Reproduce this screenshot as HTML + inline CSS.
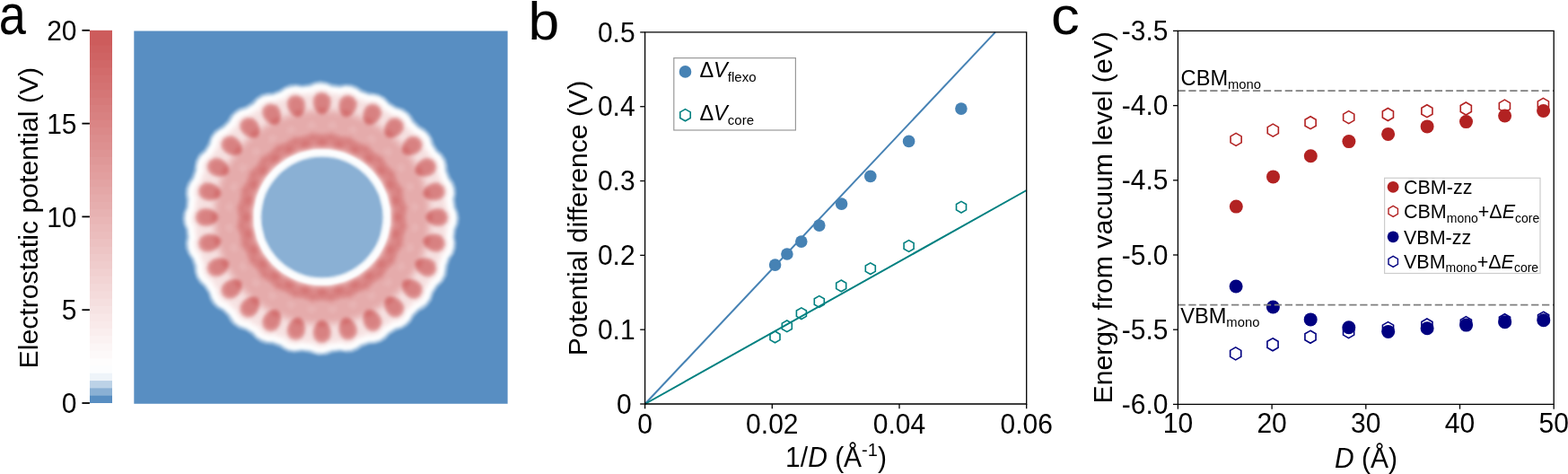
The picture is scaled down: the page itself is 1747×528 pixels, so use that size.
<!DOCTYPE html>
<html><head><meta charset="utf-8"><title>Figure</title>
<style>html,body{margin:0;padding:0;background:#fff;overflow:hidden;}svg{display:block;}text{font-variant-ligatures:none;font-kerning:normal;}</style></head>
<body><svg width="1747" height="528" viewBox="0 0 1747 528">
<defs>
<clipPath id="hmclip"><rect x="149.3" y="34.4" width="416.3" height="415.3"/></clipPath>
<filter id="hmblur" x="-5%" y="-5%" width="110%" height="110%" color-interpolation-filters="sRGB"><feGaussianBlur stdDeviation="1.1"/></filter>
</defs>
<rect width="1747" height="528" fill="#fff"/>
<rect x="100" y="33.80" width="25.0" height="415.20" fill="#cd5c5c"/>
<rect x="100" y="42.10" width="25.0" height="406.90" fill="#cd5c5c"/>
<rect x="100" y="50.41" width="25.0" height="398.59" fill="#ce6060"/>
<rect x="100" y="58.71" width="25.0" height="390.29" fill="#cf6363"/>
<rect x="100" y="67.02" width="25.0" height="381.98" fill="#d06767"/>
<rect x="100" y="75.32" width="25.0" height="373.68" fill="#d26b6b"/>
<rect x="100" y="83.62" width="25.0" height="365.38" fill="#d36f6f"/>
<rect x="100" y="91.93" width="25.0" height="357.07" fill="#d47272"/>
<rect x="100" y="100.23" width="25.0" height="348.77" fill="#d57676"/>
<rect x="100" y="108.54" width="25.0" height="340.46" fill="#d67a7a"/>
<rect x="100" y="116.84" width="25.0" height="332.16" fill="#d77e7e"/>
<rect x="100" y="125.14" width="25.0" height="323.86" fill="#d88181"/>
<rect x="100" y="133.45" width="25.0" height="315.55" fill="#da8585"/>
<rect x="100" y="141.75" width="25.0" height="307.25" fill="#db8989"/>
<rect x="100" y="150.06" width="25.0" height="298.94" fill="#dc8d8d"/>
<rect x="100" y="158.36" width="25.0" height="290.64" fill="#dd9090"/>
<rect x="100" y="166.66" width="25.0" height="282.34" fill="#de9494"/>
<rect x="100" y="174.97" width="25.0" height="274.03" fill="#df9898"/>
<rect x="100" y="183.27" width="25.0" height="265.73" fill="#e19c9c"/>
<rect x="100" y="191.58" width="25.0" height="257.42" fill="#e29f9f"/>
<rect x="100" y="199.88" width="25.0" height="249.12" fill="#e3a3a3"/>
<rect x="100" y="208.18" width="25.0" height="240.82" fill="#e4a7a7"/>
<rect x="100" y="216.49" width="25.0" height="232.51" fill="#e5abab"/>
<rect x="100" y="224.79" width="25.0" height="224.21" fill="#e6aeae"/>
<rect x="100" y="233.10" width="25.0" height="215.90" fill="#e7b2b2"/>
<rect x="100" y="241.40" width="25.0" height="207.60" fill="#e9b6b6"/>
<rect x="100" y="249.70" width="25.0" height="199.30" fill="#eababa"/>
<rect x="100" y="258.01" width="25.0" height="190.99" fill="#ebbdbd"/>
<rect x="100" y="266.31" width="25.0" height="182.69" fill="#ecc1c1"/>
<rect x="100" y="274.62" width="25.0" height="174.38" fill="#edc5c5"/>
<rect x="100" y="282.92" width="25.0" height="166.08" fill="#eec9c9"/>
<rect x="100" y="291.22" width="25.0" height="157.78" fill="#efcccc"/>
<rect x="100" y="299.53" width="25.0" height="149.47" fill="#f1d0d0"/>
<rect x="100" y="307.83" width="25.0" height="141.17" fill="#f2d4d4"/>
<rect x="100" y="316.14" width="25.0" height="132.86" fill="#f3d8d8"/>
<rect x="100" y="324.44" width="25.0" height="124.56" fill="#f4dbdb"/>
<rect x="100" y="332.74" width="25.0" height="116.26" fill="#f5dfdf"/>
<rect x="100" y="341.05" width="25.0" height="107.95" fill="#f6e3e3"/>
<rect x="100" y="349.35" width="25.0" height="99.65" fill="#f8e7e7"/>
<rect x="100" y="357.66" width="25.0" height="91.34" fill="#f9eaea"/>
<rect x="100" y="365.96" width="25.0" height="83.04" fill="#faeeee"/>
<rect x="100" y="374.26" width="25.0" height="74.74" fill="#fbf2f2"/>
<rect x="100" y="382.57" width="25.0" height="66.43" fill="#fcf6f6"/>
<rect x="100" y="390.87" width="25.0" height="58.13" fill="#fdf9f9"/>
<rect x="100" y="399.18" width="25.0" height="49.82" fill="#fefdfd"/>
<rect x="100" y="407.48" width="25.0" height="41.52" fill="#fcfdfe"/>
<rect x="100" y="415.78" width="25.0" height="33.22" fill="#eef4f9"/>
<rect x="100" y="424.09" width="25.0" height="24.91" fill="#bcd2e7"/>
<rect x="100" y="432.39" width="25.0" height="16.61" fill="#8ab0d4"/>
<rect x="100" y="440.70" width="25.0" height="8.30" fill="#588ec2"/>
<line x1="91.4" y1="449.00" x2="99.9" y2="449.00" stroke="#000" stroke-width="1.8"/>
<text transform="translate(85.50,460.20) scale(1.0,1.045)" text-anchor="end" font-size="30" font-family="Liberation Sans, Arial, Helvetica, sans-serif">0</text>
<line x1="91.4" y1="345.20" x2="99.9" y2="345.20" stroke="#000" stroke-width="1.8"/>
<text transform="translate(85.50,356.40) scale(1.0,1.045)" text-anchor="end" font-size="30" font-family="Liberation Sans, Arial, Helvetica, sans-serif">5</text>
<line x1="91.4" y1="241.40" x2="99.9" y2="241.40" stroke="#000" stroke-width="1.8"/>
<text transform="translate(85.50,252.60) scale(1.0,1.045)" text-anchor="end" font-size="30" font-family="Liberation Sans, Arial, Helvetica, sans-serif">10</text>
<line x1="91.4" y1="137.60" x2="99.9" y2="137.60" stroke="#000" stroke-width="1.8"/>
<text transform="translate(85.50,148.80) scale(1.0,1.045)" text-anchor="end" font-size="30" font-family="Liberation Sans, Arial, Helvetica, sans-serif">15</text>
<line x1="91.4" y1="33.80" x2="99.9" y2="33.80" stroke="#000" stroke-width="1.8"/>
<text transform="translate(85.50,45.00) scale(1.0,1.045)" text-anchor="end" font-size="30" font-family="Liberation Sans, Arial, Helvetica, sans-serif">20</text>
<text transform="translate(42.20,242.60) rotate(-90)" text-anchor="middle" font-size="30.2" font-family="Liberation Sans, Arial, Helvetica, sans-serif">Electrostatic potential (V)</text>
<text transform="translate(-1.20,38.20) scale(0.86,1.0)" font-size="63" font-family="Liberation Sans, Arial, Helvetica, sans-serif">a</text>
<g clip-path="url(#hmclip)"><g filter="url(#hmblur)" transform="translate(149.3,34.4)"><rect x="-10" y="-10" width="436" height="436" fill="#588ec2"/><path fill="#8ab0d4" d="M214.5 361.5l-9 0.5-11-3-7-1-9 1-7-1-5-2.5-5-3-7-2.5-9-1-5-2-5-3.5-5-5-6-4-8-2.5-6.5-4.5-3.5-4-3-5.5-5.5-5.5-6.5-3.5-4.5-4.5-3-5-2-7-4.5-7-5-4.5-3.5-5.5-2-6-1-7-2.5-7.5-4-6.5-2.5-6-0.5-6 1-7-0.5-8-2.5-6-1-6 0.5-6 3-8 0.5-7-1-7 0.5-6 2-6 4.5-7 2.5-7 2-11 3.5-7 6.5-6 3.5-6 3.5-9 4.5-6 9-6 5-5 3.5-6 4.5-4.5 5-3.5 7-2 6.5-4 5.5-5.5 6-4 6-1.5 7-0.5 6.5-2.5 6.5-4 6-2.5 7-0.5 7 1 7-1 7-2.5 6-1 6 1 8 2.5 7 1 8-1 6 0.5 6 2 6 4 6.5 2.5 11.5 2 7 3.5 6 6 7 4.5 8 2.5 6 4.5 3.5 4 3 5 5.5 5.5 6 3.5 5 5 3.5 6 2 6 3.5 6 5.5 5 4 6 1.5 6 1 7.5 2.5 6.5 4 6 2 6 0.5 6-1 8 1 7 2.5 7 1 6-1 7-2.5 6-1 8 1 7-0.5 6-2 6-4 6-2.5 7-1.5 11-4 7-6 6-4.5 7-2.5 8-4.5 6-4 3.5-5 2.5-6 6-3.5 6-4.5 4.5-5 3-7 2.5-7 4-5 5.5-5 3-6 2-7 0.5-8 3-5 3.5-6 2.5-6 0.5-8-1-8 1-7 2.5z"/>
<path fill="#bcd2e7" d="M214.5 359.5l-8 1-5-1-6-2.5-8-1-9 1-6-1-5-2-5-3.5-8-3-7-0.5-6-2-5-3-5-5.5-7-4-8-3-5-3.5-3-3.5-3.5-6-5.5-5.5-6-3.5-4.5-4-3-5-2.5-7-4.5-7-5-5-3.5-5-2-6-0.5-7-2.5-7-4-6-2-6-1-6 1.5-7-1-8-2.5-6-1-6 1-7 2.5-6 0.5-8-1-7 0.5-6 2.5-6 4-6 3-8 0-5 1-5 3-6 6.5-6 4.5-7 2.5-8 4.5-6 9-6 6-6 3.5-6 4.5-4.5 5-3 7-2.5 7-4 4.5-5 5.5-3.5 6-2 6 0 8-3 6-4 6-2 6-0.5 7 1 8-1 6-2.5 6-1 7 1 6 2.5 9 1 7-1 6 0.5 6 2.5 5 3.5 8 3 6 0 5 1.5 6 3 6 6.5 7 4 8 3 6 4 6 9 5.5 5.5 6.5 4 4 4 3.5 5 2 7 4.5 7 5 4.5 3.5 5.5 2 6 0 6 3 8 4 6 2 6 0.5 6-1 6 1 9 2.5 6 1 6-1 6-2.5 7-1 8 1 7-0.5 6-2 6-4 5-2.5 8-2 11-3 6-6 5.5-4.5 7.5-2.5 7-4 6-4 3.5-6 3.5-5 5-3.5 6-4.5 4.5-5 3.5-7 2-7 4.5-5 5-5 3.5-6 2-7 0.5-7.5 2.5-5.5 3.5-6 2.5-7 0.5-6-1-9 1-6 2.5zM216.5 273.5l14-3 11.5-5 11.5-8 8-8.5 7-10 5-12 2.5-13.5 0-14-3.5-14.5-5-10.5-7-10-9.5-9-11-7-12.5-5-12-2-13 0-14 3-11.5 5-11.5 8-8 8.5-7 10-5 12-2.5 13.5 0 14 3.5 14.5 5 10.5 7 10 9.5 9 11 7 12.5 5 12 2 13 0z"/>
<path fill="#eef4f9" d="M210.5 358.5l-7-0.5-7-2.5-10-1-8 1-6-1-4-2-5-3.5-9-3-6-0.5-6-2-5-3-4.5-5-7.5-4.5-8-3-5-3.5-6-9-6.5-6-5.5-3-4-4-3-5-2.5-7-4.5-7-5-5-3.5-5-1.5-5-0.5-7-3-8-4-6-2-5-0.5-6 1-7-1-9-2.5-6-0.5-6 0.5-6 2.5-6 1-9-1-6 0.5-6 2.5-6 3.5-5 3-9 0.5-6 2-6 3-4.5 5-4.5 5-8 1.5-6 3-5 4.5-4 6-3.5 6-6 5.5-8.5 5.5-4 8-2.5 8-5 5-5.5 6-3.5 11-1.5 8-3 6-4 5-1.5 6-1 7 1 9-1 6-2.5 6-0.5 6 1 6 2.5 9 1 6-1.5 6 0.5 6 2.5 5 3.5 9 3 6 0.5 6 1.5 5 3.5 5 5 7 4.5 6.5 2 5 3 4.5 4.5 3 5.5 6 6 9 6 4 5 2.5 8 5 8 5.5 5 3.5 6 1.5 11 3 8 4 6 2 5 0.5 6-1.5 6 1.5 9 2.5 7 0.5 5-0.5 6-2.5 6-1 9 1 6-0.5 6-2 6-4 5.5-3 8.5-1.5 10-3.5 6.5-5.5 5.5-4.5 7-3 8-4 5.5-8.5 5.5-6.5 6.5-3 5.5-4 4.5-5 3-7 2-7 4.5-5 5-5 3.5-6 1.5-6 0.5-9 3-5 3.5-6 2.5-6 0.5-6-1-9 1-10 3zM209.5 275.5l13-1 13-4 12-6.5 10.5-8.5 8.5-10.5 6.5-11.5 3.5-13 1.5-13-1.5-13-3.5-13-6.5-11.5-8.5-10.5-10.5-8.5-12-6.5-13-4-13-1-13 1-13 4-12 6.5-10.5 8.5-8.5 10.5-6.5 11.5-3.5 13-1.5 13 1.5 13 3.5 13 6.5 11.5 8.5 10.5 10.5 8.5 12 6.5 13 4 13 1z"/>
<path fill="#fcfdfe" d="M211.5 356.5l-7 0-8-3-10-1-7 1-7-1-8-5-9-3.5-7 0-5-2-5-3-4-5-8-5-8-2.5-5-3.5-5.5-8.5-6.5-6.5-6-3-4-4-2.5-4.5-2-6-5.5-9-4-3.5-3.5-4.5-2-6 0-6-3.5-9-3.5-5-2-6-0.5-5 1-6-1-10-2.5-6-1-5 1-6 2.5-6 1-10-1-6 0.5-6 2-5 3.5-5 3-9 1.5-10 3.5-6 5.5-5 5-8 2.5-8 4-5 8-5 7-7 2.5-5 4.5-4.5 5-3 6-1.5 8-5 5-5.5 5-3 5-1.5 6 0 9-3.5 5-3.5 5-2 6-0.5 6 1 10-1 6-2.5 5-0.5 6 0.5 6 2.5 10 1 6-1 6 0.5 6 2.5 4 3 9.5 3.5 5.5 0 5 1.5 5 2.5 5.5 6 8.5 5 7 2.5 5 3.5 6 8.5 6.5 6.5 5.5 3 4 4 3 5 2 6 5 8 5.5 5 3 5 1.5 5 0 6 3.5 9 4 6 1.5 5 0.5 5-1 6 1 10 2.5 5 1 6-1 5-2.5 7-1 9 1 7-0.5 5-1.5 5-4.5 6-3 9 0 5-1.5 5-3.5 6-5 4.5-5.5 8.5-2 7-3.5 5-9 6-6 6-3.5 6-4 4-4.5 3-6 1.5-9 5.5-3.5 4-4.5 3.5-6 2-6 0-10 3.5-5 3.5-5 2-6 0.5-6-1-10 1-8 3zM219 276.5l11.5-2.5 14-6 11-8 9-9.5 7.5-11 5-13 2.5-13-0.5-15-3-13-5.5-12-7.5-11-9.5-9-11-7.5-12-5-14-3-14 0-14 3-12 5-12 8-9.5 9.5-8 12-5 13-2.5 13 0.5 15 3 13 6 13 8 11 10.5 10 11 6.5 13 5 14 2 13.5-0.5z"/>
<path fill="#fefdfd" d="M213.5 354.5l-8 0.5-8-3-11-1-7 1-6-1-4-1.5-4-3.5-10-3.5-7 0-5-2-4-3-4-4.5-9-5.5-6-1.5-5.5-3.5-3-4-2.5-4.5-7.5-7.5-5.5-3-4-3.5-2.5-4.5-1.5-6-6-9-4-3.5-3.5-4.5-1.5-5 0-6-3.5-10-4-5-2-5 0-6 1-5-1.5-11-2-5-1-5 1-6 2.5-6 1-10-1-6 0-5 2-5 3.5-5 4-10 0.5-9 3.5-6 5.5-5 5.5-9 2-7 4-5 8-5 7-7 3-5.5 4-4 5-3 5-1 9-5.5 4.5-5 4.5-3 5-1.5 6 0 10-3.5 5-4 5-1.5 5-0.5 6 1 11-1 5-2.5 5-1 6 1 6 2.5 10 1 6-1 6 0.5 5 2 5 3.5 9 3 10 1.5 5 2.5 5 5.5 9 6 7 2 5.5 3.5 5 8 7.5 7.5 5 2.5 4.5 4 2 4 2.5 7 5 8 5 4.5 3 4.5 1.5 5 0 6 3.5 10 4 5 2 5 0 5-1 6 1 10 2.5 6 1 5-1 6-2.5 5-1 11 1 5-0.5 6-2 5-3.5 5-3.5 10 0 5-1 4-2.5 5-6 5.5-5.5 8.5-2 7-3.5 5-4 3-4 2-8 8-2.5 5-4 4-4.5 2.5-6 2-9 5.5-3.5 4-4.5 3.5-5 1.5-6 0-10 3.5-5 3.5-5 2-6 0.5-6-1-10 1-6 2.5zM216.5 282.5l15-3 16-7 9-6 13-13 8-12.5 5-13 2-9.5 0.5-11-0.5-11.5-3-12-6-13.5-6-9-13-13-10.5-7-14.5-6-15-3-14 0-15 3-16 7-9 6-13 13-8 12.5-5 13-2 9.5-0.5 11 0.5 11.5 3 12 6 13.5 6 9 13 13 10.5 7 14.5 6 15 3 14 0z"/>
<path fill="#fdf9f9" d="M212.5 353.5l-7 0.5-8-3-11-1.5-7 1.5-6-1-8-5-10-3.5-6-0.5-5-1.5-4-2.5-4-4.5-9.5-6-7.5-2.5-4-3-5-8-8-7.5-5-2.5-3.5-3.5-3-5-1.5-5.5-6-9.5-4-3-3.5-5-1.5-5 0-5-3.5-11-3.5-4-2-5-0.5-5 1.5-6-1.5-11-2-5-1-5 0.5-6 2.5-5 1-11-1-6 0.5-5 2-5 3-4 4-11 0-5 1-4 3-5 5.5-5 5.5-9 2-7 4-5 7.5-5 7.5-7 3-6 4-4 4-2 6-1.5 8.5-5.5 4.5-5 4-2.5 5-1.5 6-0.5 10.5-3.5 4.5-3.5 5-2 5-0.5 6 1.5 11-1.5 6-2.5 5-0.5 5 0.5 5 2.5 11 1.5 6-1.5 5 0.5 5 2 5 3.5 10 3.5 9 1 5 2.5 6 6 9 6 6 1 5.5 4 5 8 7.5 7.5 6 3 3.5 3.5 2.5 4 1.5 6 5.5 9 5 4 2.5 4 1.5 5 0.5 6 3.5 10.5 3.5 4.5 2 5 0.5 5-1.5 6 1.5 11 2.5 5 0.5 5-0.5 5-2.5 6-1.5 11 1.5 5-0.5 5-1.5 5-4 5-4 11-0.5 8-2.5 5-6 5.5-6 9.5-1.5 6-3.5 5-3 2.5-5 2.5-8 8-2.5 5-3.5 4-5 2.5-5.5 1.5-9.5 6-3 4-5 3.5-5 1.5-6 0-10 3.5-5 3.5-4 2-5 0.5-7-1.5-11 1.5-6 2.5zM218.5 282.5l14-3 14-6 14-10 10-11 8-13.5 5-14 2-14-1-16-4-14.5-6-12-8-11-11-10-13-8-13.5-5-10.5-2-18 0-14 3-14 6-14 10-10 11-8 13.5-5 14-2 14 1 16 4 14.5 6 12 8 11 11 10 13 8 13.5 5 10.5 2 18 0z"/>
<path fill="#fcf6f6" d="M211.5 352.5l-6 0.5-7-3-12-1.5-6 1.5-6-1-4-2-4-3-11-4-5 0-5-1-4-2.5-4-5-10-6-6-1.5-5-3.5-5-8-8-8-5-2.5-4-3.5-2.5-4-1.5-6-6-9.5-4.5-3.5-2.5-4-1.5-5-0.5-6-4-11-3-4-2-5-0.5-5 1.5-5-1.5-12-2.5-5-0.5-5 1-5 2-5 1.5-11-1.5-6 0.5-5 1.5-4 4-5 4-11 0-5 1-5 2.5-4 5-4 6-9.5 1.5-5.5 3-5 3.5-3 5-2.5 8-8 2-4.5 3-3.5 5-3.5 6-1.5 9-5.5 6-6 5-2.5 8-1 11-3.5 5-3.5 5-2 5-0.5 5 1.5 11-1.5 6-2.5 5-0.5 5 0.5 5 2.5 11 1.5 6-1.5 5 0.5 5 2 4.5 3.5 10.5 3.5 6 0 4 1 5 3.5 5 5.5 8 5 7 1.5 5 3.5 5 8.5 7 7 6 3 3.5 3 2.5 4 2 7.5 5.5 8.5 4.5 3.5 2.5 3.5 2 5-0.5 6 4 11 3.5 4 2 5 0.5 5-1.5 6 1.5 11 2.5 5 1 5-1 5-2.5 6-1.5 11 1.5 5-0.5 5-2 5-3.5 5-3.5 10-1 9-3 5-5.5 5-5.5 9-2 7-3.5 4.5-8 5-7.5 7.5-3 6-3.5 3.5-4 2-6 1.5-9.5 6-3.5 4.5-4 2.5-5 1.5-6 0.5-11 3.5-4 3.5-5 2-5 0-6-1-11 1.5-7 2.5zM219.5 282.5l16.5-4 12.5-6 12-9 11-12 8-14 4-12 2-14 0-10-1-7-4-14.5-7-13.5-9-11.5-10-8.5-11.5-7-13.5-5-12-2-18 0-16.5 4-12.5 6-12 9-11 12-8 14-4 12-2 14 0 10 1 7 4 14.5 7 13.5 9 11.5 10 8.5 11.5 7 13.5 5 12 2 18 0z"/>
<path fill="#fbf2f2" d="M211.5 351.5l-6 0.5-7-3-12-1.5-6 1.5-6-1-4-2-3-2.5-12-4.5-5 0.5-5-1.5-4-3-4-4.5-10-6.5-6-1.5-4.5-3-4.5-7.5-9-8.5-4-2-4-3.5-2.5-4.5-1.5-5-6-10-5-4-2.5-4-1-4-0.5-6-3.5-11-3.5-4-2-5-0.5-5 1.5-5-1.5-12-2.5-5-0.5-5 1-5 2-4 1.5-12-1.5-6 0.5-5 1.5-4 3.5-4 4.5-12-0.5-5 1-4 3.5-5 4.5-4 6-9 2-7 3.5-5 7-4 8.5-8 2.5-5 3.5-4 4-2.5 6-1.5 9-5.5 5-5.5 4-2.5 4-1 7-0.5 9-3 6-4.5 4-1.5 5-0.5 6 1.5 11-1 5-2.5 5-1 5 0.5 6 3 9 1.5 8-2 5 0.5 4 2 5 4 8 3 2 0.5 6 0 4 0.5 4.5 3 5.5 6.5 7 4.5 7 1.5 5.5 3.5 5.5 9.5 7 6.5 6 2.5 3.5 3.5 2 4 1.5 7 5.5 8 5.5 4 2.5 4 1 4 0 6 0.5 2.5 3 7.5 4 5 2 4 0.5 5-2 8 1.5 9 3 6 0.5 5-1 5-2.5 5-1 10 1.5 7-0.5 5-1.5 4-4.5 5.5-3 9.5 0 6-1 4-3 4.5-5.5 4.5-5.5 9-1.5 6-3.5 5.5-4 3-4 1.5-8 8.5-2 4.5-4 4-4 2.5-6 1.5-10 6.5-4 4.5-4 2.5-4 1-6 0.5-11 3.5-5 4-4 1.5-5 0.5-6-1.5-12 1.5-6 2.5zM220.5 282.5l13-3 13.5-6 11.5-8 10-10 8-11.5 6-14 3-15 0-15-3-15-6-14-8-11.5-11-11-12.5-8-15-6-14.5-2.5-17 0.5-13 3-13.5 6-11.5 8-10 10-8 11.5-6 14-3 15 0 15 3 15 6 14 8 11.5 11 11 12.5 8 15 6 14.5 2.5 17-0.5z"/>
<path fill="#faeeee" d="M212.5 350.5l-6 0.5-8-3-11-1-7 1-6-1-7-4.5-12-4.5-5 0.5-5-1.5-3-2.5-4-4.5-10-6.5-6-1.5-5-3-4.5-7.5-8.5-8.5-5-2.5-3.5-3-2-4-1-5-6.5-10-5-4.5-2.5-3.5-1.5-4 0-6-3.5-11-4-5-1.5-4-0.5-5 1.5-5-1.5-12-2.5-5-1-5 1-4 2-5 2-12-1.5-6 0-4 2-5 4-5 3.5-10 0.5-9 3-5 5.5-5 6-9 1.5-7 3.5-4.5 7.5-4.5 8.5-8 2-5 4-4.5 4-2 7-1.5 8-5 4-5 5-3.5 4-1 7 0 8-2.5 6-4.5 4-2 5-0.5 8 2 7-0.5 2-0.5 6-3.5 4-0.5 5 0.5 7 3.5 7 1 3 0 5-1.5 5 0 5 2 6 5 6 2 3 1 5-1 4 1 4.5 2.5 5.5 7 6 3.5 2.5 1.5 7.5 1.5 4 2.5 2.5 3 1.5 5 2 2.5 6 5.5 6 2.5 4 3.5 1.5 3 1.5 7.5 1.5 2.5 4 6 5.5 4 2.5 3 1.5 5-0.5 6 0.5 3 3 7 4.5 5 2 5 0 5-1.5 5 0 3 1 7 3.5 7 0.5 4-0.5 5-3.5 6 0 2-1 7 1.5 7 0 5-2 5-4.5 6-2.5 8-1 10-3 5-6 5-4.5 7.5-2.5 8.5-2.5 3.5-4 3-5 2.5-7 7-3 6-3 3.5-4 2-6.5 1.5-8.5 5.5-4.5 5.5-3.5 2.5-5 1.5-6-0.5-11 4.5-5 3.5-4 1.5-5 0.5-5-1.5-13 1.5-5 2.5zM221.5 282.5l15-4 12.5-6 12-9 8.5-9 7-10.5 6-14 3-14 0-17-4-17-7-14.5-10-12.5-11-9.5-14.5-8-12.5-4-14-1.5-15 0.5-15 4-12.5 6-12 9-8.5 9-7 10.5-6 14-3 14 0 17 4 17 7 14.5 10 12.5 11 9.5 14.5 8 12.5 4 14 1.5 15-0.5z"/>
<path fill="#f9eaea" d="M209.5 350.5l-5-0.5-7-3-10-1-6 1.5-5-0.5-4-1.5-4-4-2-0.5-10-3.5-5 0.5-4-1-4-2.5-5-6-9-5.5-7-1.5-4.5-3-5.5-9-7-7-5-2-4-3.5-2.5-4.5-1-5-5.5-9-5.5-5-2-3-2-5 0-6-3-10-4-5-2-5-0.5-4 1.5-6-1-10 0-2-3-5-0.5-4 0.5-4 3-7 1-9 0.5-2-2-5 0.5-5 1.5-4 4.5-6 3-8 1-2-1-5 1-4 2.5-4 7-6 4-6 1-2 1.5-7 2.5-4 3-2.5 7.5-3.5 4.5-4.5 2-2.5 2-5 3-3.5 4-2.5 9-2 5-3 2-1.5 3.5-5.5 3.5-2.5 5-1.5 8 0 6-1.5 3-1.5 4-4 5-2.5 4 0 8 2 7-0.5 2 0 5-3.5 5-1 5 0.5 8 4.5 5 0.5 3 0 7-2.5 4 0.5 5 2 6 5.5 5 2 3 0.5 6-1 4 0.5 5 3 5 7.5 4 2.5 3 1.5 8 1.5 5 3 2.5 3.5 1.5 5 2 3 4.5 4 6.5 2.5 4.5 3.5 2 4 1 7 1.5 3 2.5 4 7 5 3 4 1.5 5-1 5 0.5 4 2 5 6 7 1.5 4 0.5 5-2.5 6 0 3 1 5 4 8 1 5-1.5 5-2.5 4-1 3-0.5 6 2 8 0 5-2 4-4.5 5-1 2-2 6 0 9-1 4-3 4-6.5 5-4 6-1.5 8-2 4-4 3.5-6 2-1.5 1.5-5.5 6-5 9-4 2.5-9 2.5-7 4.5-6 7-4 2-4 1-6-0.5-9 3.5-5 4-5 2-5 0-6-1.5-10 1.5-6 3-4 0.5zM222 282.5l15-4 12-6 12-9 9.5-10 8-13 5-13.5 2-12.5 0-16.5-4-16.5-7-14-10-13-10.5-9-14.5-8-12.5-4-15.5-2-14.5 1-15 4-12 6-12 9-9.5 10-8 13-5 13.5-2 12.5 0 16.5 4 16.5 7 14 10 13 10.5 9 14.5 8 12.5 4 15.5 2 14.5-1z"/>
<path fill="#f8e7e7" d="M212.5 349.5l-6 0.5-8-4-8-1-10 2-5-1-9-6-8-3-8 0-4-1-3.5-2.5-3.5-5-2-1.5-7.5-4.5-6.5-1-4.5-3-6.5-10.5-5.5-5.5-6.5-3-3.5-3-2-4-1.5-6.5-4.5-7.5-1.5-2-5-3-2.5-4-1.5-4 0.5-7-2-6-1.5-4-4.5-5-1.5-4-0.5-4 2-8-0.5-7-1-3-3-5-0.5-4 0.5-5 3.5-7 1-7 0-3-2-6 0.5-4 1.5-4 5.5-7 2.5-6 0.5-3-1-5 1-4 2.5-4 7.5-6 3.5-5 1.5-3 0.5-6 3-5 3.5-2.5 7-3 4-3.5 2-2.5 2-6.5 3-3 4-2.5 9-1.5 5-3 2-1.5 3-5.5 5-3.5 5-1 8 0.5 5-1.5 3-1.5 4-4.5 4-2 5-0.5 9 2.5 5 0 3-1 6-4 4-1 5 1 8 4.5 4 1 3 0 7-3 6 0.5 4 2 6 6 3 1 4 1 8-1 4 1 5 3.5 4 7 2 1.5 4 2 9 1 5 3.5 2 3 2 6 2 3.5 3 2.5 8 2.5 4 3.5 2.5 5 0.5 7 1.5 3 3 4 6.5 4 3.5 4 1 5-1 7 0.5 3 1.5 4 6 6 2.5 5 0 5-3 7 0 3 1 4 4 7 1.5 5-1 5-4 6-1 3 0 5 2.5 8 0 5-2.5 5-4.5 4-1.5 3-1.5 5 0.5 8-0.5 4-3 4.5-6 3.5-2.5 3-2.5 4.5-1.5 8.5-3 5-3.5 2.5-5.5 1.5-2.5 2-4 4.5-3.5 7.5-2.5 3.5-4 2-7 1-2 1-5 3-6 7.5-4 2.5-4 1-6-0.5-3 0.5-6 2.5-7 5.5-3 1.5-5 0.5-6-2-3 0-7 1-8 3.5zM213.5 283.5l13.5-2 14.5-5 11-6 13-11 9-11.5 7-14.5 4-16 0.5-15-2.5-15-5-13-8-13-9-10-12-9-15-7-13-3-16-1-13.5 2-14.5 5-11 6-13 11-9 11.5-7 14.5-4 16-0.5 15 2.5 15 5 13 8 13 9 10 12 9 15 7 13 3 16 1z"/>
<path fill="#f6e3e3" d="M210.5 349.5l-5-0.5-7-4-5-1-4 0-8 2.5-4 0-5-2.5-5-5-5-2-3-0.5-7 0.5-4-0.5-4.5-3-4.5-6.5-4-3-4-2-8-1-5-3.5-2.5-4-1.5-4.5-3-4-3-2.5-7-3-4-3-2.5-5-1-7-3-5-2.5-3-5-3-3-4-1.5-5 0.5-8-1.5-5-1.5-3-5-5-1.5-4-0.5-5 2.5-8 0-4-1-4-4-6-1-4 1-5 4.5-8 0.5-4 0-4-2.5-6 0.5-5 2-5 6-6 2-5 0-3-1-6 1-4 2.5-4 8.5-6 2-3 1.5-3 1-8 3-5 4-2.5 7-2.5 3.5-3 1.5-1.5 2.5-8.5 3.5-3.5 4-2 10-1.5 3-1.5 2-1.5 3.5-7 4.5-3.5 5-1 11 1 4-2 5-6 6-2.5 5 0.5 8 3 5 0 7-5.5 5-1 5 0.5 8 5.5 3 1 3 0 8-3.5 6 0 4.5 2.5 6.5 7 3 1.5 9-1.5 5 0.5 5.5 3.5 4.5 8.5 3 2 11 1 5.5 3.5 3 4 2.5 9 3 2.5 8 2 4 2.5 3.5 6 0 9 1 2 3 3 7.5 4 3 4 1 6-1.5 9 2 4 6.5 6 2.5 4 0 6-3.5 8 0 3 1 3 5 7 1 5-1 6-5 6-0.5 2 0 4 3 9 0 5-2.5 5-6 5-1.5 3-0.5 3 1.5 9-1 4-3.5 5-6 3-2.5 2-2 4-1.5 10-3 5-4 2.5-6 1.5-2 1.5-3 3-3.5 9.5-3.5 3.5-4 2-7 0.5-3 1-4 3-5 7.5-4 3-5 1-6-1-3 0-4 1.5-7 6.5-5 2-5 0-6-2-4 0-4 0.5-8 4.5-3 0.5zM215 283.5l16.5-3 12.5-5 11.5-7 11-10 9-12 7-15.5 3-14.5 0.5-16-3.5-16-5-12.5-7-10.5-10-11-11-8-15-7-15-3.5-15.5-0.5-16.5 3-12.5 5-11.5 7-11 10-9 12-7 15.5-3 14.5-0.5 16 3.5 16 5 12.5 7 10.5 10 11 11 8 15 7 15 3.5 15.5 0.5z"/>
<path fill="#f5dfdf" d="M213.5 348.5l-5 1-5-1.5-6-4.5-3-4.5-3.5 3.5-6.5 3-4 0.5-4-0.5-3-1-3-3-3.5-5-1.5-4-8 3.5-5 0.5-4-0.5-4-2.5-2.5-3-3-6-0.5-4.5-5 1-7 0-4-1-3-2-2.5-3.5-2-6 0-7-7.5-0.5-5-1-3.5-2.5-3-4-1-3 0-7 1.5-5-1-1-4 0-5-2.5-3-2-3-3.5-1-4 0.5-6 1-4 2.5-4-1-1-4-1-5-4-2.5-4-1-4 0-4 2-5 5-6-0.5-1-4-2.5-4-4.5-2-6 0.5-4 1.5-3 4-5.5 4.5-3.5-3.5-4-3-6-0.5-4 1-4 5.5-7 7-4-3.5-9-0.5-4 1-3 1.5-3 2.5-2.5 5-3 6-1.5 1-1-1.5-11 1-3 2.5-3.5 3-2.5 5-1.5 8.5-1.5 1.5-11 1.5-3 3.5-3 3-1 5-1 9 0.5 3.5-9.5 4.5-4.5 3-1 4-0.5 12 3 6-9 3-2.5 4-1 6 0.5 10 5.5 8-7.5 6-2 6 1.5 10 8 11-6 4 0 3 1 4 2.5 7 9 10-3 6 0.5 3 1.5 3 3 5 11 12-0.5 3 1 3.5 2.5 3 5 1.5 10 1 1 10 1.5 5 3 2.5 3.5 1 3-1 10 0.5 2 10 4 4.5 5 1.5 6-3 10 0 2 9 6 2 3 1.5 4-0.5 6-5.5 9 7.5 9 2 6-1.5 6-8 9 5.5 11 0.5 4-1 4-3.5 4.5-8 5.5 2.5 8 0 8-2 4-2.5 2.5-11 4.5 1 6-0.5 6-1 3-2.5 3.5-5 3-10.5 1.5-1 7-1.5 5-2 3.5-3 2.5-6 1.5-10-1-2.5 7.5-3.5 5-3 2.5-4 1.5-4 0-10-4-2.5 5-4.5 5-3 2.5-4 1-6-1-6.5-3.5-2.5-2.5-4.5 5.5-6.5 4zM216.5 283.5l15.5-3 14-6 11-7 10.5-10 8-11 7-15 3.5-15 0-17-3.5-16-6-13.5-9-12.5-8-8-11.5-8-13.5-6-17-4-15 0-15.5 3-14 6-11 7-10.5 10-8 11-7 15-3.5 15 0 17 3.5 16 6 13.5 9 12.5 8 8 11.5 8 13.5 6 17 4 15 0z"/>
<path fill="#f4dbdb" d="M212.5 348.5l-4 0.5-3-0.5-3-1.5-3-2.5-1.5-2-1-3 0-7-0.5-1-1-0.5-1 0-1 1.5-1.5 6-3.5 4.5-7 3-3 0-4-1.5-3.5-3-2.5-4-0.5-5 1.5-6-0.5-1-1.5-1-1 0.5-3.5 6.5-3.5 3.5-7 1.5-5-1.5-4.5-3.5-3-6 1-5 2.5-6 0-1-1.5-1-1.5 0.5-5 6-4 2-7-0.5-5-3-2.5-4-1.5-6 1.5-5 4.5-5-0.5-2-1.5-1-6 4.5-4 1.5-5-0.5-4-1.5-3-3-1.5-3-0.5-7 2-5 6-5 0-2-2-0.5-7 3-4 0-6-2.5-3.5-4-1.5-5 1.5-7 4.5-4.5 5.5-2.5 0-2-0.5-1-1 0-7 1.5-5-1-4-3-2-2.5-1.5-4 0-3 3.5-8 4-3 7-1.5 0.5-2.5-7.5-0.5-5-1.5-4-5-1.5-5 1-6 4.5-5.5 5-2 7.5-0.5-0.5-2.5-7-1.5-4-3-3-5-0.5-5 2-5 6.5-5.5 4-1 7 1.5 1 0 0.5-1 0-2-5.5-2.5-3-2.5-2.5-5 0-6 3-5 5.5-3.5 3-1 5 0.5 5 2.5 1 0 1-1 0-1.5-5-4-2.5-4-0.5-7 3-5 4-3 7-2 4 1.5 6 4.5 1-0.5 1-1.5 0-1-3.5-4-2-4 0.5-5 1.5-4 2.5-3 3-1.5 8-1 4 1 5 6 1 0.5 1 0 1-2-2.5-6-0.5-4 2.5-6 4.5-3.5 5-1.5 8 2 2.5 2 3.5 6.5 1 0.5 1.5-1 0.5-1-1.5-5 0-4 3-5 3.5-3 4-1.5 3 0 7 2.5 3 3 2 7 1 1.5 1 0 1-0.5 0.5-1 0-6 1-3 4.5-4.5 6-2 6 1 5.5 4.5 2 3 0.5 8 2.5 0 2-7 2.5-3 5-3 6 0 5 2.5 4.5 5.5 1 3-1.5 7 1 1.5 2 0 2.5-5.5 2.5-2.5 6-2 4 0 6 3 4 6.5 0.5 5-2.5 6 1 2 1 0 5-5.5 3-1.5 7 0 3 1 3 2 2.5 4 1.5 7-1 3-4 5 0.5 2 1.5 1 6-4.5 2-0.5 6 0.5 4 1.5 3.5 4 1.5 6-1 6.5-6 5.5 0 2 2 0.5 6-2.5 3 0 7 3 3.5 4 1 6-1.5 6-3 3.5-5.5 2.5 0 2 0.5 1 1 0 7-1.5 4 1.5 5.5 5 1.5 3 0.5 4-1 4-3.5 5.5-2 1.5-7 1.5-0.5 2.5 7.5 0.5 3 1 5.5 6.5 1 5-1.5 6-5 5.5-3 1-7.5 0.5 0.5 2.5 7 1.5 3 2.5 3 6.5 0.5 5-3 6-5.5 3.5-4 1-6-1.5-1 0-0.5 1 0 2 6.5 3 2.5 4 1 8-2.5 6-3 2.5-6 2-5-1-4-2-1 0-1 1 0 1.5 5 4 2.5 4-0.5 8-3 5-5 3.5-6 0.5-3-1.5-6-4.5-1 0.5-1 1.5 0 1 3.5 4 2 4-0.5 4-2 6-5 4-6 1-6-1.5-5-6-1-0.5-1 0-1 2 2.5 6 0.5 5-3.5 6-4.5 3.5-6 1-6-2-2.5-2.5-3.5-6.5-1-0.5-1.5 1-0.5 1 1.5 7-1 5-5.5 5.5-3 1.5-4 0.5-4-1-5-3.5-1.5-3-1.5-6-1-1.5-2 0.5-0.5 7-1 4-3 3-5.5 3zM217.5 283.5l14.5-3 14.5-6 13-9 9-9 7-10 7-15 3.5-15 0-18-3.5-15-6-13.5-9-12.5-9.5-9-11.5-8-14.5-6-15.5-3-15 0-14.5 3-14.5 6-13 9-9 9-7 10-7 15-3.5 15 0 18 3.5 15 6 13.5 9 12.5 9.5 9 11.5 8 14.5 6 15.5 3 15 0z"/>
<path fill="#f3d8d8" d="M211.5 348.5l-3 0.5-4-1-5.5-4.5-1.5-4 0-9-2-1-2 0.5-1.5 7.5-3.5 5.5-7 2.5-4 0-3-1.5-3-2.5-2.5-4-0.5-6 2-6-0.5-1-2.5-1-1 0-3.5 7-3.5 4-7 1.5-5-1-4-3.5-2.5-5 0-5 4-8-0.5-1-2-1.5-2 1-5 6-4 2.5-7-0.5-5-3-2.5-3.5-1-6 2-5 5-6-0.5-1.5-2-1.5-1 0-5 4.5-5 2-5 0-4-2-2.5-2.5-2-3-0.5-7 3-5 6.5-5 0.5-1-1-1.5-2-1.5-7 3.5-5 1-6-3-3.5-4.5-1-5 1.5-6 3-3 8-4 0.5-1-1.5-3-8 1.5-5 0-4-2.5-2.5-3-1.5-3 0-4 2.5-7 5.5-3.5 7.5-1.5 0-3-0.5-1-8 0-5-2-4.5-5-1-5 1.5-5 4-5 4-1.5 9-0.5 0.5-1 0-3-7.5-1.5-5-3-2.5-4.5-0.5-6 3-5 5-4 5-0.5 7 1.5 1 0 1-1 0-3-6-2.5-4.5-3.5-1.5-4-0.5-4 2.5-6 7-4.5 3-0.5 3 0.5 7 3.5 2-1.5 1-1.5-0.5-1-6.5-5-2.5-4 0-6 2.5-5 4-3 7-1.5 5 2 5 4.5 2-0.5 1.5-2.5-5-6-1.5-3 0-5 1.5-4 2.5-2.5 3-2 8-1 4 2 6 7 2-0.5 1.5-2-3-6-1-5 2.5-6 4-3.5 5-1 7 1 3.5 3.5 3.5 7 2 0 1.5-1 0.5-1-2-8 1.5-5 4.5-5 6-1 6 1.5 4 2.5 1.5 3 1.5 7.5 3 0 1-0.5 0-8 1-3 4-4.5 6-2 5 1 6 4.5 2 3 0 9 1 0.5 3 0 1.5-7.5 2.5-3.5 5-3 6-0.5 5 2.5 4.5 5.5 0.5 5-2 6 1 1.5 3 0.5 3.5-7 2.5-2.5 5-2 4 0 6 3 4 6.5 0.5 4-4 8 1.5 2 2 0.5 5-6.5 3-1.5 7-0.5 3 1 3 2 2.5 4 1 7-1 3-5 6 0.5 1.5 2 1.5 1 0 5-4.5 4-1.5 5 0.5 4 2 2.5 2.5 2 3 0 7-1.5 4-6.5 5-0.5 1 1 1.5 2 1.5 7-3.5 4 0 6 2.5 3 4 1.5 6-2 6-3.5 3.5-6 2.5 0 2.5 1 1.5 9-2 4 1.5 5.5 5.5 1.5 6-0.5 4-3.5 5-3 1.5-7.5 1.5 0 3 0.5 1 8 0 3 1 5 6 1.5 5-1 5-4.5 5-3 1.5-9 0.5-0.5 1 0 3 7.5 1.5 4 2.5 2.5 6 0.5 5-1 3-2 3-5 3.5-5 0-6-1.5-1 0-1 1 0 3 6 2.5 4 3.5 1 3 0.5 6-2.5 6-5 3-4 1-3-0.5-7-3.5-2 1.5-1 1.5 0.5 1 6.5 5 2 4-0.5 7-2.5 5-5 3-6 0.5-4-2-5-4.5-2 0.5-1.5 2.5 5 6 1.5 4-0.5 4-2 5-2.5 2.5-3 2-6 0.5-5-2.5-6-7-2 0.5-1.5 2 4 8 0 4-3 6-4.5 3.5-5 1-6-2-3.5-3.5-3.5-7-2 0-1.5 1-0.5 1 2 8-1 5-6 6-6 1-4-1-4.5-3-2-4-1.5-7.5-3 0-1 0.5 0 8-1 4-5 4.5-4 1.5zM218 283.5l16.5-3.5 14-6.5 12.5-9 8.5-9 7-10.5 6-13.5 3.5-16 0-17-3.5-15-6-13.5-9-13-9-8.5-12-8-14-6-15-3-16 0-15 3-14 6-13 9-9 9-7.5 10-6.5 15-3.5 16 0 17 3.5 15 6.5 15 10.5 13.5 10 9 11 6.5 13 5.5 15 2.5 15.5 0z"/>
<path fill="#f2d4d4" d="M210.5 348.5l-6-1-5-4-1.5-5 0.5-8-1-1.5-4 0-2.5 9.5-2.5 4-5 2.5-5 0.5-6-3-3.5-5 0-5 2-7-0.5-2-4-1-3 7-3 3.5-3 2-6 1-4-1.5-3-2-3-6 0.5-6 4-8-2.5-2-2-0.5-5 7-5 3-7 0-5-3-2.5-4.5-0.5-5 2-5 5-6 0-1.5-3-2.5-7 5.5-4 2-3 0-5-1.5-2.5-2-2-3-1-3 0-5 3-5 6.5-5 1-1-1.5-3-1.5-1-8 4-5 1-6-2.5-3.5-4.5-0.5-5 1.5-6 3.5-3.5 8-3.5 0.5-1-1.5-3.5-9 2-4-0.5-4-1.5-3.5-3.5-1.5-6 2.5-7 4.5-4 9.5-2 0-3-0.5-1.5-1-0.5-8 0.5-5-1.5-3.5-4-1.5-6 1-5 4-5 5-1.5 8 0.5 1-0.5 0.5-1.5 0-3-9.5-2-4.5-4-2.5-6 1.5-6 6.5-6 5-0.5 8 2.5 1.5-1 1-3-0.5-1-8-3.5-3-2.5-2-6 0.5-5 3.5-4.5 6-3 5 0.5 8 4 2-2 1-2-1-1-6.5-5-2-3-1-3 1-6 3.5-4.5 5-2 4-0.5 4 1.5 7 5.5 3-2.5 0-1.5-4.5-5-2.5-5 0.5-5 3-5 5.5-3 7 0 4 2.5 4 6 2 1 3.5-2.5-4-7-1-4 1-4 2.5-4 3-2.5 3-1 8 1 2.5 1.5 1.5 2 4 8 3-0.5 1.5-1.5-2-7 0-5 3.5-5 3-2 3-1 5 0.5 5 2.5 2.5 3 2.5 9.5 4 0 1-1.5-0.5-7 1-4 4.5-4.5 6-1.5 5 1 5.5 5 1 3-0.5 8 1 1.5 4 0 3-10.5 4-3.5 4-1.5 4 0.5 3 1 5.5 5.5 1 5-2 8 0.5 1 2 1 2 0 3-7 3-3 6-2.5 6 1 4.5 4.5 2.5 6-0.5 4-3.5 6 0.5 2 3.5 1.5 5.5-7.5 4.5-1.5 4-0.5 3 1 5 4 1.5 3 1 6-2 4-4.5 5 0 1.5 2 2 2 0 6-5 3-1 6 0.5 4.5 3 3 5 0 7-2.5 3.5-6 4.5-1 1 1 2 2 2 8-4 4-0.5 7 4 2.5 3.5 0.5 3 0 4-2 4.5-4 3-6 2.5 0.5 4 1.5 1 8-2.5 4 1 6 4.5 2 5-0.5 5-3 5-4.5 2.5-7.5 1.5 0 4 1.5 1 7-0.5 4 1 5 5.5 1 5-1.5 6-4.5 4.5-4 1-7-0.5-1.5 1 0 4 8.5 2 4 2.5 2.5 5.5 0.5 5-3 6-5 3-4 0.5-8-2.5-1.5 1-0.5 4 8 3.5 2.5 2.5 1.5 3 0.5 6-1 3-2 3-5.5 3.5-5 0-9-4.5-2 2-1 2 1 1 6 4.5 3 4.5-0.5 7-3 5-4.5 2.5-6 0.5-4-2-5-4.5-2 0-2 2 0 1.5 4.5 5 2.5 5-0.5 3-2.5 6-2 2.5-3 1.5-6 0.5-5.5-2.5-5.5-7.5-3.5 1.5-0.5 2 3.5 6 1 5-1 3-2.5 4-4 3-5 1-6-1.5-4-4.5-3-7-2 0-2 1-0.5 1 2 8 0 4-1 2-5.5 5.5-3 1-4 0-4-1.5-3.5-3-2-4-1.5-7.5-4 0-1 1.5 0.5 8-1 4-4.5 4-5 2zM219 283.5l16.5-4 14-6.5 12.5-9.5 10-11 6.5-11 5-13 3-14-0.5-16-3-15-6.5-14-9-12.5-9-8.5-10-7-16-7-15-3-16 0-15 3-14 6-13 9-9 9-7.5 10-7 15-3 16 0 17 3 15 7 15 10.5 13.5 10 9 9 5.5 15 6.5 15 3 16.5-0.5z"/>
<path fill="#f1d0d0" d="M212.5 348l-4 0.5-3-0.5-3-2-2.5-2.5-2-6 0.5-8-0.5-1-1.5-0.5-3 0-0.5 0.5-2 9-3.5 5.5-7 2-6-1.5-3.5-3-2-5 0.5-4 2-8-4-2-1 0-1 1-3 8-4 3.5-6 1.5-5-1-3.5-3-2.5-5 0.5-6 4.5-8 0-1-4-2.5-2 1.5-4 6-5 3.5-6 0-5-2.5-3-4-1-6 2-5 6-6 0-2-3-2.5-1-0.5-6 5.5-4 2-4 0.5-5-1.5-4.5-4.5-1-3 0-4 1-3 2-3 8-6-1.5-3.5-2-1-7 4-6 1-5-2-4-4.5-1-5 1.5-6 4.5-3.5 6-2.5 2-1 0.5-1-1.5-3.5-1-1-7 2-5 0.5-5-2-3-3-1.5-6 2-7 4.5-3.5 10-2 0.5-1.5 0-3-1.5-1.5-8 1-6-2-4-4.5-1-5 1.5-5 3.5-4.5 6-2 8 1 1.5-1.5 0-3-0.5-1.5-8-1.5-5-2.5-3-4.5-0.5-5 2-5 5.5-4.5 4-0.5 9 2.5 2-1 1-4.5-7-2.5-4-3-2.5-4.5-0.5-4 1-3 1.5-3 6.5-4 3-0.5 3 0.5 8 4.5 1.5-0.5 1.5-2 0.5-2-0.5-1-7-4.5-3-4.5 0-6 2.5-5 4.5-2.5 6-1.5 4 1.5 6 5.5 2 0.5 3-3.5-5-6-2.5-4 0-5 1.5-4 3-3 3-1.5 7-0.5 5 3 5 7 1 0.5 2.5-1.5 1.5-2-4.5-8-0.5-4 1.5-5 4.5-4 5-1 7 1.5 3.5 3.5 2.5 7 1 1 1.5 0 3.5-2-2.5-10 2-6 4.5-4 6-0.5 6 2 3 2.5 1.5 4 1 7 0.5 0.5 4 0 1-1.5-0.5-8 1-4 4.5-4.5 5-1.5 6 1.5 5.5 4.5 1 4-0.5 8 1 1.5 4 0 0.5-0.5 2-9 1.5-3 5-3 5-0.5 5 2 5 5.5 0.5 4-2.5 8 1 2 4 1 5-10 5-2.5 5-0.5 3 1 3 2 3.5 6 0 5-4.5 8 0 1 3 2 2 0 5-7 4-2.5 7 0 5 3.5 2.5 4 0.5 6-2 4-5 5 0 2 3 2.5 1 0.5 6-5.5 3-2 5 0.5 4 1 4.5 5 1 6-1 4-1 2-8 6 1.5 3.5 2 1 7-4 4-1 7 3 3 4.5 1 5-2 6-3 2.5-8 3.5-0.5 1 1.5 3.5 1 1 7-2 4-0.5 3 1 5 5 2 6-1.5 5-4.5 4.5-10 2-0.5 1.5 0 3 1.5 1.5 8-1 4 1.5 4.5 5 1.5 5-1.5 6-4.5 4.5-5 1-7-1-1.5 1.5 0 3 0.5 1.5 8 1.5 4 2 3.5 6 0 5-2.5 5.5-5 3-5 0.5-7-2.5-2 1-1 4.5 7 2.5 4 3 1.5 3.5 0.5 6-2 5-5 4-6 0-9-4.5-1.5 0.5-1.5 2-0.5 2 0.5 1 7 4.5 2.5 4.5 0 7-3 5-4.5 2.5-6 0-4-2-5-4.5-2-0.5-3 3.5 6 7 1.5 5-1.5 6-2 3-3 2.5-3 1-6-0.5-4-3-5-7-2 0-3 2 0 1 4.5 8 0 6-3.5 6-6 3-5-0.5-4-2.5-2.5-3-3.5-8-4 1-1 2 2 7 0 5-1.5 3-2.5 3-4 2-5 0.5-5.5-2.5-3-5-2-9-1.5-0.5-3.5 0.5-0.5 2 0.5 7-1 4-2 3-5.5 3.5zM219.5 283.5l16-4 14-6.5 12.5-9.5 10-11 6.5-11 5-13 3-14-0.5-17-4-17-7-14-9.5-12-11-9-10-6-13-5.5-14-3-17 0.5-17 4-13 6-13.5 10-10 11-6.5 11-5 13-3 14 0.5 17 4 17 7 14 9.5 12 11 9 14 8 12 4 12 2.5 17-0.5z"/>
<path fill="#efcccc" d="M212.5 347.5l-4 0.5-3-0.5-5-4-2-6 0.5-9-2.5-1-3-0.5-1 1-1.5 9.5-3.5 5-7 2.5-6-1.5-3-3-2-5 0.5-5 2-6 0-2-4.5-2-1 0-1 1.5-3 7.5-4 4.5-6 1.5-5-1.5-3.5-2.5-2-5 0.5-6 4.5-9-4.5-3-2 1.5-4 6-4 3-6 1-3-1-3-2-2.5-3.5-1-6 2-5 5.5-6 0.5-2-2.5-3-2-0.5-7 6.5-6 2-6-1.5-3.5-3.5-1.5-5 0.5-5 2.5-4 7.5-5 1-2-3.5-4-8 4.5-6 1-5-2-3.5-3.5-1.5-5 1.5-6 4.5-4.5 9-3.5 0-2-1.5-3-1.5-1-9 3-4-0.5-3-1-4.5-4.5-1-6 2-5 2.5-3 4-2 9-1.5 0-5-1-1-9 0.5-5-1.5-4.5-4.5-1-5 1-5 4.5-4.5 5-1.5 8 0.5 2-0.5 0-5.5-10-2-4-2.5-3-4-0.5-5 2.5-5 5-4.5 6 0 8 2.5 1.5-1 1.5-5-9-3.5-3-2.5-2.5-4 0-4 0.5-3 2-3 6-4 3-0.5 3 1 9 4.5 2.5-3 1-2-7.5-5-3.5-5-0.5-6 3-5 4-2.5 6-1 5 2 6 6 2-0.5 2.5-3 0.5-1-7.5-9-1-5 1-4 2.5-3 3-2 8-0.5 5 3 5 7.5 1 0 4-2 0.5-2-4-7-1-5 1.5-5 4-4 5-1 7 1.5 3.5 4.5 2.5 6.5 1 1.5 1 0 4-1.5 0.5-1.5-2.5-10 2-6 4-3.5 6-1 6 2 2.5 2.5 1.5 5 1 6.5 1 1 4-0.5 1.5-1-0.5-8 1-5 4-4.5 5-1.5 6 1.5 5 4.5 1 4-0.5 8 0.5 1.5 5.5 0.5 1.5-9 1.5-3 4.5-3.5 6-1 5 2 4.5 5.5 0.5 4-2.5 9 0.5 1.5 5 1.5 5.5-11 4.5-2.5 5-0.5 3 1 3 2.5 3.5 6.5-1 5-4 8 3.5 3 2 0 4.5-7 3.5-3 7-0.5 3 1 3 2.5 2 4 1 6-2 4-5 5-0.5 2 3.5 3.5 10-7.5 5 0 4 1.5 4.5 4.5 1 6-1 4-1.5 2-8.5 6 2 4 1 1 1.5 0 7-4.5 4-0.5 6 2 4 5 1 5-2 6-3 2.5-9 3.5 0 1 2 5 8-2.5 4-0.5 3 1.5 5 4.5 1.5 6-2 6-4.5 3.5-9.5 1.5-1 1 0.5 4 1 1.5 8-0.5 5 1 4.5 5 1.5 5-1.5 6-4.5 4-4 1-8-0.5-2 0.5 0 5.5 10 2 3.5 2.5 2.5 5 0.5 5-2.5 5-5 3.5-5 0-8-2.5-1.5 1-1.5 5 9 3.5 3 2.5 1.5 3 0.5 6-1 3-2 3-5 3-3 0.5-3-1-9-4.5-2.5 3-1 2 7.5 5 3.5 5-0.5 7-3 5-5 2.5-5 0-4-2-6-6-2 0.5-2.5 3-0.5 1 6.5 7 2 5-1 5-2.5 4-3 2-3 1-6-0.5-4.5-3.5-4.5-7-2 0-3.5 3 5 10 0 5-4 6-5.5 2.5-5-0.5-4-2-2.5-4-3.5-8-5 1.5-0.5 1.5 2 7 0.5 6-3.5 5-4.5 3-5 0.5-5-2.5-3.5-5-1.5-9.5-1-1-5 1-0.5 1.5 0.5 8-0.5 4-2.5 3-5 3zM220 283.5l15.5-3.5 15-7.5 13-10 9.5-11 6.5-12 4.5-11 2.5-15-0.5-16-3.5-15-7.5-16-9.5-12-11-9.5-8-5-14-6-15-3-17 0-17 4-13 6-14 10.5-9.5 11-6.5 11-5.5 13-2.5 15 0.5 16 3.5 15 7.5 16 9.5 12 11 9.5 14 7.5 12 4.5 12 2 17.5-0.5z"/>
<path fill="#eec9c9" d="M211.5 347.5l-6 0-5-4-2-6 1-9-0.5-1-1.5-0.5-5 0-1.5 9.5-2 4-2 2-6.5 2.5-6-2-3.5-3.5-1.5-4 0.5-5 2.5-8-1-1-4-1.5-2 1-2.5 7.5-4.5 5-6 1.5-5-1-4-4-1.5-5.5 1-5 5-8-0.5-1-5-3-2 2-4 6-5 3.5-6 0.5-5-2.5-3-4.5 0-6 2-4 5.5-6 1-2-4.5-4-8 6.5-6 2-5-1-4.5-3.5-1.5-5 0.5-5 3-4 7.5-5 1-2-3-4.5-2 0-8 5-4 0.5-5-1-4-4-1.5-5 1.5-6.5 4-3.5 9.5-4 0-2-1.5-4-1-0.5-10 3-6-1-3-2-2-2.5-1-6 2-5.5 3-3 4-1.5 8.5-1 0.5-1-0.5-5-1.5-1-8 1-6-1.5-4.5-4.5-1-5 1.5-5 4-4.5 6-1.5 8 1 1.5-1 0.5-5-0.5-1-9.5-1.5-4-2-3.5-4.5-0.5-5 2-5 3-3 3-1.5 5 0 8 3 2-0.5 1.5-6-7.5-3-4-2.5-2.5-3.5-1-5 2.5-6 6-3.5 6 0 9 5 1.5-0.5 2-3 0.5-2-8-5.5-3.5-4.5 0-6 2.5-5 4-2.5 6-1 4 2 7 6.5 1.5 0 3.5-3 0.5-2-6.5-7-2-3 0-3 1-5 3-3.5 5-2 6 0.5 4 3 5 7.5 2 0 4-2.5 0.5-1-5-8-1-4 1-5 2-3 3.5-2 3-1 7 1.5 4 3.5 4 9.5 5-1.5 1-0.5 0-1.5-2.5-8 0-5 3.5-5 5-2.5 5 0.5 5 2.5 2.5 4.5 1.5 9.5 6 0 1-1.5-1-7 0.5-5 4.5-5 5-1.5 6 1.5 5 4 1 5-1 8 1 1.5 6 0 1-8.5 2-4 5-3.5 5-1 5.5 2.5 4 6 0 5-2.5 7 0 1.5 1 0.5 5 1.5 3.5-8.5 2-3 4.5-2.5 4-0.5 3 1 3.5 2 3.5 6 0 5-5.5 9 0.5 1 4 2.5 2 0 5-7.5 3-2.5 7-0.5 5.5 3 2.5 4 0.5 6-2 4-5 5-1 2 4.5 4 8-6.5 4-1.5 6 1 4.5 4 1.5 5-1 6-3 3.5-6 3.5-1 2 2.5 4 1.5 0.5 9-5 4 0 5 2 3.5 3.5 1 6-2 6-3.5 2.5-8.5 3.5 0 2 1.5 4 1 0.5 10-3 5 1 3 2.5 2.5 3 1 6-1.5 4-3 3.5-4 1.5-8.5 1-0.5 1 0.5 5 1.5 1 8-1 5 1.5 4 4.5 1.5 5-1.5 6-4 3.5-5 1.5-8-1-1.5 1-0.5 5 0.5 1 9.5 1.5 4.5 2.5 2.5 5 0.5 5-2.5 5-3 2.5-3 1-5-0.5-7-2.5-2 0.5-1.5 6 8.5 3.5 3.5 2.5 1.5 3 0.5 6-2.5 5.5-5 3-6 0-9-5-1.5 0.5-2 3-0.5 2 8 5.5 3 4.5 0 7-3 5-5 2.5-5-0.5-5-3-5-5-2 0-3 3-0.5 2 6.5 7 2 5-1.5 6-2 3-2.5 2-3 1-6-1-4-3-5-7.5-2 0-4 2.5-0.5 1 5.5 9 0.5 3-0.5 3-4 6.5-6 2-4-0.5-4-2.5-2.5-3.5-3.5-8.5-5 1.5-1 0.5 0 1.5 2.5 7 0 6-3 5-4.5 2.5-5 0.5-4.5-2-2-2-2-4-1.5-9.5-6 0-1 1.5 1 9-1.5 5-3.5 3.5-4 1.5zM220.5 283.5l15-3.5 15-7.5 13-10 9.5-11 7-12 4-11 2.5-15 0-16-3.5-15-7.5-15-10-13-11-9.5-8-5-14-6-14-3-18 0-17 4-15 7.5-13 10-9.5 11-7 12-4 11-2.5 15 0 16 3.5 15 8 16 10.5 13 11 9 15 8 10 3.5 12 2 18-0.5z"/>
<path fill="#edc5c5" d="M211.5 347.5l-6-0.5-4.5-3.5-2-6 0.5-10-2-1.5-5 0-1.5 10.5-3.5 5.5-4 2-3 0.5-6-1.5-3-3.5-1.5-5 0-4 3-7 0-2-5.5-2-2 0.5-3 8.5-4 5-6 1.5-5-1.5-4-4-1.5-5 1.5-5 4.5-7 0.5-2-5-3.5-2 0.5-5 8-5 3.5-6 0.5-5-3-2.5-4-0.5-6 3-5 6-6 0-1.5-5-4.5-8 7.5-6 2-5-1-4-3.5-2-5 1.5-6 3.5-4 6.5-4 1.5-2-4-5.5-8 5-5 1.5-6-1.5-4-3.5-1.5-5 1.5-6 5-4.5 9.5-3.5-0.5-2-2-5-11 3.5-6-1-3-2-2-2.5-1-6 2-5.5 3-2.5 4-1.5 9.5-1.5 0-6-1.5-1.5-9 1-6-1.5-4-4-1.5-5 1.5-5 4-4 6-1.5 9 1 1.5-1.5 0-6-9.5-1.5-5-2-3.5-4.5-0.5-5 2-5 4-3.5 2-0.5 5 0 9 3 1.5-1 2-6-9.5-3.5-3-2-2.5-3.5-1-5 2.5-5.5 6-4 6 0.5 10 5.5 3.5-4.5 0-2-8.5-5.5-3-4.5-0.5-6 2.5-4.5 4-2.5 6-1 5 2 6 6.5 2 0 4.5-4.5-6.5-7-3-5 0.5-6 3.5-4 5-2 6 0 4.5 4 4.5 7 2 0.5 5-3.5-0.5-2-4.5-7-1.5-4 1-4 2.5-4 3-2 3-0.5 7 1 3.5 3.5 3.5 9.5 1 1 5-1.5 1.5-1 0-1-3-8 0-5 2.5-5 3-2 3-1 5 0.5 5 2.5 2.5 4 1.5 10.5 6-0.5 1-1-0.5-8 0.5-5 4-5 5-1.5 5 1 5.5 4.5 1 5-0.5 9 1 1 6 0.5 1.5-9.5 1.5-4 5-3.5 5-0.5 5 2 4.5 6 0 5-3 8 0.5 1.5 6 2 1-1 3-8.5 2-3 4-2 4-0.5 3 0.5 3 2 3.5 6 0 5-5.5 9 1 2 4 2.5 2-0.5 4.5-7 3.5-3.5 7-0.5 5.5 3 2.5 4 0.5 6-2.5 4-6 6 0 1.5 5 4.5 7-7 5-2 6 1.5 4.5 3.5 1.5 5-1 6-3 3-6.5 4-1.5 2 4 5.5 8-5 4-1 6 1.5 4 4 1.5 6-2 6-3.5 2.5-9.5 3.5 0.5 2 2 5 10-3 5 0 5.5 5 1.5 3 0 4-1.5 4-3.5 3.5-12.5 2.5 0 6 1.5 1.5 9-1 5 1 4 4.5 1.5 5-1 5-4.5 4.5-5 1-9-1-1.5 1.5 0 6 10.5 1.5 4 2.5 2.5 5 0.5 5-2.5 5-5.5 3.5-5-0.5-8-3-1.5 1-2 6 9.5 3.5 3 2 2 3.5 0.5 6-2.5 5.5-5 3-6-0.5-10-5.5-3.5 4.5 0 2 8.5 5.5 3 4.5-0.5 7-2.5 4.5-5 2.5-5 0-4-2-6-6.5-2 0-4.5 4.5 6.5 7 3 5-1 6-2.5 4-5.5 3-6-1-4.5-4-4.5-7-2-0.5-4 2.5-1 2 5.5 9 1 3-0.5 3-4 6-3 2-3 0.5-4-0.5-4-3-2-3-3-8.5-1-1-6 2-0.5 2.5 3 8 0 5-3.5 5-4 2.5-5 0.5-4-2-2.5-2-2-4-1.5-10.5-6.5 0.5-1 2 1 9-1 4-2 3-5.5 3zM221 283.5l14.5-3.5 15-7 13-10.5 10.5-12 7.5-15 3-10 2.5-12-1-17-3-14-7-15-11-14-11.5-9.5-15-8-9-2.5-12-2.5-18 0-16 4-15 7-13 10.5-9.5 11-7 12-4 10-3 15 1 18 3 14 7 15 11 14 11.5 9.5 15 8 14 4 10 1 16.5-0.5z"/>
<path fill="#ecc1c1" d="M210.5 347.5l-6-1-4-4-1.5-6 1-9-0.5-1.5-1-0.5-6.5 0-1.5 11-1.5 3-2.5 3-6 2-6-2-3-3-1.5-5 0.5-4 3-9-1-1-5-2-2 1-3 9-4 4.5-6 2-5-1.5-4-4-1-5 1.5-6 5-8-5.5-4-2 0.5-5 8-5 3.5-6 0.5-5-2.5-2.5-5 0-5 2.5-5 6.5-6 0-2-4-4-1.5-0.5-8 8-6 2-5-1.5-4-3-1.5-5 1-6 3.5-4 7-4 1.5-2-3-5-1.5-1-8 5-5 1.5-6-1-3.5-3.5-1.5-5 1-6 5-4.5 10-3.5 0-2-2-5-1-0.5-10 3.5-4 0-3-1-4.5-4-1.5-6 2-5 3.5-3 3.5-1.5 10.5-1.5-0.5-6 0-1-2-0.5-9 1-6-1.5-4-4-1-5 1.5-5 3.5-4 6-1.5 9 1 2-0.5 0-1 0.5-6-13.5-2.5-4-3.5-1.5-4 0.5-6 5-5 6-1 11 3.5 1-0.5 2-5 0-2-10-3.5-4-3.5-2-5 1-6 4-3.5 3-2 3 0 5 1.5 8 5 1.5-1 3-5-1.5-2-7-4-3.5-4-1-5 1.5-5 4-3.5 6-1.5 6 2.5 7 7 1.5-0.5 4-4 0-2-6.5-6-2.5-4 0-5 2.5-5 5-3 7 0.5 4.5 3.5 4.5 7.5 1 1 2-1 4.5-3.5-6-10-0.5-6 3.5-5 5.5-2.5 6 1 3 1.5 2.5 4 2.5 8 1 1 6-2 1-0.5 0-1.5-3-8-0.5-5 3-5 2.5-2 3-1 5 0.5 5.5 3.5 2 4 0.5 8 1 2.5 7-1 0.5-1.5-1-9 0.5-4 4-4.5 6-2 5 2 5 4.5 0.5 4-1 9 0.5 1.5 7 1 1-2.5 0.5-8 2-4 4.5-3.5 5-0.5 5 2 4.5 6-0.5 5-3 8 0 1.5 1 0.5 6 2 1-1 2.5-8 2.5-3.5 4-2.5 4-0.5 3 1 3 1.5 2.5 3 1.5 4-1 5-5.5 9 4.5 3.5 2 1 1-1 4.5-7.5 3.5-3 7-1 5 3 2.5 4 0.5 6-2 4-6.5 6 0 2 4 4 1.5 0.5 7-7 5-2 6 1 4 3.5 2 5-1.5 6-3.5 3.5-6 3.5-1.5 2 3 5 1.5 1 8-5 4-1.5 6 2 4 3.5 1.5 6-2.5 6-4 2.5-8 3-1 0.5 0 2 2 5 1 0.5 10-3.5 5 0.5 5.5 4.5 1 3 0.5 4-1.5 4-3.5 3.5-13.5 2.5 0.5 6 0 1 2 0.5 8-1 5 0.5 5 5 1.5 5-2 6-4.5 4-5 0.5-8-1-2 0.5-0.5 7 10.5 1.5 4 1.5 3.5 6 0.5 5-2.5 5-5.5 3-5 0-8-3-2 0-0.5 1-1.5 6 9 3.5 4 2.5 1.5 3 1 5-0.5 3-2 3-5 3.5-3 0-4-1-9-5.5-1.5 1-2.5 4-0.5 2 8.5 5 3.5 4 0 7-2.5 5-5 3-5-0.5-4-2-7-7-1.5 0.5-4.5 5 7 7 2.5 4 0 4-2 5-4.5 4-6 0.5-3-1.5-2.5-2-6.5-9.5-5 3-1.5 1.5 0.5 1 4.5 7 1.5 6-2.5 6-4.5 3.5-5 0.5-5-2-3-4-3-9-1-1-6.5 2-0.5 2 3 8 0 6-3 5-4 2.5-6 0-5-3.5-2.5-5-0.5-8-1-2.5-7 1-0.5 1.5 1 9-1 5-3.5 4-5 2zM221.5 283.5l15-3.5 14-7 13.5-10.5 10-12 7-13 3-8 3-15 0-15-4-17-7-15-11-14-11.5-9.5-15-8-9-3-12-2-18 0-17 4-14 7-13 10-7.5 8.5-5 7-7 15-4 17 0 16 4 17 7 15 11 14 11.5 9.5 17 9 12 3 10 1.5 12-0.5 5-0.5z"/>
<path fill="#ebbdbd" d="M212.5 347l-4 0.5-3-1-3-2-2-2-1.5-6 1.5-10-0.5-1-1.5-0.5-6-0.5-1 1-1 11-1.5 3-2.5 2.5-6 2-6-1.5-3-3.5-1.5-4.5 0.5-4 3.5-10-6.5-2.5-2 0.5-3 9-4 5.5-6 1.5-5-1.5-3.5-3.5-1.5-6 1.5-5 5.5-8.5-6-4.5-2 1-5 8-4 3.5-6 1-5.5-2.5-2.5-4-0.5-6 2-4 7.5-7 0.5-2-5.5-5-2 1-6 6.5-5 2.5-6-0.5-4.5-3.5-2-5 1.5-6 3-3.5 7.5-4.5 2-2-4.5-6.5-2 0.5-7 5-5 1.5-5-1-4.5-3.5-1.5-5 1.5-6 4.5-4 10-3.5 1-0.5-0.5-2-2.5-6-11 4-4 0-3-1-4.5-4-1-6 2-5 3.5-3 4-1.5 8-0.5 2-1-0.5-7-1.5-1-9 1-6-1-4-3-1.5-3-0.5-3 1.5-5 4.5-4 6-1 9 1 1.5-1 0.5-7-2-1-9-0.5-4-2-4-4.5-0.5-5 2-5 5.5-3.5 6 0 9 3.5 1 0 1-2 2-6-11-4-3-2-2-3-1-6 3-5 5-3 4-0.5 4 1.5 7 5 2 0.5 4-5.5 0-2-8.5-5-3.5-4-1-3-0.5-3 2.5-5 5-3 3-1 3 0.5 4 2 6 6.5 2 1 5-4.5 0.5-1.5-7-7-3-5 0.5-5.5 3.5-4.5 4.5-2 6 0.5 4 3.5 5 8 2 1 6-4.5-5.5-8.5-1.5-5 1-5 4-4 5-1.5 7 2 3 4.5 3 9 2 0.5 6.5-2.5-3.5-12 0-3 1-3 4-4 6-1 6 2.5 2 2.5 1.5 4 0.5 9 1 1 7-0.5 1-1.5-1.5-9 1-5 3.5-4.5 5-1.5 6 1.5 4.5 4.5 1 5-1.5 9 1 1.5 7 0.5 1-1 1-10 1.5-4 4.5-3 5-0.5 5 2 4 5.5 0 5-3.5 9 0.5 1.5 7 2.5 1-1 2.5-8 2-4 4.5-2.5 4-0.5 3 0.5 3 2 2 2.5 1.5 4-0.5 5-6 9 1 2 4 2.5 2 0.5 1-1 5-8 3.5-3 6.5-0.5 5 2.5 2.5 4 0.5 6-2.5 4-6.5 6-0.5 2 5.5 5 2-1 6-6.5 4-2 6 1 5 3.5 1.5 5-1 6-3.5 3.5-8 4.5-0.5 1 4.5 6.5 2-0.5 7-5 4-1 6 1.5 3.5 3.5 1.5 6-2 5.5-4 3-9 3-1 0.5 0.5 2 2.5 6 11-4 5 0.5 5 4.5 1.5 3 0.5 4-2 4-3 3-4 1.5-8 0.5-2 1 0.5 7 1.5 1 9-1 5 0.5 4.5 4.5 1.5 5 0 3-1.5 3-4.5 3.5-5 0.5-9-1-1.5 1-0.5 7 2 1 9 0.5 4 2 3 4.5 1 5-2 5-5 3.5-6 0-9-3.5-1 0-1 2-2 6 11 4 4 4 1 7-1 3-2 3-4 2-4 0.5-4-1.5-7-5-2-0.5-4 5.5 0 2 8.5 5 3.5 4 1 3-0.5 4-2.5 5-5 3-5-0.5-4.5-2.5-6.5-7-2 0.5-4 4-0.5 1.5 7 7 2.5 4 0.5 4-2 5-4.5 4-6 0.5-5.5-3.5-6.5-10-6 3-1 2 5.5 8 1.5 6-2.5 6-4.5 3.5-5 0.5-5-2.5-3-4.5-3-9-1-1-7 2.5-0.5 1.5 3.5 9 0 5-2.5 5-4.5 3-6 0-4.5-3-2.5-5-1-10-1-1-7 0.5-1 1.5 1.5 9-1 5-1.5 3-5 3.5zM222 283.5l14.5-3.5 14-7 13.5-10.5 10-12 8-15 2-6 3-14 0-17-4-16-7-15-11-14-11.5-9.5-15-8-9-3-11-2-19 0-17 4-14 7-13.5 10.5-10 12-8 15-2 6-3 14 0 17 4 16 7 15 11 14 11.5 9.5 17 9 16 4 16 0.5 7.5-1z"/>
<path fill="#eababa" d="M212.5 346.5l-4 0.5-3-0.5-4.5-4-1.5-6 1.5-11-0.5-1-2-0.5-6-0.5-1 0.5-1 11.5-1 3-2.5 3-3.5 2-3 0.5-5.5-1.5-3-3-1.5-5 0.5-5 3.5-8 0-1.5-7-3-2 0.5-3 10-4 5-6 2-5-1.5-4-4.5-0.5-5 1.5-5 6-9-7-4.5-2 1-4.5 7.5-4.5 4.5-6 1-5.5-2.5-2.5-4 0-6 2.5-5 7-6 1-2-6.5-6-8 8-4 2.5-6 0-3-1.5-2.5-2-1.5-5 0-3 1-3 4-4 7-4 2-2-3.5-6-1.5-1-9 5.5-4 1.5-6-0.5-4-3.5-1.5-3-0.5-3 2-5.5 5-4 10-3 0.5-0.5 0-2-2.5-6-1-0.5-11 4-4 0-3-0.5-4-4-1.5-3 0-3 2-5 3.5-3 5-1.5 9-0.5 1-1-0.5-7-1.5-1.5-10 1.5-6-1-4.5-4-1.5-5 2-5 4-4 5-1 10 1.5 2-0.5 1-8-1-1-11-1-4-1.5-3.5-4.5-1-5 2.5-5 5-3.5 6 0 10 4 1.5-1.5 2-7-11.5-4-3-2.5-2-3-0.5-5.5 2.5-5 5-3 4 0 4 1.5 9 5.5 1-0.5 3.5-5.5 0-2-8.5-5-4-4-1-6 2-5 4-2.5 6-1 5 2.5 7 7.5 2 0 5.5-5.5-1-2-7-6-2.5-5-0.5-3 1-3 3-4 4.5-1.5 4-0.5 2.5 1 4 4 4.5 7.5 2 1 7-4.5-6-9-1.5-5 1-5 3.5-4 6-1 6 2 3 4 3 10 2 0.5 6-2 1-1.5-4-11 0-4 1-3 4-3.5 6-1 5 2 3 2.5 1 4 1 10.5 1 0.5 7-1 1.5-1-1.5-10 0.5-5 3.5-4 5-2 6 1.5 4.5 4.5 0.5 5-1.5 9 1 2 7.5 1 1-0.5 1-10.5 1-4 5-4 5-0.5 5 2 4 5.5-0.5 5-3.5 9 0 1.5 1 1 7 2 1-0.5 2.5-9 2.5-4 4-2.5 4-0.5 3 0.5 3 2 2 2.5 1.5 4-1 5-6.5 10 6 4 2 0.5 1-1 4.5-7.5 3.5-3.5 4-1 3 0 5 3 2.5 4.5 0.5 5-2.5 4-7 6-1 2 6.5 6 8-8 4-2 6 0.5 4.5 3.5 2 5-1.5 6-3 3-8.5 5 0 2 3.5 5.5 1 0.5 8-5 4-2 3 0 6 3 2.5 5 0 6-2 3-2.5 2-11.5 4 2 7 1.5 1.5 10-4 5 0 5 3.5 2 3 0.5 3-1 5-3.5 4-5 1.5-9 0.5-1 1 1 8 2 0.5 9-1.5 5 0.5 4.5 4.5 1.5 5-0.5 3-1.5 3-4 3.5-5 0.5-9-1.5-2 0.5-1 8 1 1 11 1 4 1.5 3 5.5 0.5 4-0.5 3-2 3-5 2.5-5 0-10-4-1.5 1.5-2 7 11 4 4.5 4 1 7-1 3-2 2.5-4 2.5-5 0-4-2-8-5-1 0.5-3.5 5.5 0 2 8.5 5 4 4 0.5 7-3 5-4.5 2.5-5 0-5-3.5-6-6.5-2 0-5.5 5.5 1 2 6 5 3 4 1 4-1.5 5-4 4-3 1-3 0.5-3-1-3-2.5-7-10.5-7 3.5-0.5 2 5.5 8 1.5 6-2.5 6-4 3-5 0.5-5-2.5-3-4-3-10-1-0.5-7.5 2.5-0.5 2 3.5 9 0.5 5-1 3-2 2.5-4 2.5-6 0-3-1.5-2-2-2-5.5-1-10.5-2-0.5-7 1-0.5 2 1.5 9-0.5 4-1.5 4-5 3zM222.5 283.5l14-3.5 16-8 12-9.5 9.5-12 8-15 2-6 3-14 0-17-4-17-8-16-10.5-13-12-9.5-16-8-16-4-22 0-16 4-14 6.5-14 11-9.5 12-8 15-2 6-3 14 0 17 4 17 8 16 10.5 13 12 9.5 16 8 16 4 17 0.5 7-1z"/>
<path fill="#e9b6b6" d="M211.5 347l-6-0.5-2.5-2-2.5-3-1-6 2-11-2-1-8-0.5-1.5 12.5-1.5 4-2 2-6 2.5-3-0.5-3-1.5-3-3.5-1-5 1-4 4-10-8-3.5-2 0.5-3 11-4 5-6 1.5-5-1-3.5-4.5-1-6 2-5 6-8-0.5-1.5-7-4-2 1-5 9-4 3.5-6 1-5-2-3-5 0.5-6 2.5-4 8-7 0-1.5-5-5.5-2-1-7 8-5 3-6 0.5-5-3.5-2-5 0-3 1.5-3 3.5-4 9.5-5 0-2-4.5-7-2 0.5-8 6-4 1.5-6-1-4-3-1.5-3 0-3 1-4 1.5-2 5-3.5 9-2.5 1.5-1 0-1-2.5-7-1-1-12 4.5-4 0-3-1-4-3.5-1-3-0.5-3 2-5 4-3 4.5-1.5 10.5-0.5-0.5-9-2-1-9 2-6-1-5-3.5-1.5-5.5 1.5-5 2-2.5 3-1.5 6-1 9 2 2-1 0.5-9-10.5-0.5-5-2-4-3.5-1-3 0-3 2-5 5-3.5 6 0.5 10 4 1 0 1-1 2.5-8-1.5-1-9-2.5-4-2.5-3-4-0.5-4 1-3 1.5-2.5 6-3.5 3 0 4 1.5 9 6.5 2-1 3.5-6 0-2-9.5-5-3.5-4-1.5-3 0-3 2.5-5 4.5-2.5 3-1 3 0.5 5 3 6 7 2 0.5 6.5-6.5-8.5-8-3-5-0.5-3 1-3 3.5-4 5-1.5 4 0 2 1 3.5 3.5 4.5 8.5 2 1 7-4 0.5-1.5-6-8-2-5 0.5-5 4-4.5 5-1.5 5 1 2 1 3 5 3 10 2 0.5 8-3.5-4.5-12-0.5-3 1-3 4-4.5 6-1 5 2 2.5 2.5 1.5 5 1 10.5 9-0.5 1-2-2-10 1-5 3-4 5-1.5 5 1 5 4.5 1 5-2 10 1 2 9 0.5 1-10.5 1.5-5 4.5-4 5-0.5 5 2.5 3 4 1 2-1 5-3.5 9 0.5 2 7 2.5 2-0.5 3-10 2-4 4-2.5 4-0.5 3 1 3 2 3 6 0.5 2-1.5 3.5-6.5 9.5 0.5 1.5 6 3.5 2 0.5 5.5-9.5 3.5-3.5 4-1 3 0.5 5 2.5 2.5 4.5 0 5-2.5 4-8 7 0 1.5 5 5.5 2 1 7-8 5-3 6 0.5 4.5 3.5 2 5-1.5 6-4 3.5-8.5 4.5 0 2 4.5 7 2-0.5 7-5.5 4-1.5 3 0 5.5 2.5 3 5-0.5 6-2 3-2 1.5-12.5 4.5 2.5 8 1 1 1 0 9-4 6-0.5 5 3.5 2 3 0.5 3-1 5-3.5 3.5-5 2-10.5 0.5 0.5 9 2 1 10-2 5 1 4 4 2 5-1.5 5-4.5 4-5 1-10-2-2 1-0.5 9 10.5 0.5 5 2 2 1.5 1.5 3 1 5-1 3-1.5 2.5-5 3-6-0.5-10-4-1.5 2-2 7 1.5 1 10 3 3 2 2 2 1 7-1 3-2 2.5-4 2-5 0-4-1.5-7-5.5-2-0.5-4.5 7 0 2 9.5 5 4 4.5 0 6.5-2.5 5-4.5 2.5-5-0.5-5-3-6-7-2-0.5-6.5 6.5 8.5 8 2.5 4 0.5 4-1.5 4-1.5 2.5-5 2.5-3 0-3-1-4.5-4-5.5-9.5-2 0.5-6 3.5-0.5 1.5 7 10 1 4-0.5 3-3 5-3 2-3 0.5-4-0.5-4-3-2-4-3-10-2-0.5-7 2.5-0.5 2 3.5 9 1 6-1 2.5-2 2.5-5 3-3 0-3-0.5-4-3.5-2-5-1-11.5-9 0.5-1 2 2 10-1 5-2 3.5-5 3zM217.5 284.5l17-3.5 15-7 13-9.5 4.5-5 8-10 8-16 4-17 0-18-4-17-8-16-10.5-13-12-9.5-16-8.5-15-3.5-7-0.5-15 0-17 4-16 8.5-12 9.5-10.5 13-7.5 14-1.5 5-3 15 0 17 4 17 6 13 10 13 5.5 5.5 12 9 15 7 15 3.5 18 0z"/>
<path fill="#e7b2b2" d="M211.5 346.5l-3 0.5-3-1-2.5-1.5-2-3-1-6 2-11-0.5-1.5-1-0.5-8-0.5-1.5 0.5-1 13-1.5 3.5-2 2.5-6 2-3-0.5-3-1.5-3-4-0.5-5 5-14-9.5-3.5-1 0.5-3 11-3 4.5-3 2-3 1-3 0-3-1.5-3.5-4-0.5-6 2-5 6.5-9-8.5-5.5-1 0-1 1.5-4.5 9-3.5 3-3 1.5-3 0.5-3-0.5-3-2-3-4.5 0.5-6 3.5-5 7.5-6 0.5-2-7-7-2 1.5-6.5 7.5-4.5 3-6 0-5-3-2-5 0.5-3 1-3 4.5-4.5 9.5-4.5 0.5-1 0-1-4.5-7-1.5-1-9 6.5-5 2-6-0.5-4-3.5-1.5-5.5 1-4 1.5-2 5-3.5 10.5-2.5 1-1 0-1-3.5-9-12 5-4 0.5-4-1-2-1.5-2.5-3-0.5-5.5 2-4.5 4-3 4-1 10-0.5 2-0.5-1-9-0.5-1-1.5-0.5-10 2-6-0.5-3-1.5-2-2.5-1.5-5 1.5-5 2-2 3-2 5-0.5 11 2 1.5-0.5 1.5-10-2-0.5-10-0.5-4-1-5-4-1-5 2-5.5 5-3.5 6 0 11 4.5 1 0.5 1-2 2.5-8-1-1-11.5-3-3-2-2.5-3-1-3 0.5-3 2.5-5 5.5-2.5 4 0 4 2 9 6.5 1.5-1 4.5-7 0-1-0.5-1-9.5-4.5-4.5-4.5-1-3 0-3 2-5 4.5-2.5 3-1 3 0.5 4.5 3 6.5 7.5 2 1.5 6-6 1-2-8-7-3.5-5-0.5-3 0.5-3 1.5-3 2-2 5-1.5 4 0.5 2 1 3.5 3 4.5 9 1 1.5 1 0 8.5-5.5-6.5-9-2-5 0.5-5 3.5-4.5 5-1.5 6.5 2 3.5 5 3 11 2 0.5 8.5-3.5-5-12 0-4 0.5-3 4-4 6-1 5.5 2 2.5 3 1 5 0 9 1 1.5 9-0.5 1-0.5 0.5-1.5-2-10 0.5-6 3.5-4 4.5-1.5 5 1 5 4.5 0.5 5-2 11 0.5 1.5 10 1 1-1.5 0-10 1.5-5 4.5-3.5 5-0.5 5 2 3.5 6-0.5 5-4.5 10 0.5 1.5 8 3 2-0.5 2.5-10 2-4 4-3 4.5-0.5 3 0.5 3 2 3 6 0 2.5-1.5 3.5-7 10 7.5 5 2 0.5 5-9.5 4-4 4-1.5 3 0.5 5 3 2 4 0 6-3 4-7.5 6-0.5 2 7 7 2-1.5 6-7 4-3 6 0 3 1.5 2 2 2 5-1 5.5-4 4-9.5 4.5-0.5 1 0 1 4.5 7 1.5 1 9-6.5 4-2 3 0 5.5 2.5 3 5 0 3-0.5 3-2 3-3 2-11.5 3-1 1 2.5 8 1 2 1-0.5 10-4 6-0.5 5 3.5 2.5 5.5-1.5 5-3 3.5-5 1.5-10 0.5-2 0.5 1.5 10 1.5 0.5 10-2 5 0 2.5 1.5 2.5 3 1.5 5-1.5 5.5-4 3.5-5 0.5-11-2-1.5 0.5-1.5 10 2 0.5 10 0.5 5 1.5 3.5 4.5 1 5-2.5 5.5-5 2.5-6-0.5-10-4-1-0.5-1 2-2.5 8 1 1 11.5 3 4.5 4 1 7-2.5 5-4 2.5-5 0-4-2-9-6.5-1.5 1-4.5 7 0 1 0.5 1 9.5 4.5 4.5 4.5 0.5 2 0 5-3 5-5 2.5-5-1-4-3-6-7-2-1.5-6 6-1 2 8 7 3.5 5 0.5 4-3 6-5 3-3 0-3-1-4.5-4-5.5-10.5-2 0.5-7.5 5 7.5 10.5 1 6.5-3 6-3 2-3 0.5-5-1.5-3.5-3-2-4-2.5-10-2-0.5-8 3-0.5 1.5 5 11 0 5-2.5 5-5 3-3 0-3-1-4-3.5-2-4.5 0-11-1-1.5-10 1-0.5 1.5 2 10 0 5-2.5 4-5 3zM198.5 105.5l0-1-1 0-0.5 1 1.5 0zM222 105.5l-0.5-1-1 0 0 1 1.5 0zM176 110.5l-0.5-1-1 1 1.5 0zM244.5 110.5l-1-1-0.5 1 1.5 0zM155 120.5l-0.5-1-1 1 1.5 0zM265.5 120.5l-1-1-0.5 1 1.5 0zM219.5 284.5l15-3.5 17-8 13-10.5 8.5-10 4-6 7-16 3.5-14 0-18-4-17-7.5-15-11.5-14-12-10-18-8.5-17-4-17 0.5-16 3.5-17 8-13 10.5-8.5 10-4 6-7 16-3.5 14 0 18 4 17 7.5 15 11.5 14 12 10 18 8.5 13 3 6 1 16-0.5zM137 134.5l-1.5 0 1 0.5 0.5-0.5zM283.5 134.5l-1.5 0 0.5 0.5 1-0.5zM121.5 153.5l1-1-1-0.5-0.5 0.5 0.5 1zM297.5 153.5l0-1.5-1 0.5 1 1zM112 173.5l-0.5-1-0.5 1 0.5 1 0.5-1zM308 173.5l-0.5-1-0.5 1 0.5 1 0.5-1zM107 196.5l0-1-1 0 0 1 1 0zM313 196.5l-0.5-1.5-0.5 1.5 1 0zM107 219.5l0-1-1 0 0 1 1 0zM313 219.5l-0.5-1-0.5 1 1 0zM112 241.5l-0.5-1-0.5 1 0.5 1 0.5-1zM308 241.5l-0.5-1-0.5 1 0.5 1 0.5-1zM122.5 262.5l-1-1-0.5 1 1.5 0zM298 262.5l-0.5-1-1 1 1.5 0zM137 280.5l-0.5-0.5-1 0.5 1.5 0zM283.5 280.5l-1-0.5-0.5 0.5 1.5 0zM154.5 295.5l0.5-1-1.5 0 1 1zM264.5 295.5l1-1-1.5 0 0.5 1zM175.5 305.5l0.5-1-1.5 0 1 1zM243.5 305.5l1-1-1.5 0 0.5 1zM198 310.5l0.5-1-1.5 0 0.5 1 0.5 0zM221.5 310.5l0.5-1-1.5 0 0 1 1 0z"/>
<path fill="#e6aeae" d="M210.5 346.5l-3 0-3-1-2-2-2-3-0.5-6 2.5-12-1-1-11-0.5-0.5 12.5-2 6-2.5 2.5-4 1.5-4-0.5-3-1.5-3-4-0.5-5 1-4 4.5-9 0.5-2-10.5-4-1.5 1-2.5 12-3 4.5-3 2-3 1-3-0.5-3-1-3.5-4-0.5-6 2-4.5 7.5-9.5 0-1-9.5-6-1 0-5.5 11-3.5 4-3 1.5-3 0.5-3.5-1-3-2-2.5-5 1-6 3-4 9.5-7 0-1-8.5-8-7.5 9-4.5 3-3 1-3.5 0-2.5-1-3-2.5-1.5-5.5 1.5-5.5 4-3.5 10.5-5 1-1-0.5-1-6-9-9.5 7-4.5 2-6 0-4.5-3-1.5-3-0.5-3 1.5-4 1.5-2 5.5-3.5 11.5-2.5 0.5-2-4-10-12 5.5-6 0.5-4-1.5-2.5-2.5-1-3 0-4 1.5-4 5-3 5-1 10.5 0 0.5-1-1-10-1-1.5-11 3-6-0.5-5-3-2-3 0-3 0.5-3 1.5-2.5 2-2 3-1.5 6-0.5 11 3 1-1.5 1-10-0.5-1-10.5 0-5-1-5-3-1.5-4 0-4 1.5-3 3-3 3-1 6 0.5 12 5.5 4-10-0.5-2-11.5-2.5-5.5-3.5-2.5-5 0-3 1-3 2-2 4-2 4-0.5 5 2 10 7.5 6-9 0.5-1-1-1-9.5-4.5-4.5-3.5-1.5-3-0.5-3 1.5-5 5-3.5 3-0.5 3 0.5 5 3 8 9.5 8.5-8 0-1-9.5-7-3-4-1-3 0.5-3 2.5-5 5-2 4 0 3 1 3.5 4 5.5 11 1 0 9.5-6 0-1-7.5-9-1.5-4-0.5-3 0.5-3 3-4 3.5-1.5 3 0 4 1 2 1 3 5.5 3 11.5 2 0 9.5-3.5 0-1-5.5-11-0.5-6 1.5-3 2-2.5 3-1.5 4 0 6 2.5 2 3.5 1 4 0 11.5 11-0.5 1-1-2.5-11 0.5-6 1.5-3 2-2 5.5-1.5 5 2 3 2.5 1 2 0.5 6-2.5 11 1 1 11 0.5 0-10.5 1-5 2.5-4 4.5-2 6 1 2.5 2 2.5 3 0.5 2-0.5 4-5.5 12 0 1 9.5 3.5 2 0 3-11.5 3-5.5 3-1.5 3-0.5 5.5 1.5 3.5 4 1 5-2 4.5-7.5 9.5 0 1 9.5 6 1 0 5.5-11 3.5-4 5-1 5 1.5 3.5 4.5 0.5 6-3 5-9.5 7 0 1 8 8 1.5-0.5 7-9 4-2.5 6-0.5 4 2.5 3 5-1 6-4 4-10.5 5-1 1 0.5 1 6 9 9.5-7 3.5-2 4-0.5 5 2.5 2.5 3 1 3-0.5 4-1.5 3-4.5 3-12.5 3-0.5 1 3.5 10 1.5 0.5 10-4.5 6-1 6 3.5 2 5.5-1 5-4 4-5 1-11.5 0-0.5 1 1 10 1 1.5 11-3 6 0.5 2 1 2.5 3 2 5-1.5 5.5-2 2-3 1.5-6 0.5-11-3-1 1.5-1 10 0.5 1 11.5 0 5 1 3 3 2 4 0 3-0.5 3-2.5 3-5 2-6-1-10-4.5-1.5 0.5-3.5 9 0.5 2 12.5 3 3.5 2 2 2 1 7-1 3-2.5 3-4 1.5-5-0.5-4-2-9-7-6 9-0.5 1 1 1 10.5 5 4 4 1 2 0 5-3 5-5 2-5-1-4-2.5-7-9-1.5-0.5-8 8 0 1 9.5 7 3 5 1 3-1 3.5-3.5 4.5-2.5 1.5-3 0.5-5-2-3.5-4-5.5-11-1 0-9.5 6 0 1 7.5 9 1.5 4 0.5 4-2.5 5-2.5 2-4 1.5-3-0.5-3.5-2-3.5-5.5-3-12-10 2.5-1.5 1 0 1 5.5 11 0.5 6-1.5 3-2 2.5-3 2-3 0.5-5-1.5-3.5-4.5-1.5-5 0-11.5-11 0.5-1 1 2.5 11-0.5 6-2 4-3 2-3 1zM200.5 107.5l1.5-2-1.5-3-3-1-3 2-0.5 2 1 2 2.5 0.5 3-0.5zM224 107.5l1-2-1.5-3-3-1-3 2-0.5 2 1.5 2 3 0.5 2.5-0.5zM175 113.5l2.5-1 1.5-2-0.5-2-3-2-3 1.5-1 2.5 1 2.5 2.5 0.5zM245 113.5l2.5-2-0.5-3-2.5-2-3 1-1.5 2 0.5 2 2 1.5 2.5 0.5zM154.5 123.5l3-2 0.5-2-1-2-2.5-1-3 1.5-1 2.5 1 2.5 3 0.5zM267 123.5l1.5-2-1-3.5-3-1.5-2.5 1-1 2 0.5 2 3 2 2.5 0zM220.5 284.5l15-3.5 16-7.5 13.5-11 10-12 9-19 3.5-16 0-18-4-16-7-15-11.5-14-12.5-10-18-9-16-3.5-18 0-17 4-16 7.5-13.5 11-10 12-9 19-3.5 16 0 18 4 16 7 15 11.5 14 12.5 10 17 8.5 14 3.5 5 0.5 18-0.5zM137.5 137.5l2.5-3-0.5-2-2-1.5-3 0.5-2 2 0.5 3 1.5 1.5 3-0.5zM285.5 137.5l1-3-1-2.5-3-1-3 1.5-0.5 2 2.5 3 2 1 2-1zM121.5 156.5l2-1 1.5-3 0-2-2.5-1.5-3 1-1.5 2.5 1 3 2.5 1zM298 156.5l2-1 1-3-1.5-2.5-3-1-2.5 1.5 0 2 1.5 3 2.5 1zM113.5 176.5l1-2 0-3-1-1.5-3 0-2.5 2.5 0.5 3 2 2 3-1zM310 176.5l1-2-0.5-3-2-1.5-3 0-1.5 2.5 1.5 4 2 1 2.5-1zM108 199.5l1-2 0.5-3-1.5-2-2.5 0-2.5 2 0 3 2.5 2 2.5 0zM314 199.5l2-2 0-3-2-2-2.5-0.5-2 2.5 0.5 3 1.5 2 2.5 0zM108 222.5l1.5-2-0.5-3-1.5-2-2 0-2.5 2 0 3 2.5 2 2.5 0zM314 222.5l2-2 0-3-2-2-2.5 0-1.5 2-0.5 3 2 2.5 2.5-0.5zM114 244.5l1-2-1.5-4-2-1-2 1-1.5 2 0.5 3 3 2 2.5-1zM309.5 244.5l1.5-2-0.5-3-2-2-2 0.5-2 2.5 0 3.5 2 1.5 3-1zM124 265.5l1-2-1-3-2.5-2-2 0.5-1.5 2.5 1 3 2.5 1.5 2.5-0.5zM299 265.5l2-2 0-2-1.5-2.5-2-0.5-2.5 2-1 3 1.5 2 3.5 0zM138.5 283.5l1.5-2-1.5-3-3-2-2 1-1 2 0.5 3 2.5 1.5 3-0.5zM284.5 283.5l2-2 0-2-1-2-2-1-3 2-1.5 3 2.5 2.5 3-0.5zM157 297.5l1-2-0.5-2-3-2-3 0.5-1 2.5 1 2.5 3 1.5 2.5-1zM267 297.5l1.5-3-1-2.5-3-0.5-3 2-0.5 2 1 2 2.5 1 2.5-1zM177.5 307.5l1.5-3-1.5-2-3-1-2.5 1-0.5 3 1.5 2 2.5 1 2-1zM246 307.5l1.5-3-1-2.5-3-0.5-3 2-0.5 2 1.5 2 2 1 2.5-1zM200.5 312.5l1.5-3-1.5-2-4-0.5-2 1-0.5 2.5 1.5 2 2 1 3-1zM223.5 312.5l1.5-3-1-2-3.5-0.5-3 1.5 0 2 1 2 3 1 2-1z"/>
<path fill="#e5abab" d="M212.5 346l-3 0.5-3-0.5-3-1.5-2-3-1-3-0.5-4 4-14-6.5-1.5-8 0 0.5 14.5-1 4-2 3-3.5 2-3 0.5-5.5-1.5-3-4-0.5-6 2.5-7 5-8-5.5-2.5-7-2.5-1 0-1 1-1.5 12-3.5 6-2.5 2-3.5 1-3 0-3-1.5-3.5-4.5 0-6 3.5-6 7.5-8 0-1-4.5-3.5-7-3.5-1 0-5 12-4 4.5-3 1.5-3 0.5-3-0.5-3-2-2-2.5-0.5-3.5 1.5-6 5-5 9-6-5-6-6-4.5-7 10.5-5 4-4 1-3-0.5-3-1.5-2-2-1.5-3 0-3 2.5-5.5 5-3.5 10.5-4 1-1-3-6-4.5-6-1 0-8 8-6 3-5.5 0-4.5-3-2-5 0.5-3 1-3 2.5-2 4-2.5 14-2.5-1.5-7-3.5-6.5-5.5 3.5-7.5 3.5-4 0.5-4-0.5-3-2-2-2.5-0.5-3 0-3 2.5-4.5 5-3 8-0.5 8.5 1 0.5-7-1.5-7-1.5-0.5-12 3.5-5.5 0-2.5-1-3-2.5-1.5-2.5-0.5-3 1-4 2-2.5 4.5-2.5 5.5 0 12 3.5 1.5-0.5 1.5-7-0.5-7-10.5 1-7-1-5-3.5-1.5-5.5 1.5-5 5-3.5 4-0.5 4 1 12 6.5 3.5-6.5 1.5-7-14-2.5-4-2.5-2.5-2-1-3-0.5-3 1-3 2.5-3 4.5-2.5 5 1 5 2.5 8 8 1 0 7.5-11 0-1-1-1-10.5-4-5-4-2-3-0.5-3 0.5-3 2.5-3 2.5-2 4-1 4 1 5 4 7 10.5 1-0.5 6-5 4-5-10.5-7-4-5-1-3 0-3 1-3 2-2 5.5-2 3 0 3 1.5 4 4.5 5 12 1 0 7-3.5 4.5-3.5 0-1-5.5-5.5-5-7-1-5.5 2-4 3-2.5 3-1 7 1.5 2 2 2 4 1.5 7 0.5 6 1 1 8-2.5 5.5-2.5-7-12-0.5-7 1-3 2-2 5-2 3 0.5 3.5 1.5 3 3 1 6-0.5 12.5 7 0 7-1 0.5-1.5-3.5-11 0-6 2.5-5 5.5-2 5 1 4 3 1 2 0 6-3.5 12 0.5 1.5 7 1 7 0-1-11.5 1-6 1-2 3-2.5 5-1.5 5.5 2 3.5 5 0 3-0.5 4-7 12 5.5 2.5 8 2.5 1-1 0.5-6 1.5-7 2-4 2.5-2 2.5-1 4 0 3 1 2.5 2 2 5-0.5 4.5-5 7-5.5 5.5 0 1 4.5 3.5 7 3.5 1 0 5-12 4-4.5 6-1.5 3 1 2.5 2 2.5 5 0 3-1 3-5 5-9 6 5 6 6 4.5 7-10.5 5-4 6 0 3 1.5 2 2 2 5.5-2 5-5 4-10.5 4-1 1 0 1 7.5 11 1 0 8-8 5-2.5 4-0.5 5 2 2 3 1 3 0 3-1 3-2 2-4 2.5-14 2.5 1.5 7 3.5 6.5 12-6.5 4-1 3 0.5 5 3.5 2 5-1 5-2 2-3 2-7 1-10.5-1-0.5 7 1.5 7 1.5 0.5 12-3.5 5.5 0 2 1 3 3 1.5 5 0 3-1.5 3-5 3-5.5 0-12-3.5-1.5 0.5-1.5 7 0.5 7 10.5-1 7 1 4 3 1.5 4 0.5 3-2 5-5 3-7-1-12-6.5-3.5 6.5-1.5 7 14 2.5 3 1.5 3 3 1 4 0.5 3-1.5 3-2 2.5-5 2-5-1-5-3.5-7-7-1 0-7.5 11 0 1 1 1 10.5 4 3.5 2 2.5 3 1 3-0.5 4-2.5 4.5-5 2.5-6-1.5-5-4.5-6-9.5-1 0.5-6 5-4 5 9 6 5 5 1.5 5-1 4-1.5 2.5-5 3-5-0.5-3-2-3-4-5-12-6 2.5-6 4-0.5 1.5 4.5 4 4.5 6 2 4 0.5 4-2 4-1.5 2-5.5 2-5-1.5-3.5-3.5-3-8-0.5-8-1-1-12 4-1.5 1 0.5 1 6 10.5 1.5 6.5-1 3-1.5 2-2 2-3 1.5-3 0-3-1-2.5-1.5-2-3-1-6 0.5-12.5-7 0-7 1-0.5 1.5 3 8 1 8-2 5-4.5 3.5zM198.5 109.5l4.5-1 1.5-1 0-2-2-4.5-3-2-2 0-2 0.5-2.5 2-1.5 5 0.5 2 1.5 1 5 0zM225.5 109.5l1.5-1 0.5-3-1-3-2-2.5-4-1-4.5 2.5-1.5 4 1 2.5 5 1.5 5 0zM172.5 115.5l6.5-2 3-2-0.5-3-3-3.5-5-1-2 1.5-1.5 2-1 3 0 3 1.5 1.5 2 0.5zM247.5 115.5l1.5-1 1-3-0.5-3-2-3-4-1.5-5 2.5-1.5 3 1 3 5.5 2.5 4 0.5zM154 125.5l6-4 1-2-0.5-2-2-2-5-1.5-2 0.5-2 2-1.5 5 1 3 1.5 1.5 3.5-0.5zM269 125.5l1.5-2 0.5-3-1-3-1.5-2.5-4-1-5 2.5-1.5 3 1 2 6.5 4.5 2 0 1.5-0.5zM136 140.5l5.5-5 1-3-2-2.5-4-1.5-3 0.5-2 1.5-1.5 4 0.5 3 2 3 2 0.5 1.5-0.5zM286.5 140.5l1.5-2 1-3-0.5-3-1-2-2-1.5-3-0.5-5 2-1 2 1 3 6 5.5 3-0.5zM221.5 284.5l14-3 16-8 14-11 10-12 9-19 3.5-15 0-18-4-17-8-16-10.5-13-13-10.5-18-8.5-16-3.5-18 0-17 3.5-16 8-14 11-10 12-9 19-3.5 15 0 18 4 17 8 16 10.5 13 13 10.5 17 8.5 16 3.5 17 0.5 5-1zM122.5 158.5l4.5-6 0.5-3-1-1.5-2-1-4-0.5-3 1.5-1.5 1.5-0.5 4 1 3 2 2 2 1 2-1zM300.5 158.5l2.5-4 0-5-1.5-1.5-3-1.5-3 0-3 1.5-1 1.5 0 2 4 6 2 2 3-1zM113.5 179.5l2.5-6 1-4-2.5-2-3-0.5-4.5 2.5-1.5 4 0.5 3 2.5 2.5 3 1.5 2-1zM310 179.5l3-4 0.5-3-0.5-2-4.5-3-5 0.5-1.5 2.5 2.5 7.5 2 2 3.5-0.5zM108.5 202.5l1-1 1-2 0.5-7-1.5-2.5-3-0.5-3 1-2 2-1.5 4 1.5 3 2 2 3 1 2 0zM313.5 202.5l4-3 1.5-3 0-2-3.5-4-5-1-2.5 2 0.5 8 2 3 3 0zM108.5 225.5l2.5-2-0.5-7-1-3-3-1-4 2-1.5 2-1 3 2.5 4 3 2 3 0zM312.5 225.5l3-1 2-2 1.5-4-2.5-4-2-1.5-3-0.5-2.5 2-1 8 1.5 2.5 3 0.5zM114.5 247.5l2.5-2-1-4-2.5-6-3-0.5-2 1-2.5 2.5-0.5 3 0 2 1.5 2 2.5 2 5 0zM308.5 247.5l3.5-2 1.5-4-2-5-4-2-2 1-1 1.5-2.5 8.5 2.5 2 4 0zM126 267.5l1-1 0.5-2-3-6-3-3-3 1-2.5 4 0 5 1.5 1.5 3 1.5 3 0 2.5-1zM300.5 267.5l3-3-0.5-4-2.5-4-3-1-4 5-2 5 1 1.5 2 1 3 0.5 3-1zM140 285.5l2.5-2-0.5-3-6.5-6.5-3 0.5-1.5 2-1 3 0.5 3 1 2 4 2 4.5-1zM286.5 285.5l2-3 0.5-4-1.5-3-3-1.5-2 1-4 3.5-1.5 2-0.5 2 1 2 3 1.5 3 0.5 3-1zM156 300.5l4.5-3 0.5-3-6.5-4.5-4-1-2 3.5 0.5 5 2.5 3 4.5 0zM267 300.5l2.5-2 1.5-4-1-4-2.5-1.5-7.5 3.5-2 3 0.5 2 3 2.5 3 1 2.5-0.5zM177 310.5l4-3 1-2 0-2-3-2-3.5-1.5-3-0.5-2 0.5-1.5 3.5 1 4 1.5 2 2 1.5 3.5-0.5zM246 310.5l2.5-2 1.5-3 0-3-1.5-2.5-2-0.5-3 0.5-3.5 1.5-3 2 0.5 3 2 2.5 4 2 2.5-0.5zM200 315.5l2.5-1.5 1.5-2.5 0.5-4-1.5-1-3.5-1-5 0-2 0.5-1 1.5 0 2 1.5 4 3.5 2.5 3.5-0.5zM223.5 315.5l2.5-2 1.5-3 0-3-1-1.5-2-0.5-5 0-3.5 1-1.5 1 0 3 2 3.5 4 2 3-0.5z"/>
<path fill="#e4a7a7" d="M209.5 95.5l-3-1-3-3-2-5.5-1-6.5 0.5-4 1.5-3 2.5-2 3.5-1 4 0.5 3 2 2.5 2.5 0.5 4-0.5 6-2 6-2.5 3.5-4 1.5zM185.5 98l-4 0.5-3-2-3-4-3.5-7-0.5-4 0.5-4 2.5-3 3-1.5 4 0 5 2 1.5 1.5 1.5 3 0.5 5-0.5 7-1.5 4-2.5 2.5zM238.5 98l-4 0.5-2-1-2.5-4-1-5 0-7 1.5-4.5 3-3 4-1 3 0 3 1.5 2 2 2 4-0.5 5-2.5 5.5-3 4.5-3 2.5zM160.5 107l-4 0-4-2-7-8.5-1.5-4 0-4 1.5-3 3-2.5 4-0.5 5 0.5 4 4.5 2 7 0.5 6-1 4-2.5 2.5zM263.5 106.5l-4 0.5-2.5-1.5-2-4 0-4 1.5-7.5 2-4 3-2.5 5-1 3.5 1 2.5 2 2 3 0.5 4-1.5 4-3 4-4 4.5-3 1.5zM137.5 121l-3 0-4-1-9-7.5-2-3.5-0.5-3.5 1.5-4 2-2 3-1.5 5-0.5 3 1.5 3 3 4 7.5 1 5-1 4-3 2.5zM286.5 120.5l-4 0.5-3.5-1.5-1-3 0-5 3.5-8 3-3.5 4-2 4 0 3 1.5 3 3 1 3 0 4-2 3-3 3-8 5zM219.5 304.5l-10-1.5-11 1.5-10-4-11-1-3-1-6.5-5-10.5-3-8.5-9-7.5-3.5-3-3.5-4-7.5-6-5-3-3.5-3-10.5-4-5-2-3.5-1-12-3.5-9 1.5-11-1.5-11 3.5-9 1-11 1.5-4 4.5-5.5 2.5-8.5 2.5-4.5 7-6 5.5-9.5 10-6 4-5 3.5-3 10.5-3 6.5-5 3-1 11-1 10-4 11 1.5 11-1.5 10 4 11 1 3 1 6.5 5 10.5 3 8.5 9 7.5 3.5 3 3.5 4 7.5 6 5 3 3.5 3 10.5 4 5 2 3.5 1 12 3.5 9-1.5 11 1.5 11-3.5 9-1 12-2 3.5-4 5-4 11.5-8 7.5-4.5 8.5-3.5 3-7.5 4-5 6-3.5 2.5-9.5 2.5-6.5 5-3 1-11 1-7 3.5-4 0.5zM117.5 140l-3 0-5-1.5-5.5-3-3.5-3-2-4 0-3 1-3 2-2.5 3-1.5 5-0.5 4 2 4 4 4 5.5 1 5-1 3-4 2.5zM305.5 139.5l-4 0.5-4-2.5-1-3 0.5-4 4.5-6.5 4.5-4.5 3.5-1.5 5 1 3 2 2 3.5 0.5 3-1 4-4 4-9.5 4zM218.5 285.5l17-4 16-7.5 14-11 10-12.5 9-18 3.5-16 0-18-4-17-7.5-16-11-13.5-13-10.5-18-8.5-16-3.5-18 0-17 4-16 7.5-14 11-10 12.5-9 18-3.5 16 0 18 4 17 7.5 16 11 13.5 13 10.5 18 8.5 16 3.5 18 0zM104.5 162l-4 0.5-4-0.5-6-1.5-4-2-2.5-3-1-3 0-3 1.5-3.5 3-2.5 4-1 5 1 5 3 4 4 3 5-0.5 3-1 2-2.5 1.5zM324.5 161.5l-6 1-4-0.5-2.5-1.5-1-2-0.5-3 2-4 4-4 5.5-4 4.5-1 3.5 1 3 2 2 3 0.5 4-0.5 3-2.5 3-3.5 2-4.5 1zM93.5 187.5l-11 0.5-6-2.5-2.5-3-1-3 0.5-3 1.5-3 3.5-3 5-1 5 1.5 6.5 3.5 4 4 1 3-0.5 2-1.5 2-4.5 2zM338.5 187.5l-9 0.5-6-1-4-3.5-0.5-2 1-3 4-4 6.5-3.5 5-1.5 4 1 4.5 4 1 5-1.5 5-5 3zM81.5 216.5l-6.5-1-4.5-4-0.5-5 2.5-5.5 4-2 5-0.5 8.5 2 5 3 2 4-2 4-5 3-8.5 2zM340.5 216.5l-8.5-1-7-3-2.5-4 0.5-4 3.5-3 6-2 7-1 4.5 1 3.5 4 1 6-3 5-5 2zM86.5 244.5l-6 0.5-5-2.5-2.5-5 0-3 1.5-3 3.5-3 4.5-1.5 9 0 5 1.5 3 3 0.5 2-1 3-4 4-8.5 4zM339.5 245l-3 0.5-4-1-8.5-4-4.5-5-0.5-2 1.5-3 3-2.5 5-1 8 0 5 1.5 3 4.5 1 4.5-2 4.5-4 3zM93.5 272.5l-6-1-3.5-3-1.5-5 2-5 4-3.5 8-2 6-0.5 4.5 2 1 2 0.5 2-2 5-7 6.5-6 2.5zM328.5 272.5l-3 0-4-1.5-8-6.5-3-5 0.5-3 1-2 3.5-1.5 6 0 7.5 1.5 4.5 3 2 5 0 4-2.5 4-4.5 2zM110.5 296.5l-5 0.5-5-2.5-2-5 0.5-5 3.5-4 7-4 6-1.5 4 1 2.5 2.5 0 6-6.5 9-5 3zM314.5 297l-3 0.5-4-1-4-3-3.5-4-3.5-7 0.5-4 1.5-2 4-1.5 5 1 7.5 3.5 3.5 3 1.5 3-0.5 6-2 3.5-3 2zM130.5 317.5l-5 0-4-2-2-4 0-5 3-5 6-5 5-2.5 4 0 2 1 1.5 2.5 0 6-4.5 9.5-3 3-3 1.5zM293.5 317.5l-4 0-3-1-5-5-4-10 0.5-4 2.5-3 4-0.5 4 1 6 4.5 4 4.5 1.5 3.5-1 5-2 3-3.5 2zM156.5 332.5l-5 1-4-1.5-3-4-0.5-4.5 1.5-5 5-6.5 4-3 5-1 3.5 2.5 1 3 0 4-2.5 10-2 3-3 2zM269.5 332.5l-4 1-3-1-3-2-2-3-2-7-0.5-6 1-4 2.5-2.5 4 0 4 2 4 4.5 3.5 5 1 4 0 3-2.5 4-3 2zM182.5 342.5l-4 0.5-4-2-2.5-3.5-0.5-4 1-5 4-7.5 4-4 3-0.5 3 1 2.5 4 1 10-0.5 4-2 4-5 3zM240.5 342.5l-4 0.5-3-1.5-2.5-3-1.5-4-0.5-7 0.5-5 2-4 3-2 4 0.5 3 2.5 3 4.5 2.5 6.5 0.5 4-0.5 3-2.5 3-4 2zM212.5 345.5l-4 0.5-4-1.5-3-3-1-4 0-5 2.5-8 2.5-3.5 4-1.5 3 1 3 3 3 11 0 3.5-1 3.5-1.5 2-3.5 2z"/>
<path fill="#e3a3a3" d="M210.5 94.5l-4-0.5-2.5-2.5-2-4-1.5-7 0.5-4 1.5-4 3-2 3-1 4 1 3 2 2 2 1 4-2.5 11-2.5 3.5-3 1.5zM183.5 97.5l-3-0.5-4-3-3-5.5-1.5-5 0-4 1-3 2.5-2.5 3-1 4 0 4 2 2 2.5 1 3 0.5 7-1 5-2.5 4-3 1zM236.5 97.5l-3-0.5-3-3.5-1-4-0.5-7 1-4 2-3 3-2 3.5-0.5 3 0.5 3 2 2.5 4 0.5 3-1.5 5-3.5 6.5-3 2.5-3 1zM160.5 105.5l-3 1-4-1.5-4-3.5-4-5.5-1.5-3.5 0.5-4 1.5-3 2.5-2 4-1 5 1 3.5 4 2.5 7 0.5 5-1.5 4-2 2zM264.5 105.5l-4 1-3-1.5-1.5-2.5-1-5 1.5-6.5 2-4.5 3-3 5-1 3 1 3 2 1.5 3 1 4-3.5 6.5-4 4.5-3 2zM134.5 120.5l-3-0.5-4-2.5-5-4-2-3-1-4 0-3 2-3 3-2 5-0.5 3 0.5 3.5 3 2.5 5 2 5 0.5 4-2.5 4-4 1zM284.5 120.5l-3-0.5-2.5-2.5-1-4 1.5-5 3-6 3-3 4-1.5 4 0.5 3 2 2 2.5 0.5 6.5-2.5 4-4 3.5-5 3-3 0.5zM219.5 303.5l-10-1.5-11 1.5-10-4-11-1-9-6-11-3.5-7-7.5-9-5-2-2-4-8-8.5-8-3.5-11-6-8-1-12-3.5-9 1.5-11-1.5-11 3.5-9 1-11 1.5-3 4.5-6 4-12 8-7 5-9 10-6 7-7.5 11-3.5 9-6 11-1 10-4 11 1.5 11-1.5 10 4 10 0.5 3 1.5 7 5 9 2.5 3 1.5 6 7 10 6 5 9 8.5 8 3.5 11 6 8 1 12 3.5 9-1.5 11 1.5 11-3.5 9-1 12-6 8-3.5 11-8.5 8-5 9-10 6-7 7.5-11 3.5-8 6-3 0.5-9 0.5-8 3.5-3 0.5zM118.5 139l-3 0.5-4-0.5-7-3.5-3-2-2-3-1-4 0.5-3 2.5-3 3-2 4-0.5 4 1.5 3 2.5 4.5 5.5 2 5-1 4-2.5 2.5zM307.5 139l-5 0.5-3-1.5-2.5-3.5 0.5-3 2.5-5 5-6 3.5-2 5 0.5 3 1.5 2 2 1.5 4-0.5 3.5-1 2-2.5 2.5-8.5 4.5zM220 285.5l6.5-2 9-1.5 8-4.5 8-3 6.5-6 7.5-5 5-7 5.5-6 9-18 1-7 2.5-9-0.5-9 0.5-9-2.5-9-1.5-8-4-7-4-9-6-7-5-7-7.5-5-5.5-5.5-18-8.5-8-1-8-2.5-18 0-8 2.5-9 1.5-8 4.5-8 3-6.5 6-7.5 5-5 7-5.5 6-9 18-1 7-2.5 9 0.5 9-0.5 9 2.5 9 1.5 8 4 7 4 9 6 7 5 7 7.5 5 5.5 5.5 17 8 9 1.5 7 2 20.5 0zM103.5 161.5l-7 0.5-6-1.5-3.5-2-3-3-1-3 0-3 1.5-3 3-2.5 4-1.5 5 1 4.5 3 4.5 4 2 4-0.5 4-3.5 3zM323.5 161.5l-5 0.5-4-1-2.5-2.5-0.5-3 1.5-4 3.5-4 6-4 4-1 4 1.5 3 2.5 1.5 3 0 4-1 3-2 2-3.5 2-5 1zM92.5 187.5l-10 0.5-6-2.5-2-2.5-1-3.5 0-3 1.5-3 3.5-3 5-0.5 5.5 1.5 7 4 2 3 0.5 4-1.5 3-4.5 2zM337.5 187.5l-9 0.5-5-1.5-3-3-0.5-2 1-3 3.5-4 5.5-3 5.5-1.5 3.5 0.5 4.5 3.5 1.5 5.5-2 5-2.5 2-3 1zM85.5 215.5l-8 0.5-4-1.5-2-2-1.5-3 0-3 1-3 2.5-3 4-1.5 5 0 8 2 3.5 2.5 2 4-1 3-3.5 3-6 2zM343.5 215.5l-6 1-10-3-4-4-0.5-2 1-3 3.5-3 5.5-2 5.5-1 5 1 3.5 4 1.5 4-1.5 5-3.5 3zM85.5 244.5l-6 0-4-2-2-5 1-5.5 4-3.5 4-1.5 8 0 5 1.5 2 2 1 2 0.5 2-1.5 3-4.5 4-7.5 3zM339.5 244.5l-3 0.5-4-0.5-9.5-5-2-3-1-2 1.5-4 3-2.5 4-1 8 0 5 2 3 4.5 0.5 4-1.5 4-4 3zM95.5 272l-5 0.5-5-2.5-2.5-4.5 0.5-5 3-3.5 4-2.5 9-1.5 5 1 3 3.5-1 5-4.5 5-6.5 4.5zM330.5 272l-3 0.5-4-0.5-8-5.5-3.5-5-0.5-3 1-3 4-2.5 4 0 8 1.5 5 3 1 2 1 6-2 4-3 2.5zM109.5 297l-5-0.5-4-2.5-2-4.5 1-5 3.5-4 5.5-3 5-2 5 0.5 2.5 2.5 1 2-1 5-6 8-5.5 3.5zM314.5 296.5l-3 0.5-4-1-3.5-2.5-3.5-4-2.5-4-1-3 1-4 1.5-1.5 3-1.5 5 0.5 7 3.5 4 3.5 1.5 3.5-0.5 5-2 3-3 2zM129.5 317.5l-4 0-4-2.5-2-3.5 0-5 3-5 5-4 5-2.5 4-0.5 3.5 3 1 3-0.5 4-5 9.5-3 2.5-3 1zM292.5 317.5l-3 0-4-2-3-3-2-3.5-2-4.5-0.5-4 1-3 2.5-2.5 4-0.5 4 1.5 6 4.5 3 4 1 4-1 4.5-2 2.5-4 2zM155.5 332.5l-4 0.5-4-1.5-3-4-0.5-4 1.5-5 5-6 4-3 4-1 2 1 2 2 1.5 3-0.5 4-1 5.5-2 4.5-2 2.5-3 1.5zM268.5 333l-3 0-3-0.5-3-2.5-2-3.5-2-7-0.5-5 1.5-3.5 3-2 4 0 3 1.5 5 5.5 2.5 4.5 1 3-0.5 3.5-2.5 3.5-3.5 2.5zM182.5 342.5l-4.5 0-3.5-2-2-3-1-4 1-5 4-7.5 4-3 3-0.5 3 1 2 3 1 4 0.5 6-2 7-2.5 2.5-3 1.5zM240.5 342.5l-4 0-3-1.5-2.5-2.5-1.5-4-0.5-7 1-5 1.5-3 3-2 4 0.5 3 2 3 4.5 2.5 6 0.5 4-1 3-2.5 3-3.5 2zM211.5 346l-4 0-3-1.5-3-4-1-4 1-6.5 2-5.5 3-3.5 3-0.5 3 0.5 3 3.5 3 10-0.5 4-1.5 4-5 3.5z"/>
<path fill="#e29f9f" d="M211.5 94l-4 0-3-2.5-2-3.5-1.5-5.5 0-4 0.5-4 2.5-3 3.5-1.5 4 0 2.5 1.5 3.5 3 0.5 3 0 5-1.5 6-2 3-3 2.5zM184.5 97l-3 0-4-2.5-5-9-0.5-4 0.5-3.5 2-3 3-1.5 4-0.5 3 1.5 3 2 1.5 3 0.5 6-0.5 6-1.5 3.5-3 2zM238.5 96.5l-3 0.5-3.5-1.5-2-3-0.5-5 0-6 1.5-4 2.5-3 4-1.5 3 0.5 3.5 2 2.5 3.5 0.5 2.5-0.5 4-3 6.5-2 2.5-3 2zM158.5 106l-3-0.5-3-1.5-7-8.5-1-3 0-4 1.5-3 3-2 3.5-1 4.5 1 2.5 2 2 3 2 7 0 5-2 3.5-3 2zM263.5 105.5l-3 0.5-3-2-1.5-2.5-0.5-5 1.5-7 2.5-4 3-2 4-0.5 3 0.5 3 2.5 1.5 2.5 0.5 4-1.5 4-3.5 4.5-3 3-3 1.5zM136.5 120l-3 0-4-1.5-5.5-4-3-3-1.5-4 0-3 1.5-3 2-2 3.5-1.5 4 0 3 1.5 3 3.5 3.5 6.5 0.5 4-1 4-3 2.5zM287.5 119.5l-4 0.5-3-1.5-2-3 0-4 3-7 3-4 4-2 4 0 3 1.5 2.5 2.5 1 3 0 4-4 5-7.5 5zM220.5 302.5l-11-1.5-11 1.5-11-4-9-0.5-10.5-6.5-10.5-3.5-7-7.5-9-5-6-10-7.5-7-3.5-10.5-6-8.5-1-11.5-4-9.5 1.5-11-1.5-11 4-9.5 1-10.5 6-9.5 2.5-8.5 1.5-3 7-6 6-10 9-5 8-8.5 9.5-2.5 9.5-6.5 10-0.5 11-4 11 1.5 11-1.5 11 4 9 0.5 10.5 6.5 10.5 3.5 7 7.5 9 5 6 10 7.5 7 3.5 10.5 6 8.5 1 11.5 4 9.5-1.5 11 1.5 11-4 9.5-1 10.5-6 9.5-2.5 8.5-1.5 3-7 6-6 10-9 5-8 8.5-9.5 2.5-9.5 6.5-10 0.5-11 4zM117.5 138.5l-3 0.5-4-1-6-2.5-3.5-3-1.5-3-0.5-3 0.5-3 2-3 4-2 4 0 4 2 3 3 4 5 1 4-1 4-3 2zM307.5 138.5l-5 0.5-3-1.5-2-3 0.5-4 2.5-4.5 5-5.5 4-2 4 0.5 3 1.5 2 2.5 1 3.5 0 3-1 2-2.5 3-8.5 4zM221 285.5l6.5-2 9-1.5 7-4 8.5-3.5 6.5-6 7.5-5 5.5-8 5-5 8.5-18 1-7 3-9-1-9 1-9-3-9-1-8-4.5-7.5-3.5-8.5-6.5-7-4.5-7-7.5-5-6-5.5-18-8.5-7-1-9-2.5-9 0.5-9-0.5-9 2.5-8 1-9 5-7 2.5-7 6.5-7.5 5-5.5 8-5 5-8.5 18-1 7-3 9 1 9-1 9 3 9 1 8 4.5 7.5 3.5 8.5 6.5 7 4.5 7 7.5 5 6 5.5 9 4 7 4 9 1.5 8 2.5 10-0.5 8 1 3.5-1zM102.5 161.5l-4 0.5-6-1-6.5-3.5-2-3-1-3 0.5-3 2-3 4-2.5 4 0 4.5 1.5 5.5 4.5 3 3.5 0.5 4-1 3-3.5 2zM322.5 161.5l-5 0.5-3-1.5-2.5-3 0-4 3-4 6-5 4.5-1.5 4 0.5 3 2 2 3 0.5 3-0.5 3.5-1.5 2.5-3 2-7.5 2zM91.5 187.5l-9.5 0-5.5-2.5-2-2.5-1-3 0.5-3 1.5-3 4-3 4-0.5 5 1.5 7 4 2.5 3 0 4-2.5 3.5-4 1.5zM336.5 187.5l-8 0-5-1.5-2.5-3.5 0-3 1-2 3.5-3.5 7-3 5-1 3 1.5 2.5 2 1.5 3 0 5-3 4.5-5 1.5zM84.5 215.5l-4 0.5-4-0.5-3-1.5-2-2-1-2.5 0-4 1-2.5 2.5-2.5 4.5-1.5 6 0.5 6.5 2 3.5 3 0.5 4-1.5 3-3 2.5-6 1.5zM342.5 215.5l-6 0.5-9-2.5-3.5-4 0-3 0.5-2 3.5-3 5.5-2 6-0.5 4 1 3.5 3.5 1 5-1.5 4.5-4 2.5zM85.5 244.5l-5.5 0-4.5-2.5-2-4.5 1-5 3-3.5 5-1.5 8 0 5 1.5 2.5 3.5 0 3-1 2-3.5 3.5-8 3.5zM338.5 244.5l-6-0.5-9-4.5-2.5-4 0-3 1-2 3.5-2.5 4-1 7.5 0.5 5 2 2.5 4.5 0 4.5-2 4-4 2zM95.5 271.5l-5 0.5-5-2.5-2-4 0.5-5 3-4 4.5-2 7-1.5 5 1 2.5 1.5 1 2-0.5 5-4.5 5-6.5 4zM330.5 271.5l-3 0.5-4-0.5-8-5.5-2.5-2.5-1-3 0-3 1-2 3.5-2 4-0.5 7 1.5 5.5 3 1.5 2.5 0.5 5.5-1.5 3.5-3 2.5zM109.5 296.5l-5 0-3.5-2-2-4 0.5-5 2.5-4 4.5-3 6-2.5 5 0.5 3.5 3 0.5 3-1 3-5.5 8-5.5 3zM313.5 296.5l-4 0-3-1-3-2.5-4-5.5-1.5-3-0.5-3 1-3 2-1.5 4-1 4 1 7 3.5 3 3 1.5 3-1 5-1.5 3-4 2zM131.5 316.5l-5 1-4-2-2.5-4-0.5-4 2-4.5 5-4.5 5-3 4-0.5 3 1.5 1.5 2 0.5 5-4 8.5-5 4.5zM294.5 316.5l-3 1-4-1-5-4.5-3.5-6.5-0.5-4 0.5-3 2.5-3 3-0.5 4 1 5.5 3.5 4 4 1.5 4-0.5 4-2 3-2.5 2zM154.5 332.5l-4 0-4-2-2-4 0-4 2-5 5-6 3-2 4-0.5 2 1 2.5 2.5 0.5 3 0 4-3 9-3 3-3 1zM268.5 332.5l-4 0-3-1-4-5-2-7 0-4 1.5-4 2.5-2 3-0.5 4 2 5 5 2.5 4.5 0.5 3 0 3-2.5 4-3.5 2zM180.5 342.5l-4-1-2.5-2-1.5-3-0.5-4 1.5-5 3-6 3-2.5 4-1 3 1 2.5 3.5 0.5 4 0 7-1 3.5-2 3-2 1.5-4 1zM239.5 342.5l-3 0-3.5-2-2-3-1.5-4 0-7 0.5-4 2.5-3.5 3-1 4 1 3 2.5 3 5.5 1.5 4.5 0 4-1.5 3-3 3-3 1zM211.5 345.5l-4 0-3-1.5-2.5-2.5-1-4 0.5-6 1.5-6 2.5-3 3-1.5 4 0.5 3 3 2.5 10 0 4-1 3-2.5 2.5-3 1.5z"/>
<path fill="#e19c9c" d="M210.5 93.5l-4-0.5-2.5-2.5-1.5-4-1.5-6 0.5-4 1-3 2-2 4-1.5 3 0.5 3.5 2 2 2 1 4-0.5 5-2 6-2 2.5-3 1.5zM183.5 96.5l-3 0-3-2.5-3-4.5-2-5-0.5-4 1-3 2.5-3 3-1 4 0 4 2 2.5 5 0.5 6-0.5 5-2.5 4-3 1zM237.5 96.5l-4-0.5-2.5-2.5-1.5-4 0-6 1-5 2-3 3-1.5 3-0.5 4 1 2 1.5 2 3.5 0.5 3-1.5 5-2.5 5-2.5 2.5-3 1.5zM157.5 105.5l-3-0.5-3-2-4-4.5-2-4-1-4 0.5-3 1.5-2 3-2 4-0.5 4 1 2 1.5 2 4 2 7-0.5 4-1.5 3-4 2zM261.5 105.5l-4-2-1.5-3-0.5-4 2-7 2-4 2-1.5 3-1 4 0.5 3 2 2 2.5 1 3.5-1 3-2 4-4 4.5-3 2-3 0.5zM135.5 119.5l-3 0-3-1-8-7-1.5-4 0-3 1-3 2.5-2 3-1 4.5 0 3.5 2 2 3 3 6 1 4-1.5 4-3.5 2zM286.5 119.5l-4 0-2.5-2-1-3 0-4 2.5-5.5 3-4.5 4-2 4 0 3 1.5 2 2.5 1.5 3-0.5 4-2 3-3 3-7 4zM221.5 301.5l-3 0.5-10-1.5-10 1.5-9-3.5-12-1.5-8.5-5.5-11-4-6.5-7-10-6-5-8.5-8-8-3-9.5-6.5-10-1-10-3.5-10 1.5-11-1.5-11 3.5-10 1-10 6-9 3.5-11 8-7.5 5-8.5 10-6 7-7.5 10.5-3.5 8.5-5.5 12-1.5 9-3.5 11 1.5 11-1.5 9 3.5 11 1 9.5 6 11 4 6.5 7 10 6 5 8.5 8 8 3 9.5 6.5 10 1 10 3.5 10-1.5 11 1.5 11-3.5 10-1 10-6 9-3.5 11-8 7.5-5 8.5-10 6-7 7.5-10.5 3.5-8.5 5.5-12 1.5-8 3zM116.5 138.5l-3 0.5-4-1.5-6-3-2-2-2-3-0.5-3 0.5-3 2.5-3 3.5-1.5 4-0.5 4 2 4 4.5 3 4.5 0.5 4-1 3-3.5 2zM306.5 138.5l-4 0-3.5-2-1-3 0.5-4 4-6 4-3.5 3-1 5 0.5 4 4 1 4-0.5 3-3.5 4-9 4zM218.5 286.5l9-3 8-1 8-4.5 9-3.5 6-5.5 8-5.5 4.5-7 6-6 3.5-9 5-8 1-9 2.5-8-0.5-9 0.5-9-2.5-8-1-9-5-8-3-8-6.5-7-4.5-7-8-5.5-5-5-10-4-8-4.5-8-1-9-3-9 0.5-9-0.5-9 3-8 1-8 4.5-9 3.5-6 5.5-8 5.5-4.5 7-6 6-3.5 9-5 8-1 9-2.5 8 0.5 9-0.5 9 2.5 8 1 9 5 8 3 8 6.5 7 4.5 7 8 5.5 5 5 10 4 8 4.5 8 1 9 3 9-0.5 9 0.5zM101.5 161.5l-4 0-5.5-1-5.5-3-2.5-3-0.5-3 0.5-3 2-3 4.5-2.5 4 0.5 4 1.5 5.5 4.5 2 3 0.5 4-1 3-4 2zM321.5 161.5l-5 0-3-2-1-3 0.5-4 3-4 6.5-4.5 4-1 4 1.5 2.5 2 1.5 3 0.5 3-1 3-1.5 2-3 2-8 2zM89.5 187.5l-9-0.5-5-3.5-1.5-3 0-3 0.5-2.5 2-2.5 4-2 4 0 7.5 3 4 3 2 4-1 3-2.5 2.5-5 1.5zM335.5 187.5l-6.5 0-4-1-3-3-1-3 1-3 3.5-3 7-3.5 5-0.5 4 2 1.5 2 1.5 3 0 3-1 3-2 2-6 2zM83.5 215.5l-7 0-3-1.5-2-2.5-1-3 0-3 2-3 2-2 4-1.5 5.5 0.5 6.5 2 3.5 3 1 4-1.5 3-4 2.5-6 1.5zM341.5 215.5l-6.5 0-7.5-2.5-2.5-2.5-1-2 1-4 3.5-3 4-1.5 6-1 5 1 3.5 4.5 1 5-2.5 4-4 2zM83.5 244.5l-5-0.5-3.5-3.5-1-5 1.5-4 4-3 4-1 8 0 4 2 2.5 4-0.5 2-1.5 3-6 4-6.5 2zM337.5 244.5l-6-1-7.5-4-2-2-1-3 1.5-4 3-2 4-1 7 0 5 2 3 5 0 4-2.5 4-4.5 2zM94.5 271.5l-5 0-4-2-2-5 1-4.5 3-3.5 4.5-2 7.5-1.5 4 1 3 3.5 0.5 2-1 3-4.5 5-7 4zM329.5 271.5l-4 0.5-3-1-7.5-5.5-2.5-5 0-3 1-2 3-2 5 0 7 1.5 4 2.5 2 3 0.5 5-2 4-3.5 2zM108.5 296.5l-4-0.5-4-2.5-1.5-4 0.5-4 3-4 4.5-3 6.5-2.5 4 0.5 2.5 2 1 2-0.5 5-6 8-3 2-3 1zM312.5 296.5l-3 0-4-2-6-7-1.5-3 0-3 1-3 1.5-1.5 4-1 4 1 7 3.5 3 3 1 5-1 4-3 3-3 1zM130.5 316.5l-5 0.5-3.5-2.5-2-4 0-4 2.5-4.5 5.5-4.5 3.5-2 4 0 2.5 1 1.5 2 0.5 5-4 9-2.5 2.5-3 1.5zM293.5 317l-3 0-3-0.5-3-2-2-3-4-9 1-4 2-2.5 3-1 4 1 5 3.5 4 4 1.5 4-0.5 4-2 3.5-3 2zM153.5 332.5l-4-0.5-3-2-1.5-3.5-0.5-4 2-4.5 5-6 3-2 4-0.5 3 2 1.5 2 0.5 4-1 5-3 7-3 2-3 1zM267.5 332.5l-3 0-3-1.5-2-1.5-2-4-2-10 1-3 3-2.5 4-0.5 3 1.5 5 5.5 2 4 1 4-1 3.5-2 2.5-4 2zM183.5 341.5l-4 0.5-4-1.5-2.5-3-1-4 1-5 3.5-6.5 3-3 3-0.5 3 0.5 2 2 1.5 2.5 0.5 4-1 9-2 3-3 2zM241.5 341.5l-4 0.5-3-1-3-2.5-1.5-3-0.5-6 0.5-6 1.5-3 3-2 4 0 3 2.5 3 4.5 2 5 0.5 4-1 3-2.5 3-2 1zM209.5 345.5l-4-1-2.5-2-1.5-3-0.5-4 2.5-10 3-3.5 3-0.5 3 0.5 3 3.5 2.5 10-0.5 4-1.5 3-2.5 2-4 1z"/>
<path fill="#df9898" d="M211.5 93l-3 0.5-3.5-2-2-3-1.5-6.5 0-4.5 0.5-3 2.5-2.5 3-1.5 3 0 3 1 3 2.5 1 2.5 0 5-1.5 6-1.5 3-3 2.5zM185.5 95.5l-4 0.5-3-1-2-2.5-3-5.5-1-3.5 0-4 1.5-3 2.5-2 3-1 4 1 3 1.5 2 3.5 0.5 5 0 6-1.5 3-2 2zM238.5 96l-3 0.5-3-1.5-2-3.5-0.5-4 0-6 1.5-4 3-3 3-1 3 0.5 3 1.5 3 4 0 2-0.5 4-2.5 5.5-2 3-3 2zM159.5 104.5l-3 0.5-3-1-3-2.5-4-5-1.5-3 0-4 1-3 2.5-2.5 3-1 4 0.5 2.5 1 2.5 3 2 6 0.5 5-1 4-2.5 2zM264.5 104.5l-4 0.5-2.5-1.5-2-3 0-4 1.5-6.5 2-4 3-2 4-1 5 2.5 2 3 0.5 3-0.5 3-2 3.5-4 5-3 1.5zM136.5 119l-3 0.5-3-1-8-6-2-3-0.5-3 0.5-3 2-3 4-2 4 0 5 3.5 3 5.5 1.5 5-0.5 4-3 2.5zM288.5 118.5l-4 1-3-1-2-3-0.5-4 2.5-6 3-4.5 3-2 4-0.5 3 1 3 3 1 3 0 3-3 5-7 5zM222.5 300.5l-3 1-11-1.5-10 1.5-10-4-10-1-9-5.5-11-4-7-7-9-5.5-6-9.5-7.5-7.5-3.5-10-6-9-1-11-3.5-9 1.5-11-1.5-11 3.5-9 1-11 6-9 4-11 7-6.5 6-9.5 8.5-5 8-8 9.5-3 10-6 10-1 10-4 11 1.5 11-1.5 10 4 10 1 9 5.5 11 4 7 7 9 5.5 6 9.5 7.5 7.5 3.5 10 6 9 1 11 3.5 9-1.5 11 1.5 11-3.5 9-1 11-6 9-4 11-7 6.5-6 9.5-9 5.5-7 7-11 4-9 5.5-9.5 1-8.5 3zM115.5 138.5l-3 0-5-2-3.5-2-3-3-1.5-3 0-3 1-3 2-2 5-1.5 3 0.5 3.5 2 4.5 5 2 4 0 4-2 3-3 1zM305.5 138.5l-3 0-3-2-1.5-3 1-4 2.5-4.5 4.5-4.5 3.5-1.5 4 0.5 3 1.5 2 3 0.5 3.5-0.5 3-2 3-3 2-8 3zM220.5 286.5l6-2.5 10-1 7-4.5 9-3.5 7-6.5 7-4.5 5-7.5 6-6 3.5-9 4.5-8 1-8 3-9-1-9 1-9-3-9-1-8-5-8.5-2.5-7.5-6.5-7-5.5-8-6.5-4-7-6.5-9-3.5-7-4.5-10-1-8-3-9 1-9-1-8 3-10 1-7 4.5-9 3.5-7 6.5-7 4.5-5 7.5-6 6-3.5 9-4.5 8-1 8-3 9 1 9-1 9 3 9 1 8 5 8.5 2.5 7.5 6.5 7 5 7.5 7 4.5 7 6.5 9 3.5 7 4.5 10 1 7 3 10-1 8 1 3-0.5zM99.5 161.5l-9.5-2-4.5-3.5-1.5-2.5-0.5-3 1-2.5 2-2.5 4-2 4 0 4 2 6 5 1.5 3 0 4-2.5 3-4 1zM320.5 161.5l-4-0.5-3-2.5-1-3 1.5-4 2.5-3 6-4 4-1 4 1 2.5 2 1.5 3 0 4-1 2.5-4.5 3.5-8.5 2zM92.5 187l-9 0.5-6-2.5-3-4.5-0.5-3 1.5-3.5 3-2.5 5-1 4 1 7 4 2.5 3 0.5 3-1.5 3-3.5 2.5zM338.5 186.5l-7 1-6-1-3.5-3-0.5-2 0.5-3 2-3 5.5-3 5-1.5 4 0 4.5 3.5 1.5 5-2 4.5-4 2.5zM82.5 215.5l-4 0-3-1-3-2-1-2-1-3 1-3 2-3 2-1 5-1 7 1 4.5 2 2 3 0 4-2 3-3.5 1.5-6 1.5zM340.5 215.5l-8-1-5.5-2-2.5-4 0.5-3 1-2 3.5-2.5 6.5-1.5 4.5 0 3 1 3.5 4 0.5 5-2 4-5 2zM86.5 243.5l-5 1-4.5-2-2.5-4 0-5 2-3 4-2 7-1 6 1 3.5 3 0.5 2-0.5 3-3.5 4-7 3zM339.5 244l-3 0.5-4-1-8-4-3-4 0-3 1.5-2 2.5-2 5-1 7 0.5 4 2 2.5 3.5 0.5 4-1.5 4-3.5 2.5zM93.5 271.5l-4 0-4-2.5-2-4.5 1-4 3.5-4 4.5-2 7-1 4 1 2 2 1 2-1.5 5-6.5 6-5 2zM328.5 271.5l-6.5-1-7.5-6-2-5 0.5-2 1.5-2.5 3-1.5 5 0.5 6.5 1.5 4 3 1.5 4 0 4-2 3-4 2zM110.5 295.5l-4 1-4.5-2-2.5-4 0-4 2-4 4-3 7-3 4 0 3.5 3 0.5 5-5 7.5-5 3.5zM314.5 296l-3 0.5-4-1-3-2.5-4-4.5-2.5-6 1-3 1.5-2 3-1 4 0.5 6 2.5 4 3.5 1.5 2.5 0 5-1.5 3-3 2.5zM129.5 316.5l-4 0-4-3-1.5-3 0.5-4.5 3-4.5 5-4 4-2 4 0.5 2 1.5 1 2 0 5.5-4 8-3 2.5-3 1zM293.5 316.5l-4 0-3-1-3-2.5-2-3.5-2-5-0.5-3 0.5-3 3-2.5 3-0.5 4 1.5 5 3.5 3.5 4 1 4-0.5 3-2 3-3 2zM155.5 332l-4 0.5-4-2-2-3-0.5-4 1.5-5 4-5 3-2.5 4-1 3 1 1.5 1.5 1 3 0 3-2.5 9-2 2.5-3 2zM269.5 331.5l-3 1-4-1-2.5-2-2-3-1.5-6-0.5-5 1-3 2.5-2 3-0.5 4 1.5 4 4 3 5 0.5 6-2 3-2.5 2zM182.5 341.5l-4 0-3-1-2-3-1-4 1-5 3-6 3-3 3-1 3 1 2 2 1.5 3 0 4 0 5-1.5 4-2 2.5-3 1.5zM240.5 341.5l-3 0.5-3-1-2.5-2.5-1.5-3-0.5-5 0-6 1.5-3 3-2.5 4 0 3 2 5 9.5 0 4-1 3-2 2.5-3 1.5zM212.5 344.5l-4 0.5-3-1-2.5-2.5-1.5-3 0-5 1.5-7 2.5-3.5 3-1.5 3 0.5 3 2.5 1.5 3 1.5 5.5 0 4.5-0.5 3-1.5 2-3 2z"/>
<path fill="#de9494" d="M211.5 92.5l-4 0-3-2-2-4-1-6 0.5-4 1-3 2.5-2 3-1 3 0.5 3 1.5 2 2 1 3 0 4-2 7-2 3-2 1zM184.5 95.5l-3 0.5-3-1.5-2.5-3-2.5-5.5-1-3.5 0.5-4 2.5-3 2-1 3-0.5 3 0.5 3 2 2 4 0 10-1 3-3 2zM238.5 95.5l-3 0.5-3-1.5-2-3-0.5-3 0.5-7 1-3.5 2-2.5 4-1.5 3 0 3 2 2 2.5 1 3-1 4-2 5-2 3-3 2zM158.5 104.5l-3 0-3-1-6-8-1-3 0-4 3-4 4-1 4 0.5 2 1.5 2 2.5 2 6.5 0.5 5-1.5 3-3 2zM263.5 104.5l-3 0-3-2-1.5-3 0-3 1.5-6 2-4 3-2.5 4-0.5 3 1 2.5 2 1.5 3 0 3-1 3.5-3 4.5-3 3-3 1zM136.5 118.5l-3 0.5-3-0.5-8-6.5-2-3.5 0-3 0.5-3 2-2 3.5-1.5 4 0 3 1.5 2 2 3 5.5 1.5 4.5-1 4-2.5 2zM287.5 119l-4 0-2.5-1.5-1.5-3 0-4 3-6.5 3-3.5 3-1.5 4 0 2.5 1.5 2.5 2.5 1 5.5-3.5 5-7.5 5.5zM220.5 300.5l-11-1-11 1-10-3.5-10-1-9-5.5-11-4-7-7-9-6-6-9-7-7-3.5-10-5.5-9-1.5-11-3.5-9 1.5-11-1.5-11 3.5-9 1.5-11 5.5-9 3.5-10 7-7 6-9 9-6 8-7.5 9-3 10-6 10-1 10-3.5 11 1 11-1 10 3.5 10 1 9 5.5 11 4 7 7 9 6 6 9 7 7 3.5 10 5.5 9 1.5 11 3.5 9-1.5 11 1.5 11-3.5 9-1.5 11-5.5 9-3.5 10-7 7-6 9-9 6-8 7.5-9 3-10 6-10 1-10 3.5zM117.5 137.5l-3 1-3-0.5-5.5-2.5-3.5-2.5-2-3-1-2.5 0.5-3 1.5-3 3.5-2 3.5-0.5 4 1.5 2.5 2 4 5 1.5 4-0.5 4-2.5 2zM308.5 137.5l-4 1-4-1.5-1.5-2.5-0.5-4 2-3.5 5-5.5 3.5-2 3.5 0 2.5 1 2.5 2 1.5 3-0.5 4-2.5 4-7.5 4zM221.5 286.5l6-2 9-1 7.5-5 8.5-3 6-6 8-5 5-8 6.5-6 3-9 5-8 1-8 3-9-1-9 1-9-3-8-1-10-5-7-3-9-6.5-6-5-8-8-5-5-5.5-9.5-3.5-8.5-5-9-1-8-3-9 1-9-1-8 3-10 1-7.5 5-8.5 3-6 6-8 5-5 8-6.5 6-3 9-5 8-1 8-3 9 1 9-1 9 3 8 1 10 5 7 3 9 6.5 6 5 8 8 5 5 5.5 9.5 3.5 7.5 5 10 1 7 3 10-1 9 1 3-1zM102.5 160.5l-3 1-4-0.5-5-1.5-3.5-2-1.5-2-1.5-3 0-3 1.5-3 4-2.5 4-0.5 4 1.5 5 4 3 3.5 0.5 3-1 3-2.5 2zM324.5 160.5l-5 1-3.5-1-2.5-2.5-0.5-3.5 1-3 3.5-3.5 5-3.5 4-1 3.5 1 2.5 2 1.5 3 0.5 3-1 3-1.5 2-7.5 3zM92.5 186.5l-8 0.5-6-1.5-2.5-2-1.5-3 0-3 1-3 3-2.5 4-1 4 0.5 7 3.5 2.5 2.5 1 4-1 3-3.5 2zM337.5 186.5l-8 0.5-5-1.5-2-2-0.5-2 1-4 3-3 6.5-3 5-0.5 3 1.5 3 3.5 0.5 4.5-2 4-4.5 2zM86.5 214.5l-7 1-4-1-2-1.5-2-2.5-0.5-3 0.5-2.5 1.5-2.5 2.5-2 5-1 6 1 5 2 2.5 3 0 4-2.5 3-5 2zM342.5 215l-5 0.5-9-2.5-3.5-3.5 0-3 0.5-2 3-2.5 4-1.5 6-1 5 1 3 3.5 1 4.5-1.5 4-3.5 2.5zM85.5 243.5l-5 0.5-4-2.5-2-4 1-5 3-3 4-1.5 8 0 4 1.5 2 2 0.5 2-1 4-3.5 3.5-7 2.5zM339.5 243.5l-3 0.5-4-0.5-8-4-2.5-4 0-3 1-2 3.5-2 4-0.5 7 0.5 4 1.5 2 3.5 0.5 4-1.5 4-3 2zM95.5 271l-5 0.5-4-2-2.5-4 0.5-4 2.5-4 3.5-2 8-2 4 1 3.5 3 0 2-0.5 3-3.5 4-6.5 4.5zM330.5 270.5l-3 1-4-0.5-7.5-5.5-3-5 0-3 1.5-2 3-1.5 4 0 7 1.5 3.5 2 1.5 2 1 5-1 3.5-3 2.5zM109.5 295.5l-5 0-3-2-2-4 0.5-4 2.5-3.5 3.5-2.5 6.5-2.5 4 0 2.5 1.5 1 2 0 5-5.5 7.5-5 2.5zM314.5 295.5l-4 0.5-3-1-6-5.5-3-6 0.5-3 1.5-2.5 3-1 4 0 7 3.5 3 2.5 1.5 3.5 0 4-1.5 2.5-3 2.5zM128.5 316.5l-4-0.5-3-3-1-3.5 0.5-4 3-4 5.5-4.5 4-1 3 0.5 2 1.5 1 2.5-1 6-4 7-2.5 2-3.5 1zM291.5 316.5l-3-0.5-3-1.5-5-7.5-1-3.5 0-3 1-2.5 2-1.5 3-0.5 4 1 5.5 4.5 2.5 3 1 4-1 4-2.5 3-3.5 1zM155.5 331.5l-4 0.5-3.5-1.5-2-3-1-4 1.5-4.5 4-5.5 3-2.5 4-1 2 0.5 2 2 1.5 3 0 3-2.5 8.5-2 2.5-3 2zM268.5 331.5l-3 0.5-3-1-4-4.5-2.5-10 1.5-4 2-2 3-0.5 4 1.5 4 4.5 2.5 4.5 1 3-0.5 3-2 3.5-3 1.5zM181.5 341.5l-3 0-3.5-2-2-3-0.5-4 1-3.5 3-6.5 3-2.5 3-1 3 1 2.5 2.5 1 3 0 5-0.5 4-1 3-3 3-3 1zM239.5 341.5l-3 0-3-2-3-5-0.5-7 0.5-4 2-3 3-1.5 3 0.5 3 2 3 5 1.5 5-0.5 6-3 3-3 1zM211.5 344.5l-3 0.5-3.5-1.5-2.5-3-1-3 0-4 2-7 2-3 3-1.5 3 0.5 3 2 2 4 1 6-1 6-2 2.5-3 1.5z"/>
<path fill="#dd9090" d="M210.5 92.5l-3 0-3-2.5-1.5-3.5-1-6 0-4 1.5-3 2.5-2 2.5-0.5 3.5 0.5 2.5 1.5 2 2.5 0.5 3-1.5 10-2 2.5-3 1.5zM183.5 95.5l-3 0-2.5-2-4.5-8-0.5-4 0.5-3 1-2 3-2 4-0.5 3.5 1.5 1.5 1.5 1.5 3.5 0.5 10-2 3.5-3 1.5zM237.5 95.5l-3 0-3-2.5-1-3.5 0-5 0.5-4 1.5-3.5 3-2.5 3-0.5 2 0.5 3 2 2 3 0.5 3-0.5 3-3 6.5-2 2-3 1.5zM157.5 104.5l-3-0.5-2.5-1.5-5.5-7-1-6 1.5-3 2.5-2 3-1 4 1 4 4.5 2 6.5 0 4-2 4-3 1zM262.5 104.5l-3-0.5-2-2-1-2.5 0-4 2-6.5 2-3 3-2 4 0 3 1.5 2 2 1 5-1.5 4-4 5-2.5 2-3 1zM135.5 119l-3 0-3-1.5-7-6-1.5-3-0.5-3 1-3 2-2 3-1.5 4 0.5 2.5 1 2.5 2.5 3 5.5 1 4-1 4-3 2.5zM287.5 118.5l-3 0.5-3-1.5-2-3 0.5-4 2.5-6 3-3.5 3-1.5 4 0 3 1.5 2 2.5 0.5 5-3.5 5-7 5zM221.5 300l-3 0-10-1-10 1-9-3-11-1.5-8-5-12-5-6-6-9.5-6-5.5-9-7.5-7-4-11-5-8-1-10-4-10 1.5-11-1.5-11 4-10 1-10 5-8 4-11 7.5-7 5.5-9 9.5-6 7-7 10-3.5 9-5.5 11-1.5 9-3 12 1 9-1 10 3 10 1 10 6 11 4.5 6 6 9.5 6 5.5 9 7.5 7 4 11 5 8 1 10 4 10-1.5 11 1.5 11-4 10-1 10-5 8-4 11-7.5 7-5.5 9-9.5 6-7 7-10 3.5-9 5.5-11 1.5-8 3zM116.5 137.5l-5.5 0-8.5-5-2-3-0.5-3 0.5-2.5 1.5-2.5 3.5-2 3 0 3 1 4 3 3 4 2 4-1 4-3 2zM307.5 137.5l-4 0.5-3-1.5-1.5-3 0.5-4 3-4.5 4-4 4-1.5 3 0.5 4 3.5 1 3 0 2.5-3 4.5-8 4zM220.5 287.5l7-3 9-0.5 8-5.5 8-2 6.5-7 8.5-5 4-7.5 6.5-5.5 1-2 2.5-8 5-8 1-9 3-8-1.5-9 1.5-9-3-8-1-10-5-7-3-9-6.5-6-5.5-9-7.5-4-6.5-7-8-2-8-5.5-9-0.5-9-3.5-9 1.5-9-1.5-9 3.5-9 0.5-8 5.5-8 2-6.5 7-8.5 5-4 7.5-7 6.5-3 9-5 7-1 10-3 8 1.5 9-1.5 9 3 8 1 10 5 7 3 9 7 6.5 4 7.5 8.5 5 5.5 6 9 3 8 5.5 9 0.5 8 3.5 10-1.5 8 1.5 3-0.5zM101.5 161l-4 0-6-1.5-5-3-2-5 0.5-3 1-2 3.5-2 4-0.5 4 1.5 5.5 4 2 3 0.5 4-1 2.5-3 2zM323.5 160.5l-5 0.5-3-1-2-2.5 0-4 2-3.5 6-4.5 4-1.5 3.5 0.5 2.5 1.5 2 2.5 0.5 3-0.5 3-3.5 4-6.5 2zM91.5 186.5l-9 0-5-2-2-2.5-0.5-2.5 0-3 1.5-2.5 3-2 4-0.5 5 1 5.5 3 2.5 3 0.5 3-1.5 3-4 2zM336.5 186.5l-8 0.5-3.5-1.5-2-2-1-2 1-4 3.5-3 7-3 4 0 2.5 1 3.5 4 0 5-2 3-5 2zM84.5 214.5l-7 0.5-3-1.5-2-2-1-5 1-2.5 2-2.5 4-1.5 5 0 6 1.5 3.5 3 1 3-1.5 3.5-3 2.5-5 1zM341.5 215l-8-0.5-5.5-2-3-4 1-4 2.5-2.5 5-1.5 6-0.5 4 1 3 3.5 0.5 4-1.5 4-4 2.5zM84.5 243.5l-4 0-4.5-3-1.5-4 2-5 2.5-2 4.5-1 7-0.5 4 1.5 2.5 4-1 4-3.5 3-8 3zM338.5 243.5l-5 0-9-4.5-2.5-4.5 1.5-4 3-2 4-0.5 6.5 0.5 4.5 2 2 4 0 4-1.5 3-3.5 2zM94.5 270.5l-5 0-3.5-2-1.5-4 0.5-4 2.5-3 4-2 7-1.5 4 0.5 3 3-0.5 5-4.5 5-6 3zM329.5 270.5l-6 0-7.5-5-3-5 0.5-2 1-2.5 3-2 4 0 6 1.5 5 3 1.5 4 0 3-1.5 3.5-3 1.5zM108.5 295.5l-4-0.5-3-2-1.5-3.5 0.5-4 3-4 5-3 5-1.5 4 0.5 2 2 0.5 2-0.5 4.5-5 6.5-3 2-3 1zM312.5 295.5l-3 0-3-1.5-6-6.5-1.5-3 0-3 0.5-2 2-2 3-0.5 3.5 0.5 6 3 3.5 3.5 1 2.5 0 4-2 3.5-4 1.5zM130.5 315.5l-4 0.5-4-2.5-1.5-3 0-4 2.5-4 4.5-4 3.5-2 4-0.5 2 1.5 1.5 2 0 5-3.5 7.5-5 3.5zM293.5 316l-3 0-3-0.5-3-2.5-2-2.5-3-8 1-4 2-2 3-0.5 4 1.5 5 4 2.5 3 1.5 4-1 3-1 2-3 2.5zM153.5 331.5l-3 0-3-2-1.5-3-0.5-4 2-4.5 4.5-5.5 3.5-2 3 0 3.5 3 0.5 6-3 8.5-3 2.5-3 1zM267.5 331.5l-3 0-3-1.5-2-2.5-2-4-1-8 1-3 3-2 3 0 3.5 2 4.5 5.5 1.5 3.5 0.5 3.5-1 3-2 2.5-3 1zM183.5 340.5l-4 0.5-3-1-2.5-2.5-1-4 0.5-4 3-6.5 3-3 3-1 3 1 1.5 1.5 1.5 5 0 6.5-1 3.5-4 4zM241.5 340.5l-3 1-3-1-2.5-2-2-3-0.5-4 0-6.5 1.5-3.5 2.5-2 3 0 3 1.5 2 2.5 3 6 0.5 4-0.5 3-2 3-2 1zM209.5 344.5l-3.5-1-2.5-2-1-2-0.5-4 0.5-5 1.5-5 2.5-2.5 3-0.5 3 0.5 2.5 2.5 1.5 5 0.5 5-0.5 4-1 2-2.5 2-3.5 1z"/>
<path fill="#dc8d8d" d="M212.5 91.5l-3 1-3-1-2-2-1.5-3-1-6 0.5-4 2-3.5 2.5-1.5 3.5 0 3 1 3 4 0.5 4-1 6-1.5 3-2 2zM185.5 94.5l-3 1-3-1-3-3-2-5-1-3 0-4 2-3 3-2 3 0 2.5 1 3.5 4 1 10-1 3-2 2zM239.5 94.5l-3 1-3-1-2-2-1-4 1-9 3-4 3-1 5 1.5 2 2 1 2.5 0 3.5-2 5.5-1.5 3-2.5 2zM159.5 103.5l-3 1-4-2-6-8 0-6 1-2 2.5-2 3.5-0.5 3 1 2 1.5 2 3 2 9-1 3-2 2zM264.5 104l-3 0.5-3-1.5-1.5-2.5-0.5-3 1-5 2-5 3.5-3 3.5-0.5 4.5 2.5 1.5 2 0.5 3-0.5 3-2 3.5-3 4-3 2zM134.5 118.5l-5-1-7-7-1.5-3 0.5-3 2.5-4 2.5-1 4 0 3 2 3 4 2 4 1 4-2 4-3 1zM286.5 118.5l-3 0-2.5-2-1.5-3 0.5-3 2.5-5 3-4 3-2 3 0 2.5 1 2.5 2 1 3 0 3-1.5 3-3 3-3.5 3-3 1zM220.5 299.5l-12-1-9 1-11-3.5-9-0.5-10-6-10.5-4-7.5-7.5-8-5-5.5-8.5-8-8-3.5-10-5-8-1.5-11-3.5-10 1.5-10-1.5-10 3.5-10 1-10 5.5-9 4.5-11 7-7 5.5-8.5 8-5 8-8 11-4 8-5 10-1 10-3.5 12 1 9-1 11 3.5 9 0.5 10 6 10.5 4 7.5 7.5 8 5 5.5 8.5 8 8 3.5 10 5 8 1.5 11 3.5 10-1.5 10 1.5 10-3.5 10-1 10-5.5 9-4.5 11-7 7-5.5 8.5-8 5-8 8-11 4-8 5-10 1-10 3.5zM115.5 137.5l-3 0-3-1-7.5-5-1.5-5 0.5-3 1.5-2 4-1.5 4 0.5 3 1.5 4 4.5 2 3 0.5 4-1.5 2.5-3 1.5zM306.5 137.5l-3 0-3-1.5-1.5-2.5 0.5-4 2-3 5-5 4-1.5 3.5 0.5 2.5 2 1.5 2 0.5 3-1 3-4 4-7 3zM219.5 288.5l8-3.5 9-0.5 7-5 10-3 6-7 8-4 5-9 6.5-5 2.5-9.5 5.5-7.5 0.5-9.5 4-8.5-2-9 2-9-4-8.5-0.5-9.5-5.5-7.5-2-8.5-7-6-5-9-8-4-6-7-10-3-7-5-9-0.5-9-3.5-9 1.5-9-1.5-9 3.5-9 0.5-7 5-10 3-6 7-8 4-5 9-6.5 5-2.5 9.5-5.5 7.5-0.5 9.5-4 8.5 2 9-2 9 4 8.5 0.5 9.5 5.5 7.5 2 8.5 7 6 5 9 8 4 6 7 10 3 7 5 9 0.5 9 3.5 9-1.5 10 1.5zM101.5 160.5l-4 0-5-1-5.5-3-1.5-2.5-0.5-2.5 0.5-3 1-2 4-2 3.5 0 4.5 2 4 3 2.5 3 0.5 3-1 3-3 2zM322.5 160.5l-4 0-3-1-2-3 0.5-4 2.5-3 6-4 4-1 4 1 3 4 0 5-4.5 4-6.5 2zM90.5 186.5l-8-0.5-5.5-2.5-1.5-3-0.5-2 0.5-2 2-3 3-1.5 4-0.5 7 2.5 3.5 2.5 1.5 3 0 3-3 3-3 1zM333.5 186.5l-5.5 0-3.5-1.5-2-3.5 0.5-3 2.5-3 3.5-2 5.5-2 4 0.5 4 3.5 1 5-1 2-2 2-7 2zM83.5 214.5l-6 0-3-1.5-2-2.5-0.5-5 3.5-4 3-1 5.5 0 5.5 1.5 3 2.5 1 4-1.5 3-3.5 2-5 1zM340.5 214.5l-5.5 0-6.5-2-2-2-1-2 1-4 3-2.5 5.5-1.5 5.5 0 3 1 3 4 0 4-2 3.5-4 1.5zM86.5 243l-5 0.5-4-2-2-4 0.5-4 2.5-3 4-1.5 7-0.5 4 1 3 3-0.5 4-2.5 3-7 3.5zM339.5 242.5l-3 1-3-0.5-8-3.5-3-4 0.5-4 2.5-2 4-1 7 0.5 4 1.5 2.5 3 0.5 4-1 3-3 2zM93.5 270.5l-4-0.5-3.5-2.5-1-4 1.5-4 3.5-3 6.5-2 4 0 3 1 1.5 2 0.5 2-1 4-6 5-5 2zM328.5 270.5l-6-1-7-5-1.5-2-0.5-3 2-4 3-1 4 0 6.5 2 3.5 3 1.5 3-0.5 4-2 2.5-3 1.5zM110.5 294.5l-4 0.5-4-1.5-1.5-3-0.5-4 2.5-4 4.5-3 5-2 4 0 3 3 0 5-5 6.5-4 2.5zM314.5 294.5l-3 0.5-3.5-0.5-6.5-6-2.5-5 0.5-3 1.5-2 2.5-1 3.5 0 6.5 3 3 2.5 2 3.5 0 3-1.5 3-2.5 2zM129.5 315.5l-3.5 0-3-2-1.5-3 0-4 2.5-4 4.5-4 4-2 3 0 3.5 3 0 5-4.5 8-5 3zM292.5 315.5l-3 0-3-1-2-2-3-4.5-2-6.5 1-2.5 2-2 3-0.5 4 1 7 7 1.5 3-0.5 3.5-2 3-3 1.5zM155.5 330.5l-4 0.5-3-1.5-2-2.5-0.5-3.5 1.5-5 3.5-5 3.5-2.5 3-0.5 2 1 2 2 1 4-3 9.5-4 3.5zM268.5 331l-3 0-2.5-0.5-2.5-2-2-3-2-9 1-3 2-2 3-1 4 2 6 8 0.5 3-0.5 3.5-1.5 2.5-2.5 1.5zM182.5 340.5l-3 0-3-1-2-2-1-4 0.5-4 2.5-6 3-3 3-1 2 0.5 2 1.5 1.5 3 0.5 3-1 8-2 3-3 2zM240.5 340.5l-3 0-3-1-2-2-1.5-3 0-10 1.5-3 3-2 3 0.5 3 2 4 9 0 3.5-1 3-4 3zM211.5 344l-3 0-3-1-2-2.5-1-3 1-10 2-3 3-2 3 0.5 2 1.5 2 3 1 4.5 0.5 4.5-1 3-1.5 2.5-3 2z"/>
<path fill="#db8989" d="M211.5 92l-3 0-2-1-2-2-1-3.5-1-6 1-4 2-2.5 3-1.5 3 0.5 2.5 1.5 1.5 2 1 3-1.5 9-1.5 3-2 1.5zM184.5 95l-3 0-3-1.5-2-2.5-2-5-0.5-6.5 1.5-2.5 2-1.5 3-0.5 3 0.5 2.5 2 1.5 3 0.5 10-1.5 3-2 1.5zM238.5 95l-3 0-3-1.5-1-2-0.5-4 0.5-6 1-3 3-3 3-0.5 2.5 0.5 2.5 2 1.5 2 0 3-2.5 8.5-2 2.5-2 1.5zM158.5 104l-3 0-3-1.5-5-7-1-3 0-3 1.5-3 2.5-1.5 3-0.5 3 1 2 2 2 3.5 1.5 5.5 0 3-1.5 3-2 1.5zM264.5 103.5l-3 0.5-3-1.5-1.5-2 0-3 1.5-6.5 2-3.5 2-2 4-1 3 1 2 2 1 2 0 3-1 3-3.5 5-3.5 3zM136.5 117.5l-3 1-3-1-7-6-1.5-3-0.5-3 1-2.5 2-2 3-1 3 0 2.5 1.5 2.5 3 3 5.5 0.5 2.5-0.5 3-2 2zM288.5 117.5l-3 1-3.5-1-1.5-2-0.5-4 1.5-3.5 4-6 3-2 3 0 2 0.5 2.5 2 1 2 0 3-1.5 4-7 6zM221.5 298.5l-3 0.5-5-1-6 0-9 1-5-2.5-6-1.5-8.5-0.5-6.5-4.5-13-5-4-4.5-4-3.5-8-4.5-4.5-8-8-8-3-9-6.5-10-0.5-8-4-12 1.5-9-1.5-11 4-12 0.5-8 6.5-10 3-9 8-8 4.5-8 8-4.5 9-9 8-2 10.5-6.5 8.5-0.5 12-4 8 1 6 0 6-1 12 4 8.5 0.5 10.5 6.5 8.5 2.5 8.5 8.5 7 3.5 5.5 9 8.5 8.5 2.5 8.5 6.5 10 0.5 8 4 12-1.5 9 1.5 11-4 12-0.5 8-5.5 8-4.5 12-4 3-3.5 4-4.5 8-8 4.5-8.5 8.5-8.5 2.5-10.5 6.5-8.5 0.5-6 1.5-4 2zM114.5 137.5l-4.5-1-5-3-2.5-2.5-1.5-2.5 0-3 2.5-4 4-1 4 1 7 6.5 1 3.5 0 3-2 2-3 1zM305.5 137.5l-4-1-2-2 0-3 1-3 7-7 4-1 3 1 3 3 0 5-3.5 4-5 3-3.5 1zM219.5 289.5l4.5-3 3.5-1.5 4 0 5 1 7.5-6.5 3.5-1.5 6 0 3.5-5.5 3-3 8.5-3.5 2-5.5 2-3.5 7.5-5.5 1.5-9 2-3 5-5-1-5 0.5-4 0.5-3 4-6-2-5-0.5-4 0.5-4 2-5-4-6-0.5-3 0-10-4.5-4-2-3-1.5-9-7.5-5.5-2-3.5-2-5.5-8.5-3.5-3-3-3.5-5.5-6 0-3.5-1.5-7.5-6.5-5 1-4 0-3.5-1.5-5.5-3.5-6 2.5-3 0.5-3-0.5-6-2.5-8 4.5-4 0.5-7-0.5-3.5 4-3 2-3.5 1.5-6 0-3.5 5.5-3 3-8.5 3.5-2 5.5-2 3.5-7.5 5.5-1.5 9-2 3-5 5 1 5-0.5 4-0.5 3-4 6 2 5 0.5 4-0.5 4-2 5 4 6 0.5 3 0.5 4-1 5 5 5 2 3 1.5 9 7.5 5.5 2 3.5 2 5.5 6 2 3 2 2.5 2.5 3 5 6.5 0.5 3.5 1.5 7.5 6.5 5-1 4 0 3.5 1.5 4.5 3 10-2.5 3 0.5 6 2.5 1-0.5zM99.5 160.5l-8.5-2-4-3-1.5-3 0-2 2-4 3-1.5 4 0 3 1.5 6 4.5 2 3.5-0.5 3-2.5 2.5-3 0.5zM320.5 160.5l-3-0.5-2.5-1.5-1.5-3 1-3 3-3.5 6-3.5 3-0.5 3 0.5 2.5 2 1.5 3-1 4.5-4.5 3.5-7.5 2zM92.5 186l-7 0-6.5-1.5-3-4 0.5-5 3-2.5 4-1 9.5 3.5 3 3 0.5 3-2 3-2 1.5zM337.5 185.5l-8 1-3.5-1-3-3 0-4 2.5-3 4.5-2 4.5-1.5 4 0.5 3 2 1 2 0.5 3-1.5 3.5-4 2.5zM86.5 213.5l-7 1-4.5-2-2.5-4 0-2 1.5-3 2.5-2 4-1 7 1 4 2 1.5 3 0 3-2.5 2.5-4 1.5zM342.5 213.5l-5 1-8-1.5-3.5-3.5 0-4 2.5-2.5 3-1.5 7-1 4 1 3 3 1 3-1 3.5-3 2.5zM85.5 242.5l-5 0-3-2-1.5-3 0.5-4 2-2.5 3-1.5 8-1 4 1 2.5 3 0.5 2-1 2.5-3 3-7 2.5zM338.5 242.5l-5.5 0-7.5-3-2.5-4 0.5-4 2.5-2 3.5-1 7 1 3.5 1 2.5 3 0.5 4-1.5 3-3 2zM95.5 269.5l-4 0.5-4-1.5-2-4 1-4 2.5-3 5-2 4.5-1 4 0.5 2.5 3.5-0.5 4-3 3.5-6 3.5zM329.5 269.5l-3 0.5-3-0.5-7-4.5-3-4.5 1.5-4 2.5-1.5 3.5-0.5 7 2 3 2 2 3 0.5 3-1 3-3 2zM108.5 294.5l-3 0-3-2-1.5-3 0.5-4 2-3 6.5-4 4.5-1 3 1 2 3-1 5-5.5 6-4.5 2zM312.5 294.5l-5.5-1-6.5-6.5-1.5-4.5 0.5-2 2-2 3-1 3 0.5 5 2.5 4 3.5 1.5 2.5-0.5 4.5-2 2.5-3 1zM130.5 315l-4 0-3-1.5-1.5-3 0-4 1.5-3 5-5 4-2 3 0.5 3 2.5 0 5-4 7.5-4 3zM293.5 314.5l-3 0.5-2.5-0.5-4.5-4-3-5.5-0.5-2.5 0.5-3 2-2 3-1 3 1 7 6 1.5 3 0.5 3-1.5 3-2.5 2zM153.5 330.5l-3-0.5-2.5-1.5-1.5-3 0-3.5 2-4 4-5.5 3-1.5 3 0 2 1.5 1.5 2 0 3-0.5 3.5-3 7-2 1.5-3 1zM267.5 330.5l-3 0-2-1-2-2-2-3.5-1.5-5.5 0-3 1.5-3 2-1.5 3 0 3 1.5 4 5.5 2 3.5 0 3-1 3-1.5 2-2.5 1zM183.5 339.5l-3 0.5-3-0.5-3-3-0.5-3 0.5-4.5 2.5-5.5 2.5-3 3-0.5 4 1.5 1.5 5-0.5 8-1.5 3-2.5 2zM241.5 339.5l-3 0.5-3-0.5-2.5-2-1.5-3-0.5-10 1.5-3 2-1.5 3 0 3 1.5 2 2.5 2 5 0.5 6.5-1.5 2.5-2 1.5zM209.5 343.5l-3-1-2-1.5-2-5.5 2-9.5 2-2 3-1 3 1 2 2 2 9.5-2 5.5-2 1.5-3 1z"/>
<path fill="#da8585" d="M210.5 92l-3-0.5-2-1.5-2-5.5 0.5-8 1.5-2.5 3-1.5 2.5 0 2.5 1.5 2 4.5-1 10-1.5 2-2.5 1.5zM183.5 95l-3-0.5-2.5-2-3.5-9 1-5 2-2 2-1 2 0 3 1.5 2 3 0.5 2.5 0.5 8-1.5 3-2.5 1.5zM237.5 95l-3-0.5-2-1.5-1-2.5-0.5-3 1-6 1.5-3 2-2 3-1 4.5 2 1.5 5-2.5 9-2 2-2.5 1.5zM158.5 103.5l-3 0-2.5-1-5.5-8-0.5-3 0.5-2.5 3-3.5 5 0 2 1.5 2 3 2.5 8.5-1 3-2.5 2zM263.5 103.5l-3 0-2.5-2-1-3 0.5-3 2-5.5 2-3 3-1.5 3 0 2.5 1 1.5 2 0 5-3.5 7-4.5 3zM135.5 118l-2 0-3-0.5-7-7-1-5 2.5-4 3.5-1 3 1 5 5.5 2 3.5 0.5 3-1.5 3-2 1.5zM287.5 118l-3 0-3-1.5-1-2 0-3 1-3 4-5.5 3-2 3-0.5 4 2.5 1 2 0 3-2.5 4.5-4 4-2.5 1.5zM219.5 298.5l-7-1.5-7 0-6 1.5-6-2.5-7-2-8-0.5-4-3-7-3.5-7-2-3.5-4.5-6.5-5-6-3-4-7-4-5-5.5-5-1-6-3.5-7-4-5 0-7-2-7-2.5-6 1.5-7 0-7-1.5-6 2.5-6 2-7 0-7 4-5 3.5-7 1.5-7 5-4 4-5 3-6 7-4 6-4.5 3-4 2-1.5 6-1.5 7-3.5 4-3 8-0.5 7-2 6-2.5 7 1.5 7 0 6-1.5 6 2.5 7 2 8 0.5 4 3 7 3.5 7 2 3.5 4.5 6.5 5 6 3 4 7 4 5 5.5 5 1 6 3.5 7 4 5 0 7 2 7 2.5 6-1.5 7 0 7 1.5 6-2.5 6-2 7 0 7-4 5-3.5 7-1.5 7-5 4-4 5-3 6-7 4-6 4.5-3 4-2 1.5-6 1.5-7 3.5-4 3-8 0.5-7 2-6 2.5zM116.5 137l-3 0.5-3-1-7-5-1.5-5 1.5-4 3-1.5 4 0.5 7 6 2 5-1 3-2 1.5zM307.5 137l-4 0-3-1.5-1-3 0.5-3 7-7 3.5-1.5 3 0.5 3 3 0.5 2-0.5 3-2 3-7 4.5zM220 291.5l3-4 4.5-2 4.5 0 5.5 2 4-6 4-2.5 4-0.5 5 1 1-1 1.5-5 2.5-3 4-2.5 6.5-0.5 1-7 2.5-4 3-2 4-1 1.5-1-1-6 1.5-5 2-2.5 5.5-3.5-2-6 0.5-5.5 2-3.5 4-3-0.5-2-3-4-1-4 1-4 3-4 0.5-2-4-3-2-3.5-0.5-5.5 2-6-5.5-3.5-2-2.5-1.5-5 1-6-6.5-2.5-3-2.5-2-4 0-5-0.5-1-7.5-1-4-3-2-3-1-4.5-2-0.5-5 1-3.5-1-4-3-2-4-1.5-1-5.5 2-3.5 0-5.5-2-3.5-4-2 0-3.5 3-4.5 1-4.5-1-3.5-3-2 0-3.5 4-4.5 2-4.5 0-5.5-2-4 6-4 2.5-4 0.5-5-1-1 1-1.5 5-2.5 3-4 2.5-6.5 0.5-1 7-2.5 4-3 2-4 1-1.5 1 1 6-1.5 5-2 2.5-5.5 3.5 2 6-0.5 5.5-2 3.5-4 3 0.5 2 3 4 1 4-1 4-3 4-0.5 2 4 3 2 3.5 0.5 5.5-2 6 5.5 3.5 2 2.5 1.5 5-1 6 6.5 2.5 3 2.5 2 4 0 5 0.5 1 7.5 1 4 3 2 3 1 4.5 2 0.5 5-1 3.5 1 4 3 2 4 1.5 1 5.5-2 3.5 0 5.5 2 3.5 4 2 0 3.5-3 4.5-1 4 1 4 3 2.5 0zM101.5 160l-5 0-7.5-3.5-2.5-4 0-3 1-2 3-1.5 3-0.5 3 1 6 3.5 2 3 0.5 2.5-1.5 3-2 1.5zM323.5 159.5l-4 1-3-1-2.5-3 0.5-3 2-3.5 6-3.5 3-1 3 0.5 3 1.5 1 2 0 4-2.5 3-6.5 3zM92.5 185.5l-3 0.5-5.5-0.5-4.5-1.5-2-2-1-2.5 1-4 2.5-2 3.5-1 9 3 2.5 2 1 3-1 3-2.5 2zM334.5 185.5l-6 0.5-3.5-1.5-1.5-2-0.5-2 1.5-3.5 4-2.5 6-1.5 3 0 3 1.5 2 4-1 3-3 3-4 1zM84.5 213.5l-6 0-3.5-2-1.5-4 1.5-4 3.5-2 3 0 7 0.5 3 2 1.5 3.5-1 3-2.5 2-5 1zM340.5 213.5l-8 0-4-1.5-2.5-3.5 1-4 2.5-2 4-1 6 0 3.5 1 2.5 3 0 3.5-2 3-3 1.5zM86.5 241.5l-4 0.5-4-1.5-2-4 1-3.5 3-2.5 3.5-1 6.5-0.5 3 1 2 2.5 0 4-3 3-6 2zM338.5 242l-5 0-8-3-2.5-3.5 1-4 2.5-2 3-0.5 7 1 3.5 1.5 1.5 2 1 3-1 3-3 2.5zM92.5 269.5l-3.5-1-2.5-3 0-3 1.5-3 2.5-2 7-2.5 3 0 3 1.5 1.5 3-1.5 4-7 5-4 1zM326.5 269.5l-4-1-7-5-1.5-4 1.5-3 3-1.5 3 0 7 2.5 2.5 2 1.5 3 0 3-2.5 3-3.5 1zM109.5 293.5l-3 0.5-3-1.5-1.5-3 0.5-4 2-3 6-4 3-1 3 0.5 2 1.5 1 2-0.5 4-5.5 6-4 2zM313.5 293.5l-5 0-7-6-2-5 2-4 3-1 3 0.5 8 5.5 1.5 3 0 3-1.5 3-2 1zM131.5 313.5l-3 1-3.5-1-2.5-3 0-3.5 2-3.5 4.5-5 2.5-1.5 3 0 2 0.5 1.5 2 0.5 4-3 6-4 4zM293.5 314l-3 0.5-3-1-4-4-2-3-1.5-4 1-3 1.5-2 3-0.5 2.5 0.5 7.5 7 1 2.5 0 3-1 2-2 2zM154.5 329.5l-3 0-2.5-1-1.5-2.5-0.5-3.5 1.5-3.5 3.5-5.5 2.5-2 3 0 3.5 2 1 5-3.5 8.5-4 2.5zM267.5 329.5l-3 0-2.5-1-1.5-2-2-4-1.5-4 0-3 1.5-2.5 2-1.5 3 0 2.5 1 2.5 3 3 5.5 0 5-1.5 2.5-2.5 1zM183.5 338.5l-3 1-3-1-2-2-1-3 0.5-3 2-7 2.5-2.5 3-1 2 0.5 2 1.5 1.5 4.5-1.5 8.5-3 3.5zM241.5 338.5l-3 1-2-0.5-2.5-1.5-1.5-2.5-1.5-9.5 1.5-3 2-2 3-0.5 2 1 3 4 2 8.5-1 3-2 2zM210.5 342.5l-2.5 0-2.5-1.5-1.5-2.5-1-3 1.5-9 2-2.5 3-1 3 1 2 2.5 1.5 8-1.5 5.5-4 2.5z"/>
<path fill="#d88181" d="M209.5 91.5l-4-2-1.5-5 1-8 2-2 2.5-0.5 2.5 0.5 2 2 1 8-1.5 5-4 2zM182.5 94.5l-4-2-2-4.5-0.5-6.5 1-3 2.5-1.5 3 0.5 2 1.5 3 8.5-1 5-2 1.5-2 0.5zM236.5 94.5l-2-0.5-2-1.5-1-5 3-8.5 2-1.5 3-0.5 2.5 1.5 1 3-0.5 6.5-2 4.5-4 2zM156.5 103.5l-4-2-4-8 0-3 1-2 3-2 3 0.5 2 2 4 7.5 0 3-1 2-2 1.5-2 0.5zM262.5 103.5l-2-0.5-2-1.5-1-2 0-3 4-7.5 2-2 3-0.5 3 2 1 2 0 3-4 8-4 2zM135.5 117.5l-3 0.5-2.5-1.5-5.5-6.5-0.5-4.5 2.5-3 2-0.5 3 1 6 6.5 1 3-0.5 2-2.5 3zM286.5 118l-3-0.5-2-1.5-1-2.5 0.5-3 5.5-7 3-1.5 3 0.5 2.5 3-0.5 4-4 6-4 2.5zM219.5 297.5l-4-2-6 1-6-1-4 2-4-2.5-6-1-5-2-5 1-3-3.5-6-2-5-3-4 0-2-2-0.5-2-5.5-3.5-4-4.5-4-0.5-1-1.5-0.5-3-4.5-4.5-3-5-4.5-2.5 0-5-3.5-5-1.5-5-3.5-3 0.5-5-1.5-5-1-6-2.5-4 1.5-4-0.5-6 0.5-6-1.5-4 2.5-4 1-6 1.5-5-0.5-5 3.5-3 1.5-5 3.5-5 0-5 4.5-2.5 3-5 4.5-4.5 1-4 4.5-1 4-4.5 5.5-3.5 0.5-2 2-2 4 0 5-3 6-2 3-3.5 5 1 5-2 6-1 4-2.5 4 2 6-1 6 1 4-2 4 2.5 6 1 5 2 5-1 3 3.5 6 2 5 3 4 0 2 2 0.5 2 5.5 3.5 4 4.5 4 0.5 1 1.5 0.5 3 4.5 4.5 3 5 4.5 2.5 0 5 3.5 5 1.5 5 3.5 3-0.5 5 1.5 5 1 6 2.5 4-1.5 4 0.5 6-0.5 6 1.5 4-2.5 4-1 6-1.5 5 0.5 5-3.5 3-1.5 5-3.5 5 0 5-4.5 2.5-3 5-4.5 4.5-1 4-4.5 1-4 4.5-5.5 3.5-0.5 2-2 2-4 0-5 3-6 2-3 3.5-5-1-5 2-6 1-4 2.5zM222 293.5l1-5 4.5-2.5 3-0.5 2.5 1 2.5 3.5 1 0.5 4-1.5 0.5-0.5-0.5-4 1-2 4.5-3 3.5-0.5 4 3.5 2-0.5 3-2.5-1.5-5 3-4 4.5-2 5 2.5 4-3.5-2-4-0.5-2 3-5 3.5-1.5 5 1 2.5-4.5-3-4 0.5-5 3-3.5 6-0.5 1.5-4 0-1-4-3-0.5-4 2-5 6-2 0.5-5-4.5-1.5-1.5-2.5-0.5-3 0.5-3 1.5-2.5 4.5-1.5-0.5-4-1-1.5-3-0.5-2-1-2-4 0.5-5 4-3-1.5-5-6-0.5-3.5-4.5 0-4 3-4 0-1-2.5-3.5-5 1-2-0.5-2.5-2-1.5-2.5-0.5-2.5 2.5-5-3-3-1-0.5-5 2.5-3-1-2.5-2-2-3 1.5-5-1-1-4-2-4 3.5-5-1-3.5-3.5 0-5-4.5-2-1 0.5-2.5 3.5-3.5 1-5.5-2-1.5-2-1-4.5-5 0-2 4.5-5 1.5-5-1.5-2-4.5-4 0-1.5 0.5-1 5-3 2-3.5 1-3-1-3-3.5-1-0.5-4.5 2 0 5-1.5 2-3 2-4 0.5-4-3.5-2 0.5-3 2.5 1.5 5-3 4-4.5 2-5-2.5-4 3.5 2 4 0.5 2-3 5-3.5 1.5-5-1-2.5 4.5 3 4-0.5 5-3 3.5-6 0.5-1.5 4 0 1 4 3 0.5 4-2 5-6 2-0.5 5 4.5 1.5 1.5 2.5 0.5 3-0.5 3-1.5 2.5-4.5 1.5 0.5 4 1 1.5 3 0.5 2 1 2 4-0.5 5-4 3 1.5 5 6 0.5 3.5 4.5 0 4-3 4 0 1 2.5 3.5 5-1 2 0.5 2.5 2 1.5 2.5 0.5 2.5-2.5 5 3 3 1 0.5 5-2.5 3 1 2.5 2 2 3-1.5 5 1 1 4 2 4-3.5 5 1 3.5 3.5 0 5 4.5 2 1-0.5 3-3.5 3-1 3.5 1 3 2 1.5 5.5 5 0 2-4.5 5-1.5 5 1.5 2 4.5 5.5-0.5zM116.5 136.5l-5 0-7-6-1-4 1.5-3 2-1 2.5 0 8 5.5 1.5 4.5-0.5 2-2 2zM306.5 137l-3 0-2.5-1.5-1-3 0.5-3 2-2.5 5-3.5 2-1 3 0 3 3 0 3.5-5 5.5-4 2.5zM101.5 159.5l-5 0-7-4-2-4 1.5-3 1.5-1 3-0.5 9 3.5 2 3 0 2-1 3-2 1zM321.5 159.5l-3 0.5-3-1.5-1-3 0.5-3 2.5-2.5 5.5-2.5 3.5-0.5 2.5 0.5 2 3-0.5 3.5-2.5 2.5-6.5 3zM91.5 185.5l-3.5 0-8-3-2-3 1.5-4 2-1 3-0.5 6 1 3 1.5 1.5 2 0.5 3-1 2.5-3 1.5zM330.5 185.5l-3 0-3.5-2-0.5-3 1-3 3-2 7-1.5 3 0.5 2 1 1.5 3-1.5 3.5-2 1.5-7 2zM88.5 212.5l-8 0-3.5-1-2-3 0.5-3.5 1.5-1.5 2.5-1 7-0.5 4 1.5 1.5 2 0.5 3-1 2-3 2zM339.5 212.5l-7 0.5-3-1-2.5-2.5 0-4 1.5-2 3-1 8 0 2.5 1 1.5 2 0.5 3-1.5 2.5-3 1.5zM87.5 240.5l-4 0.5-3-0.5-2-2.5 0-3.5 2.5-3 7-2 3.5 0 2 1 2 3-0.5 3-2.5 2.5-5 1.5zM337.5 240.5l-6.5 0-5.5-2-2-3 0.5-4 2.5-1.5 3-0.5 9 2.5 2 2.5 0.5 2-1.5 3-2 1zM95.5 267.5l-4 0.5-2.5-1.5-1.5-3 1-2.5 2.5-2.5 5.5-3 3-0.5 3 1 2 2.5-0.5 4-2.5 2.5-6 2.5zM328.5 267.5l-5 0-7-3-2-4 1-4 3-1.5 3 0.5 8 4 2 4-1 2.5-2 1.5zM108.5 292.5l-2 0-2.5-2-0.5-2 0.5-3 2.5-3 5-4 3-0.5 2 0.5 2.5 3-0.5 4-2 2.5-5 3.5-3 1zM311.5 292.5l-4-1-6-4.5-1.5-4.5 1.5-3.5 3-1 3 0.5 7 6 1 2 0 3-1.5 2-2.5 1zM130.5 312.5l-3 0.5-2.5-1.5-1-2 0-3 6-8 2.5-1.5 3 0.5 2.5 2 0.5 4-2 3.5-4 4.5-2 1zM292.5 312.5l-3 0.5-2-1-6-6.5-1-4 2-3.5 2-1 3 0.5 3 2 3 4 1.5 5-0.5 2.5-2 1.5zM155.5 328l-3 0.5-2-1-2-2.5 0-2.5 4-9 2-1.5 3-0.5 3 2 1 4-3 7-3 3.5zM268.5 327.5l-4 0.5-2-1-2-2.5-3-7 0.5-3 1.5-2 4-1 4 3 3 8 0 2.5-2 2.5zM182.5 337.5l-3 0.5-2-1-2-4.5 2-9 2-2 3-1 2 0.5 2 1.5 1 4-2 8-3 3zM239.5 338l-3-0.5-2-1.5-3-8.5 1-5 3-2 4 1 2 2 1 3 0.5 7-1 3-2.5 1.5zM211.5 340.5l-2 0.5-2.5-0.5-1.5-1.5-1-2.5 0-9 2-3 2-1 4 1 2.5 4-0.5 8.5-1 2-2 1.5z"/>
<path fill="#d77e7e" d="M211.5 91l-3 0-2.5-1.5-1.5-3 1-3 4-1 4 1 0.5 4-2.5 3.5zM184.5 94l-3 0-2.5-1.5-1.5-3 1-3 6-1.5 2 1.5 0.5 4-2.5 3.5zM238.5 94l-3 0-3-2.5-0.5-3 1.5-3 5 0 3 2 0 3-3 3.5zM158.5 103l-4.5-0.5-2-2-0.5-2 1-2.5 5-2 2 0.5 1.5 3 0 3-2.5 2.5zM264.5 102.5l-3 0.5-3-2-0.5-3.5 1.5-3 3-0.5 4.5 2.5 0 3-2.5 3zM134.5 117.5l-4-1-2-3 1.5-3 4.5-2.5 2 1 1.5 3.5-0.5 3-3 2zM285.5 117.5l-3-1-1.5-3 0.5-3 3-2.5 3 1 3 3.5-1 3-4 2zM212.5 126l-4 0.5-2.5-1-1.5-2 0.5-2 3.5-2 4.5 1 1.5 3-2 2.5zM190.5 128.5l-2.5 0-1.5-1-0.5-3 3.5-2.5 4 0 1.5 1.5 0 3-4.5 2zM230.5 128.5l-3 0-3-1.5-1-2.5 1-2 4-1 4 2 0.5 3-2.5 2zM115.5 136.5l-3 0-2-1-1-2 0.5-3 3.5-3.5 3 0.5 2.5 4-0.5 3-3 2zM305.5 136.5l-4-1-1.5-3 1.5-4 3-1.5 2.5 1.5 3 4-1.5 3-3 1zM173.5 134.5l-4 0.5-1.5-1.5 0-2 2.5-3 4-1 2 1 0.5 3-1.5 2-2 1zM249.5 135l-3 0-3-1.5-1.5-2 0.5-3 3-1 4.5 2 1 3-1.5 2.5zM155.5 145.5l-3-1-0.5-3 3.5-3.5 2-0.5 2 0.5 1.5 1.5-0.5 2.5-2.5 2.5-2.5 1zM264.5 145.5l-3-0.5-2.5-2.5-1-3 1.5-1.5 3-0.5 4 3 0.5 3-2.5 2zM100.5 159.5l-4.5-1-1-2 2-5 1.5-1.5 4 1 2 3.5-1 3.5-3 1.5zM143.5 159l-2 0.5-1.5-1-1-3 2.5-4 3-1 2 1 0.5 2-0.5 2.5-3 3zM278.5 159l-3 0-3-3-0.5-3.5 1.5-2 3 0.5 3 2.5 0.5 3-1.5 2.5zM320.5 159.5l-4-1-2-3 1-3 2-2 2-0.5 2.5 1.5 2 5-1 2-2.5 1zM132.5 175.5l-2.5-1-1-3 2.5-4.5 3-0.5 2 1.5 0 2.5-2 4-2 1zM286.5 175.5l-2-1-2-4 0-2.5 2-1.5 3 0.5 2.5 4.5-1 3-2.5 1zM92.5 185l-3 0-3-1.5 0.5-5 1.5-2.5 4 0 2.5 2.5 0.5 2-0.5 2-2.5 2.5zM331.5 184.5l-4 0.5-3-1.5-1-3 2-3.5 3-1.5 2.5 1 2 6-1.5 2zM126.5 193.5l-3-1.5-0.5-3.5 1.5-3.5 3-1 2 1 0.5 3.5-1.5 4-2 1zM292.5 193.5l-2-1-1.5-4 0.5-3.5 2-1 3 1 1.5 3.5-0.5 3.5-3 1.5zM89.5 211.5l-3 1-3-2 0-5 1-2 4-0.5 3 2 0.5 3.5-2.5 3zM126.5 211.5l-3 0.5-2.5-2.5 0-4 2.5-2.5 2 0 2 2 0 4.5-1 2zM296.5 211.5l-3 0.5-2-2 0-5 2-2 3 0.5 1.5 2 0 4-1.5 2zM334.5 211.5l-4 0.5-3-2-0.5-3.5 1.5-2.5 3-1.5 3 1 1 4-1 4zM128.5 230.5l-3 0.5-2-3.5 0-4 2-2 2 0.5 2 2.5 0.5 4-1.5 2zM293.5 231l-3-0.5-1.5-2 0.5-4.5 1-1.5 2-1 2.5 1 1 2-0.5 3.5-2 3zM92.5 239l-3 0.5-1.5-1-2-5 1.5-3 4-0.5 3 1.5 0.5 4-2.5 3.5zM330.5 239l-4 0-2.5-2.5-0.5-3 2.5-3 3.5-0.5 3 1.5-0.5 5-1.5 2.5zM134.5 248.5l-3-0.5-2-3.5-0.5-3 2.5-2 3 1 2 3.5 0 3-2 1.5zM286.5 248.5l-3-0.5-1-2.5 2-5 3-1 2 1.5 0.5 2.5-1.5 3.5-2 1.5zM100.5 265l-3-0.5-2.5-5 0-2 3-2 3.5 0 2.5 3-0.5 4-3 2.5zM320.5 265l-4-1-2-3.5 1-3.5 3-1.5 4.5 1 1 2-2 5-1.5 1.5zM144.5 264.5l-3-1-2.5-3 0-3 1.5-1.5 3 0 3 3.5 0.5 3-2.5 2zM275.5 264.5l-3-1-0.5-3 2.5-3.5 3-1.5 2.5 2 0 2-1.5 3-3 2zM158.5 277.5l-3-0.5-3-2.5-0.5-3 1.5-1.5 3-0.5 3.5 3 1 3-2.5 2zM261.5 277.5l-3-1-0.5-3 3.5-3.5 3.5-0.5 2 2 0 2-2.5 3-3 1zM115.5 288l-3-1-3.5-4.5 1-2 2.5-2 4 0.5 2 2.5 0 3.5-3 3zM305.5 288l-3-0.5-2.5-4 0.5-3 3-2 3 0 2 1 1 2-0.5 3-3.5 3.5zM175.5 287l-3 0-3.5-1.5-1-2 1-3 3.5-0.5 4 2.5 1 2-2 2.5zM247.5 287l-4 0-1.5-1.5 0-2 2.5-3 4-0.5 2.5 1.5 0 2-1 2-2.5 1.5zM193.5 293l-3 0.5-3-1-1.5-2 0.5-3 3-1 4.5 1 1.5 3-2 2.5zM230.5 293l-3 0.5-3-1-1-2 0.5-2 3.5-2 4 0 1 1 1 2-1 2-2 1.5zM212.5 295l-3 0.5-3.5-1-1.5-2 0.5-2 3.5-2 4.5 1 1.5 3-2 2.5zM135.5 307l-2 0-4.5-3.5-0.5-2 2-3 4-1 3 2 0.5 4-2.5 3.5zM285.5 307l-3-1-1.5-3.5 0-2 1.5-2 3-1 3 1 2 3-1 2.5-4 3zM159.5 320.5l-3 0.5-4.5-2.5 0-3 2-3 3.5-0.5 3 2 0.5 3.5-1.5 3zM263.5 320.5l-3 0.5-2.5-2.5 0-4 2.5-2.5 4 0.5 2.5 3 0 3-3.5 2zM184.5 330l-5-1-2-1.5 0-3 3-3.5 4 0 2 2.5 0.5 4-2.5 2.5zM236.5 329.5l-3 0-1-1-0.5-3 1.5-3.5 3-1 3.5 1.5 1.5 3-1 3-4 1zM211.5 332.5l-4 0-2-1-0.5-4 2.5-3.5 4 0 2 2.5 0.5 4-0.5 1-2 1z"/>
<path fill="#d67a7a" d="M210.5 90.5l-2.5 0-2.5-2 0-2 1-2 5 0 2 1 0 3-3 2zM183.5 94l-2 0-2-1.5-1-2 0.5-2 4.5-1.5 2.5 0.5 0.5 3-1 2-2 1.5zM237.5 94l-2.5-0.5-2-2-0.5-3 1-1.5 4 0.5 3 1.5 0 2.5-3 2.5zM157.5 103l-4-1.5-0.5-3 3.5-2.5 3-0.5 1 1.5 0.5 2.5-1.5 2.5-2 1zM263.5 102.5l-3 0-2-2 0-3 1-2 3 0.5 3.5 2.5 0 2-2.5 2zM135.5 117l-4-0.5-2-2 2-3 4-2 2 2 0.5 2-1 2-1.5 1.5zM287.5 116.5l-3 0.5-2.5-1.5-0.5-3 1-2.5 2-0.5 4 3 1 2-2 2zM211.5 125.5l-4 0-1.5-1 0-2 2.5-1.5 3 0 1.5 2.5-1.5 2zM191.5 127.5l-2 0.5-2-1-0.5-1.5 1.5-2 3-0.5 2 0.5 0.5 2-0.5 1-2 1zM230.5 128l-3-0.5-2-1-0.5-1 0.5-2 2-0.5 3 0.5 1.5 2-1.5 2.5zM116.5 136l-4 0-1.5-2.5 2.5-4 2-1 2 1 1 2 0 2-2 2.5zM306.5 136l-3 0-2.5-1.5-0.5-3 2-3 2 0 3.5 4 0 2-1.5 1.5zM171.5 134.5l-2-1 0.5-3 2.5-1.5 3 0.5 0.5 1-0.5 2-4 2zM247.5 134.5l-4-2-0.5-2 0.5-1 3-0.5 2.5 1.5 0.5 3-2 1zM156.5 144.5l-2 0-1-1 0-2 2-2.5 3 0 1 0.5 0.5 2-3.5 3zM264.5 144.5l-2 0-3-2-0.5-2 0.5-1 2-1 3 1.5 1 2.5-1 2zM101.5 159l-3 0-2-1.5 1.5-4 1-2 1.5-0.5 2 1 1.5 2.5-0.5 2.5-2 2zM321.5 158.5l-3 0.5-3-1.5-0.5-3 1.5-2.5 2-1 2 1.5 2 4-1 2zM143.5 158l-2 0-1.5-2.5 1.5-2.5 3-1 1 0.5 0.5 2-2.5 3.5zM277.5 158l-2 0-2-2-0.5-2.5 0.5-1 2-0.5 2.5 1.5 1 3-1.5 1.5zM133.5 174l-2 0-1.5-2.5 1.5-3 2-1 2 1 0.5 1-0.5 2-2 2.5zM287.5 174l-2 0-2-2.5-0.5-2 1.5-2 2 0.5 2 2.5 0 2-1 1.5zM91.5 184.5l-2.5 0-1-2 1-4 1.5-2 3 1 1.5 3-1 3-2.5 1zM329.5 184.5l-3 0-2.5-3 0.5-3 3-2 2 1 1 3 0.5 3-1.5 1zM127.5 192l-2 0-1.5-2.5 1-3 2.5-1 1 0 1 2-0.5 3-1.5 1.5zM293.5 192l-2 0-1.5-1.5-0.5-3 1.5-2 1.5 0 2 2 0 3-1 1.5zM88.5 211.5l-2 0-1-2 0-5 2-1 3 1 1.5 3-1.5 3-2 1zM331.5 211.5l-3-1-1.5-3 1.5-3 2-1 2 0 1 2 0 5-2 1zM125.5 211l-2-0.5-1.5-2 0.5-3 2-1.5 2 1 0.5 1.5 0 3-1.5 1.5zM295.5 210.5l-2 0.5-1.5-1.5 0-4 1.5-1.5 2 0.5 1.5 2 0 2-1.5 2zM127.5 229.5l-2-0.5-1.5-2.5 0.5-2.5 2-1.5 2 1.5 1 2.5-0.5 2-1.5 1zM292.5 229.5l-2 0-1-2 1-3.5 2-1.5 1.5 1 1 2-0.5 2-2 2zM91.5 238.5l-2-1-1-3-0.5-3 1.5-1 3 0 2.5 3-0.5 3-3 2zM327.5 238.5l-3-2-0.5-3 2.5-3 3 0 1.5 1-0.5 3-1 3-2 1zM135.5 246.5l-2 1-2.5-2-0.5-3 1-1.5 1-0.5 2 1 1.5 3-0.5 2zM286.5 247l-2 0.5-1.5-2 1.5-4 2-1 1.5 1 1 2-1 2-1.5 1.5zM101.5 264l-2-0.5-1.5-2-1.5-3 1-2 3-0.5 3 2 0 3.5-2 2.5zM319.5 263.5l-3-0.5-1.5-2.5 0.5-3 3-1.5 2 0 2 1.5-1 3-2 3zM145.5 262.5l-2 0.5-2-1-1.5-2.5 0.5-2 2-1 2 1.5 1.5 2.5-0.5 2zM276.5 263l-2 0-1.5-1.5 1-3 2.5-2 2 1 0.5 2-2.5 3.5zM158.5 276l-2 0-2.5-1.5-0.5-2 1-2 2 0 3 2 0.5 2-1.5 1.5zM263.5 276l-3 0-1.5-1.5 1.5-3 3-1 1 0 1 2-2 3.5zM115.5 286.5l-2-1-2.5-4 0.5-2 2-0.5 3 0 2 2.5-0.5 3-2.5 2zM303.5 286.5l-2.5-2-0.5-3 2-2.5 3 0 2 0.5 0.5 2-2.5 4-2 1zM174.5 286l-2 0-2-1-1-1.5 0-2 2-1 4 2 0.5 2-1.5 1.5zM247.5 285.5l-2 0.5-2-0.5-0.5-1 0.5-2 3-2 2 0.5 1 0.5 0 2-2 2zM192.5 292l-4-0.5-1.5-2 1-2 2.5-0.5 3 1.5 0.5 2-1.5 1.5zM230.5 291.5l-4 0.5-1.5-1.5 0.5-2 3-1.5 2.5 0.5 1 2-1.5 2zM211.5 294l-4 0-1.5-1.5 0-2 1.5-1 4 0 1.5 2-1.5 2.5zM136.5 305l-2 0.5-3-2-1.5-2 0-2 3.5-1.5 3 1 1.5 2.5-1.5 3.5zM285.5 305l-3 0-1.5-3.5 1.5-2.5 3-1 2.5 0.5 1.5 2-1 2-3 2.5zM158.5 319.5l-4-1.5-1.5-1.5 0-2 2-2 3.5 0 2 2 0 3.5-2 1.5zM260.5 319.5l-2-1.5 0-3.5 2-2 3.5 0 2 2 0 2-1.5 1.5-4 1.5zM185.5 328l-3 0-3.5-1.5-0.5-2 1-2 3-1.5 3 1.5 1 3-1 2.5zM237.5 327.5l-3 0.5-2-1.5 0.5-3 2-2 3.5 0 2 2 0 2.5-3 1.5zM211.5 330.5l-4 0-2-1 0-2 1-2 3-1.5 3 1.5 1 3 0 1-2 1z"/>
<path fill="#d57676" d="M209.5 90.5l-3-1.5 0-3 4-0.5 2.5 1-1 3-2.5 1zM182.5 93.5l-3-1.5 0-2.5 3-1 3 0 0 3-3 2zM236.5 93.5l-3-2 0-3 3 0 3 1 0 2.5-3 1.5zM158.5 102l-3 0-1-0.5-1-2 3-2 3-0.5 1 2.5-2 2.5zM264.5 101.5l-2 1-2.5-1-1.5-2 1-2.5 2 0 3 1.5 1 2-1 1zM134.5 116.5l-2 0-1.5-2 1.5-2.5 3-1.5 1.5 1 0.5 2-1 2-2 1zM286.5 116.5l-2 0-2-1-1-2 1-2.5 2 0 3 2.5 0.5 2-1.5 1zM209.5 124.5l-2-1 1-1 2 0 1 1-2 1zM190.5 126.5l-1 0-0.5-1 1-1 2 0 0.5 1-2 1zM229.5 126.5l-2 0-1-1 1-1 1.5 0 1 1-0.5 1zM115.5 135.5l-2.5 0-1-2 2.5-3.5 2-0.5 1 1 0.5 2-0.5 2-2 1zM305.5 135.5l-2 0-2-1-0.5-3 1.5-2 2 0.5 2 2.5 0.5 2-1.5 1zM173.5 132.5l-2 0.5-0.5-1.5 1.5-1 1.5 0 0.5 1-1 1zM247.5 133l-2-0.5-1-1 0.5-1 1.5 0 1.5 1-0.5 1.5zM157.5 142.5l-2 0.5 0-1.5 1-1 1.5 0 0.5 1-1 1zM263.5 143l-2-0.5-1-1 0.5-1 2.5 0.5 0 2zM100.5 158.5l-2-0.5-0.5-1.5 1.5-3.5 2-1 1.5 1.5 0.5 2-1 2.5-2 0.5zM319.5 158.5l-2 0-2-2.5 0.5-2.5 1.5-1.5 1.5 0.5 2 3 0 2-1.5 1zM142.5 156.5l-0.5-2 1.5-1 1 0.5 0 1.5-2 1zM276.5 156.5l-2-1 0-1.5 1-0.5 1.5 1-0.5 2zM133.5 172.5l-1 0-0.5-1 1.5-2 1 1-1 2zM286.5 172.5l-1.5-1 0-2 2 1-0.5 2zM92.5 184l-2 0-1-1.5 0.5-4 1.5-1 2 0.5 1 2.5-0.5 2-1.5 1.5zM328.5 184l-2.5-0.5-1.5-2 0-2 2-2 1.5 0 1.5 2 0 3-1 1.5zM126.5 190.5l-1-2 1-1 1-0.5 0.5 2.5-1.5 1zM292.5 190.5l-1.5-1 0.5-2.5 1 0.5 1 1-1 2zM89.5 210.5l-2 0-1-1 0-3 1-2 2 0 2 2 0 2-2 2zM331.5 210.5l-2 0-2-2 0-2 2-2 2 0 1 1 0 3-1 2zM125.5 209l-1 0-1-1.5 1-1.5 1 0.5 0 2.5zM294.5 209l-1 0-0.5-1.5 0.5-1.5 1 0 1 1.5-1 1.5zM127.5 228l-1-0.5-1-1 1-2 1.5 1-0.5 2.5zM292.5 227.5l-1 0.5-0.5-1.5 0.5-1.5 1-0.5 1 2-1 1zM92.5 237.5l-1.5 0-1.5-2 0-3 1-1.5 2.5 0.5 1.5 2 0 2-2 2zM327.5 237.5l-2-0.5-1-2.5 1-3 2-0.5 2 0.5 0 1-0.5 4-1.5 1zM133.5 245.5l-1.5-1 0.5-2 1 0 1 2-1 1zM285.5 245.5l-1-1 1-2 1 0 0.5 2-1.5 1zM101.5 263l-1.5-0.5-2-3 0-2 1-1 2.5 0 2 2 0 2.5-2 2zM318.5 263l-2-0.5-1-3 1-2.5 3-0.5 1.5 1 0 1-2.5 4.5zM143.5 261.5l-1.5-1 0.5-2 1 0 1 2-1 1zM275.5 261.5l-1-1 1-2 1 0 0.5 2-1.5 1zM157.5 274.5l-2-0.5 0-2 2 0.5 1 1-1 1zM262.5 274.5l-1.5 0-0.5-1 2-1.5 1 0 0 1.5-1 1zM116.5 285.5l-2-0.5-2-2.5-0.5-2 1-1 2.5 0 2 1 0.5 3-1.5 2zM303.5 285.5l-2-1-0.5-3 2-2 3 0 1 2-3.5 4zM173.5 284.5l-2-0.5 0-2 2 0.5 1 1-1 1zM246.5 284.5l-1.5 0-0.5-1 1-1 2-0.5 0.5 1.5-1.5 1zM191.5 290.5l-2 0 0-2 2 0 1 1-1 1zM228.5 290.5l-1.5 0-0.5-1 1-1 2 0 0.5 1-1.5 1zM210.5 292.5l-2 0-1-1 1-1 2 0 1 1-1 1zM136.5 304l-2 0-2-1-1-1.5-0.5-2 2.5-1 3 1 1 2-1 2.5zM285.5 303.5l-2 1-1.5-2 0.5-3 2-1 2 0 1.5 2-2.5 3zM159.5 318l-2 0-3-1.5-1-1 1-2 2-1 2.5 1 1.5 2-1 2.5zM262.5 317.5l-3 0.5-1-1.5 1-2.5 2-1.5 2 0.5 2 1.5-1 2-2 1zM184.5 327l-5-1.5-0.5-1 1-2 2.5-1 2.5 1 1 3-1.5 1.5zM236.5 326.5l-3 0-0.5-2 1-2 2.5-1 2.5 1 1 2-0.5 1-3 1zM210.5 329.5l-4-0.5-0.5-1.5 1-2 2.5-1 2.5 1 1 3-2.5 1z"/>
<path fill="#d47272" d="M210.5 89.5l-2.5 0-1-2 1.5-1 3 0.5 0.5 1.5-1.5 1zM183.5 93l-2.5-0.5-0.5-2 2-1 2 0 0.5 2-1.5 1.5zM237.5 92.5l-3-0.5-0.5-1.5 0.5-1 2 0 2 1 0.5 1-1.5 1zM157.5 102l-2-0.5-1-1 1-1.5 3-1 1 0.5 0 1-2 2.5zM263.5 101.5l-3 0-1-1.5 0-1.5 2-0.5 2 1 1 1.5-1 1zM135.5 115.5l-2 0.5-1.5-0.5 0-1 1.5-1.5 2-1 1 1.5-1 2zM286.5 115.5l-2 0.5-1.5-0.5-0.5-1 0-2 1-0.5 2 1 1.5 1.5-0.5 1zM116.5 134.5l-2 0.5-1-0.5 0-2 2-1.5 1-0.5 1 1.5-1 2.5zM305.5 134.5l-1 0.5-2-0.5-1-2 1-2 3 2 0 2zM101.5 158l-2-0.5-0.5-1 1-2 1.5-1.5 1 0.5 0.5 2-1.5 2.5zM319.5 157.5l-2 0.5-1-1-0.5-1.5 0.5-2 2 0 1.5 3-0.5 1zM93.5 182.5l-2 1-1-1 1-4 1 0 1.5 1-0.5 3zM328.5 182.5l-1 1-2-1-0.5-2 1.5-2 1.5 1 0.5 3zM89.5 210l-1 0-1-1.5 0-2 1-1.5 1 0 1.5 1.5 0 2-1.5 1.5zM330.5 210l-1 0-1.5-1.5 0-2 1.5-1.5 1 0 1 1.5 0 2-1 1.5zM92.5 236.5l-1 0-1-2 0-2 1-1 2 1 0.5 1 0 2-1.5 1zM326.5 236.5l-1.5-1 0-2 0.5-1 2-1 1 1 0 2-1 2-1 0zM101.5 262l-2-2.5 0-2 2-0.5 1.5 1.5 0 2-1.5 1.5zM317.5 262l-1.5-1.5 0-2 1.5-1.5 2 0.5 0 2-2 2.5zM116.5 284.5l-3-2 0-2 1-0.5 2 0.5 1 2-1 2zM303.5 284l-1 0.5-1-2.5 1-1.5 2-0.5 1 0.5 0.5 1-2.5 2.5zM136.5 302.5l-1 0.5-2-1-1.5-1.5 0-1 1.5-0.5 2 0.5 1 1 0 2zM284.5 303l-2-0.5 0-2 1-1 2-0.5 1.5 0.5 0 1-2.5 2.5zM159.5 316.5l-1 0.5-2-0.5-2-2 1-1 3 0 1 1.5 0 1.5zM262.5 316.5l-2 0.5-1-0.5 0-1.5 1-1.5 3 0 1 1-2 2zM184.5 325.5l-3 0-1.5-2 1.5-1 2.5 0 1 2-0.5 1zM236.5 325.5l-2 0-0.5-1 0.5-1.5 2-1 2.5 1.5-0.5 1-2 1zM210.5 328.5l-3-0.5-0.5-1.5 1.5-1 2.5 0 1 2-1.5 1z"/>
<path fill="#d36f6f" d="M210.5 88.5l-2 0 1-0.5 1 0.5zM183.5 91.5l-1.5 0 1.5-0.5 0 0.5zM236.5 92l-1-0.5 0-0.5 1.5 0.5-0.5 0.5zM157.5 101l-1-0.5 1.5-1-0.5 1.5zM262.5 100.5l-1.5 0 0-1 1.5 1zM134.5 115l-0.5-0.5 0.5-1 1 1-1 0.5zM284.5 115l-1-0.5 1-1 0.5 1-0.5 0.5zM115.5 134l-0.5-0.5 1-1-0.5 1.5zM303.5 134l-0.5-1.5 1 1-0.5 0.5zM101.5 156.5l-1 0 1-1.5 0 1.5zM317.5 156.5l0-1.5 1 1.5-1 0zM92.5 182l-0.5-0.5 0.5-1.5 0 2zM326.5 182l0-2 0.5 1.5-0.5 0.5zM89.5 208.5l-0.5-1 0.5-1 0 2zM329.5 208.5l0-2 0.5 1-0.5 1zM92.5 235l-0.5-1.5 0.5-0.5 0 2zM326.5 235l0-2 0.5 0.5-0.5 1.5zM101.5 260l-1-1.5 1 0 0 1.5zM317.5 260l0-1.5 1 0-1 1.5zM115.5 282.5l-0.5-1 0.5-0.5 0.5 1.5-0.5 0zM303.5 282.5l-0.5 0 0.5-1.5 0.5 0.5-0.5 1zM134.5 301.5l-0.5-1 0.5-0.5 1 0.5-1 1zM284.5 301.5l-1-1 1-0.5 0.5 0.5-0.5 1zM157.5 315.5l-1-1 1.5 0-0.5 1zM261.5 315.5l-0.5-1 1.5 0-1 1zM183.5 324l-1.5-0.5 1.5 0 0 0.5zM236.5 324l-1-0.5 1.5 0-0.5 0.5zM210.5 326.5l-1 0.5-1-0.5 2 0z"/></g></g>
<text transform="translate(588.60,43.60) scale(1.04,1.0)" font-size="60" font-family="Liberation Sans, Arial, Helvetica, sans-serif">b</text>
<line x1="718.6" y1="450.0" x2="1108.9" y2="35.9" stroke="#4682b4" stroke-width="2"/>
<line x1="718.6" y1="450.0" x2="1143.7" y2="212" stroke="#008080" stroke-width="2"/>
<polygon points="863.50,369.05 869.00,372.22 869.00,378.57 863.50,381.75 858.00,378.57 858.00,372.22" fill="none" stroke="#008080" stroke-width="1.6"/>
<polygon points="876.80,356.95 882.30,360.12 882.30,366.48 876.80,369.65 871.30,366.48 871.30,360.12" fill="none" stroke="#008080" stroke-width="1.6"/>
<polygon points="892.90,342.85 898.40,346.02 898.40,352.38 892.90,355.55 887.40,352.38 887.40,346.02" fill="none" stroke="#008080" stroke-width="1.6"/>
<polygon points="912.80,329.65 918.30,332.82 918.30,339.18 912.80,342.35 907.30,339.18 907.30,332.82" fill="none" stroke="#008080" stroke-width="1.6"/>
<polygon points="937.20,312.05 942.70,315.22 942.70,321.57 937.20,324.75 931.70,321.57 931.70,315.22" fill="none" stroke="#008080" stroke-width="1.6"/>
<polygon points="969.80,292.85 975.30,296.02 975.30,302.38 969.80,305.55 964.30,302.38 964.30,296.02" fill="none" stroke="#008080" stroke-width="1.6"/>
<polygon points="1012.60,267.65 1018.10,270.82 1018.10,277.18 1012.60,280.35 1007.10,277.18 1007.10,270.82" fill="none" stroke="#008080" stroke-width="1.6"/>
<polygon points="1071.00,224.35 1076.50,227.52 1076.50,233.88 1071.00,237.05 1065.50,233.88 1065.50,227.52" fill="none" stroke="#008080" stroke-width="1.6"/>
<circle cx="863.6" cy="295.1" r="6.8" fill="#4682b4"/>
<circle cx="876.9" cy="283.0" r="6.8" fill="#4682b4"/>
<circle cx="892.8" cy="269.1" r="6.8" fill="#4682b4"/>
<circle cx="912.8" cy="251.1" r="6.8" fill="#4682b4"/>
<circle cx="937.6" cy="227.1" r="6.8" fill="#4682b4"/>
<circle cx="969.8" cy="196.4" r="6.8" fill="#4682b4"/>
<circle cx="1012.6" cy="157.4" r="6.8" fill="#4682b4"/>
<circle cx="1070.9" cy="121.1" r="6.8" fill="#4682b4"/>
<path d="M718.6 35.9H1143.7V450.0H718.6Z" fill="none" stroke="#000" stroke-width="1.3"/>
<line x1="718.60" y1="450.0" x2="718.60" y2="455.3" stroke="#000" stroke-width="1.3"/>
<text transform="translate(718.60,482.60) scale(1.0,1.045)" text-anchor="middle" font-size="30" font-family="Liberation Sans, Arial, Helvetica, sans-serif">0</text>
<line x1="860.30" y1="450.0" x2="860.30" y2="455.3" stroke="#000" stroke-width="1.3"/>
<text transform="translate(860.30,482.60) scale(1.0,1.045)" text-anchor="middle" font-size="30" font-family="Liberation Sans, Arial, Helvetica, sans-serif">0.02</text>
<line x1="1002.00" y1="450.0" x2="1002.00" y2="455.3" stroke="#000" stroke-width="1.3"/>
<text transform="translate(1002.00,482.60) scale(1.0,1.045)" text-anchor="middle" font-size="30" font-family="Liberation Sans, Arial, Helvetica, sans-serif">0.04</text>
<line x1="1143.70" y1="450.0" x2="1143.70" y2="455.3" stroke="#000" stroke-width="1.3"/>
<text transform="translate(1143.70,482.60) scale(1.0,1.045)" text-anchor="middle" font-size="30" font-family="Liberation Sans, Arial, Helvetica, sans-serif">0.06</text>
<line x1="713.2" y1="450.00" x2="718.6" y2="450.00" stroke="#000" stroke-width="1.3"/>
<text transform="translate(703.60,460.70) scale(1.0,1.045)" text-anchor="end" font-size="30" font-family="Liberation Sans, Arial, Helvetica, sans-serif">0</text>
<line x1="713.2" y1="367.18" x2="718.6" y2="367.18" stroke="#000" stroke-width="1.3"/>
<text transform="translate(707.60,377.88) scale(1.0,1.045)" text-anchor="end" font-size="30" font-family="Liberation Sans, Arial, Helvetica, sans-serif">0.1</text>
<line x1="713.2" y1="284.36" x2="718.6" y2="284.36" stroke="#000" stroke-width="1.3"/>
<text transform="translate(707.60,295.06) scale(1.0,1.045)" text-anchor="end" font-size="30" font-family="Liberation Sans, Arial, Helvetica, sans-serif">0.2</text>
<line x1="713.2" y1="201.54" x2="718.6" y2="201.54" stroke="#000" stroke-width="1.3"/>
<text transform="translate(707.60,212.24) scale(1.0,1.045)" text-anchor="end" font-size="30" font-family="Liberation Sans, Arial, Helvetica, sans-serif">0.3</text>
<line x1="713.2" y1="118.72" x2="718.6" y2="118.72" stroke="#000" stroke-width="1.3"/>
<text transform="translate(707.60,129.42) scale(1.0,1.045)" text-anchor="end" font-size="30" font-family="Liberation Sans, Arial, Helvetica, sans-serif">0.4</text>
<line x1="713.2" y1="35.90" x2="718.6" y2="35.90" stroke="#000" stroke-width="1.3"/>
<text transform="translate(707.60,46.60) scale(1.0,1.045)" text-anchor="end" font-size="30" font-family="Liberation Sans, Arial, Helvetica, sans-serif">0.5</text>
<text transform="translate(654.00,243.00) rotate(-90)" text-anchor="middle" font-size="30.2" font-family="Liberation Sans, Arial, Helvetica, sans-serif">Potential difference (V)</text>
<text transform="translate(931.50,519.70) scale(1.0,1.045)" text-anchor="middle" font-size="30" font-family="Liberation Sans, Arial, Helvetica, sans-serif">1/<tspan font-style="italic">D</tspan> (Å<tspan font-size="20" dy="-11">-1</tspan><tspan dy="11">)</tspan></text>
<rect x="750.8" y="64.6" width="135.6" height="80.4" fill="#fff" stroke="#999" stroke-width="1.2"/>
<circle cx="763.5" cy="79.9" r="6.8" fill="#4682b4"/>
<polygon points="763.50,121.60 769.22,124.90 769.22,131.50 763.50,134.80 757.78,131.50 757.78,124.90" fill="none" stroke="#008080" stroke-width="1.6"/>
<text transform="translate(779.40,86.00)" font-size="23.5" font-family="Liberation Sans, Arial, Helvetica, sans-serif">Δ<tspan font-style="italic">V</tspan><tspan font-size="15" dy="4.6">flexo</tspan></text>
<text transform="translate(779.40,134.00)" font-size="23.5" font-family="Liberation Sans, Arial, Helvetica, sans-serif">Δ<tspan font-style="italic">V</tspan><tspan font-size="15" dy="4.6">core</tspan></text>
<text transform="translate(1171.00,37.90) scale(1.06,1.0)" font-size="60" font-family="Liberation Sans, Arial, Helvetica, sans-serif">c</text>
<polygon points="1377.10,148.40 1383.16,151.90 1383.16,158.90 1377.10,162.40 1371.04,158.90 1371.04,151.90" fill="none" stroke="#b22222" stroke-width="1.6"/>
<polygon points="1418.30,138.10 1424.36,141.60 1424.36,148.60 1418.30,152.10 1412.24,148.60 1412.24,141.60" fill="none" stroke="#b22222" stroke-width="1.6"/>
<polygon points="1460.10,129.70 1466.16,133.20 1466.16,140.20 1460.10,143.70 1454.04,140.20 1454.04,133.20" fill="none" stroke="#b22222" stroke-width="1.6"/>
<polygon points="1502.70,123.60 1508.76,127.10 1508.76,134.10 1502.70,137.60 1496.64,134.10 1496.64,127.10" fill="none" stroke="#b22222" stroke-width="1.6"/>
<polygon points="1546.40,120.50 1552.46,124.00 1552.46,131.00 1546.40,134.50 1540.34,131.00 1540.34,124.00" fill="none" stroke="#b22222" stroke-width="1.6"/>
<polygon points="1589.90,116.70 1595.96,120.20 1595.96,127.20 1589.90,130.70 1583.84,127.20 1583.84,120.20" fill="none" stroke="#b22222" stroke-width="1.6"/>
<polygon points="1633.30,114.00 1639.36,117.50 1639.36,124.50 1633.30,128.00 1627.24,124.50 1627.24,117.50" fill="none" stroke="#b22222" stroke-width="1.6"/>
<polygon points="1676.40,111.10 1682.46,114.60 1682.46,121.60 1676.40,125.10 1670.34,121.60 1670.34,114.60" fill="none" stroke="#b22222" stroke-width="1.6"/>
<polygon points="1719.40,109.40 1725.46,112.90 1725.46,119.90 1719.40,123.40 1713.34,119.90 1713.34,112.90" fill="none" stroke="#b22222" stroke-width="1.6"/>
<circle cx="1377.3" cy="230.10000000000002" r="7.5" fill="#b22222"/>
<circle cx="1418.5" cy="196.9" r="7.5" fill="#b22222"/>
<circle cx="1460.3" cy="173.70000000000002" r="7.5" fill="#b22222"/>
<circle cx="1502.9" cy="157.60000000000002" r="7.5" fill="#b22222"/>
<circle cx="1546.6000000000001" cy="149.4" r="7.5" fill="#b22222"/>
<circle cx="1590.1000000000001" cy="140.9" r="7.5" fill="#b22222"/>
<circle cx="1633.5" cy="135.60000000000002" r="7.5" fill="#b22222"/>
<circle cx="1676.6000000000001" cy="129.0" r="7.5" fill="#b22222"/>
<circle cx="1719.6000000000001" cy="123.5" r="7.5" fill="#b22222"/>
<polygon points="1376.70,386.90 1382.76,390.40 1382.76,397.40 1376.70,400.90 1370.64,397.40 1370.64,390.40" fill="none" stroke="#000080" stroke-width="1.6"/>
<polygon points="1418.00,376.80 1424.06,380.30 1424.06,387.30 1418.00,390.80 1411.94,387.30 1411.94,380.30" fill="none" stroke="#000080" stroke-width="1.6"/>
<polygon points="1460.00,368.30 1466.06,371.80 1466.06,378.80 1460.00,382.30 1453.94,378.80 1453.94,371.80" fill="none" stroke="#000080" stroke-width="1.6"/>
<polygon points="1502.60,362.60 1508.66,366.10 1508.66,373.10 1502.60,376.60 1496.54,373.10 1496.54,366.10" fill="none" stroke="#000080" stroke-width="1.6"/>
<polygon points="1546.50,358.60 1552.56,362.10 1552.56,369.10 1546.50,372.60 1540.44,369.10 1540.44,362.10" fill="none" stroke="#000080" stroke-width="1.6"/>
<polygon points="1589.90,355.00 1595.96,358.50 1595.96,365.50 1589.90,369.00 1583.84,365.50 1583.84,358.50" fill="none" stroke="#000080" stroke-width="1.6"/>
<polygon points="1633.40,352.60 1639.46,356.10 1639.46,363.10 1633.40,366.60 1627.34,363.10 1627.34,356.10" fill="none" stroke="#000080" stroke-width="1.6"/>
<polygon points="1676.50,349.70 1682.56,353.20 1682.56,360.20 1676.50,363.70 1670.44,360.20 1670.44,353.20" fill="none" stroke="#000080" stroke-width="1.6"/>
<polygon points="1719.60,347.30 1725.66,350.80 1725.66,357.80 1719.60,361.30 1713.54,357.80 1713.54,350.80" fill="none" stroke="#000080" stroke-width="1.6"/>
<circle cx="1377.1000000000001" cy="319.05" r="7.5" fill="#000080"/>
<circle cx="1418.4" cy="342.0" r="7.5" fill="#000080"/>
<circle cx="1460.2" cy="355.90000000000003" r="7.5" fill="#000080"/>
<circle cx="1502.8" cy="364.8" r="7.5" fill="#000080"/>
<circle cx="1546.7" cy="369.40000000000003" r="7.5" fill="#000080"/>
<circle cx="1590.1000000000001" cy="365.8" r="7.5" fill="#000080"/>
<circle cx="1633.6000000000001" cy="362.1" r="7.5" fill="#000080"/>
<circle cx="1676.7" cy="358.8" r="7.5" fill="#000080"/>
<circle cx="1719.8" cy="356.8" r="7.5" fill="#000080"/>
<line x1="1312.4" y1="101.1" x2="1731.2" y2="101.1" stroke="#7f7f7f" stroke-width="1.8" stroke-dasharray="8.3 3.63"/>
<line x1="1312.4" y1="339.7" x2="1731.2" y2="339.7" stroke="#7f7f7f" stroke-width="1.8" stroke-dasharray="8.3 3.63"/>
<text transform="translate(1315.60,95.20)" font-size="23.6" font-family="Liberation Sans, Arial, Helvetica, sans-serif">CBM<tspan font-size="14.8" dy="4.0">mono</tspan></text>
<text transform="translate(1315.20,360.10)" font-size="23.6" font-family="Liberation Sans, Arial, Helvetica, sans-serif">VBM<tspan font-size="14.8" dy="4.0">mono</tspan></text>
<path d="M1312.4 34.4H1731.2V450.4H1312.4Z" fill="none" stroke="#000" stroke-width="1.3"/>
<line x1="1312.40" y1="450.4" x2="1312.40" y2="455.7" stroke="#000" stroke-width="1.3"/>
<text transform="translate(1312.40,482.30) scale(1.0,1.045)" text-anchor="middle" font-size="30" font-family="Liberation Sans, Arial, Helvetica, sans-serif">10</text>
<line x1="1417.10" y1="450.4" x2="1417.10" y2="455.7" stroke="#000" stroke-width="1.3"/>
<text transform="translate(1417.10,482.30) scale(1.0,1.045)" text-anchor="middle" font-size="30" font-family="Liberation Sans, Arial, Helvetica, sans-serif">20</text>
<line x1="1521.80" y1="450.4" x2="1521.80" y2="455.7" stroke="#000" stroke-width="1.3"/>
<text transform="translate(1521.80,482.30) scale(1.0,1.045)" text-anchor="middle" font-size="30" font-family="Liberation Sans, Arial, Helvetica, sans-serif">30</text>
<line x1="1626.50" y1="450.4" x2="1626.50" y2="455.7" stroke="#000" stroke-width="1.3"/>
<text transform="translate(1626.50,482.30) scale(1.0,1.045)" text-anchor="middle" font-size="30" font-family="Liberation Sans, Arial, Helvetica, sans-serif">40</text>
<line x1="1731.20" y1="450.4" x2="1731.20" y2="455.7" stroke="#000" stroke-width="1.3"/>
<text transform="translate(1731.20,482.30) scale(1.0,1.045)" text-anchor="middle" font-size="30" font-family="Liberation Sans, Arial, Helvetica, sans-serif">50</text>
<line x1="1307.0" y1="34.40" x2="1312.4" y2="34.40" stroke="#000" stroke-width="1.3"/>
<text transform="translate(1301.50,44.90) scale(1.0,1.045)" text-anchor="end" font-size="30" font-family="Liberation Sans, Arial, Helvetica, sans-serif">-3.5</text>
<line x1="1307.0" y1="117.60" x2="1312.4" y2="117.60" stroke="#000" stroke-width="1.3"/>
<text transform="translate(1301.50,128.10) scale(1.0,1.045)" text-anchor="end" font-size="30" font-family="Liberation Sans, Arial, Helvetica, sans-serif">-4.0</text>
<line x1="1307.0" y1="200.80" x2="1312.4" y2="200.80" stroke="#000" stroke-width="1.3"/>
<text transform="translate(1301.50,211.30) scale(1.0,1.045)" text-anchor="end" font-size="30" font-family="Liberation Sans, Arial, Helvetica, sans-serif">-4.5</text>
<line x1="1307.0" y1="284.00" x2="1312.4" y2="284.00" stroke="#000" stroke-width="1.3"/>
<text transform="translate(1301.50,294.50) scale(1.0,1.045)" text-anchor="end" font-size="30" font-family="Liberation Sans, Arial, Helvetica, sans-serif">-5.0</text>
<line x1="1307.0" y1="367.20" x2="1312.4" y2="367.20" stroke="#000" stroke-width="1.3"/>
<text transform="translate(1301.50,377.70) scale(1.0,1.045)" text-anchor="end" font-size="30" font-family="Liberation Sans, Arial, Helvetica, sans-serif">-5.5</text>
<line x1="1307.0" y1="450.40" x2="1312.4" y2="450.40" stroke="#000" stroke-width="1.3"/>
<text transform="translate(1301.50,460.90) scale(1.0,1.045)" text-anchor="end" font-size="30" font-family="Liberation Sans, Arial, Helvetica, sans-serif">-6.0</text>
<text transform="translate(1238.60,242.30) rotate(-90)" text-anchor="middle" font-size="30.2" font-family="Liberation Sans, Arial, Helvetica, sans-serif">Energy from vacuum level (eV)</text>
<text transform="translate(1522.00,521.10) scale(1.0,1.045)" text-anchor="middle" font-size="30" font-family="Liberation Sans, Arial, Helvetica, sans-serif"><tspan font-style="italic">D</tspan> (Å)</text>
<rect x="1542.6" y="198.3" width="173.4" height="106.2" fill="#fff" stroke="#ccc" stroke-width="1.2"/>
<circle cx="1552.1" cy="208.3" r="6.4" fill="#b22222"/>
<polygon points="1552.20,229.40 1557.40,232.40 1557.40,238.40 1552.20,241.40 1547.00,238.40 1547.00,232.40" fill="none" stroke="#b22222" stroke-width="1.4"/>
<circle cx="1552.1" cy="263.8" r="6.4" fill="#000080"/>
<polygon points="1552.20,285.40 1557.40,288.40 1557.40,294.40 1552.20,297.40 1547.00,294.40 1547.00,288.40" fill="none" stroke="#000080" stroke-width="1.4"/>
<text transform="translate(1564.00,216.40)" font-size="21.5" font-family="Liberation Sans, Arial, Helvetica, sans-serif">CBM-zz</text>
<text transform="translate(1564.00,243.20)" font-size="21.5" font-family="Liberation Sans, Arial, Helvetica, sans-serif">CBM<tspan font-size="14" dy="4.4">mono</tspan><tspan dy="-4.4">+Δ</tspan><tspan font-style="italic">E</tspan><tspan font-size="14" dy="4.4">core</tspan></text>
<text transform="translate(1564.00,271.50)" font-size="21.5" font-family="Liberation Sans, Arial, Helvetica, sans-serif">VBM-zz</text>
<text transform="translate(1564.00,299.00)" font-size="21.5" font-family="Liberation Sans, Arial, Helvetica, sans-serif">VBM<tspan font-size="14" dy="4.4">mono</tspan><tspan dy="-4.4">+Δ</tspan><tspan font-style="italic">E</tspan><tspan font-size="14" dy="4.4">core</tspan></text>
</svg></body></html>
